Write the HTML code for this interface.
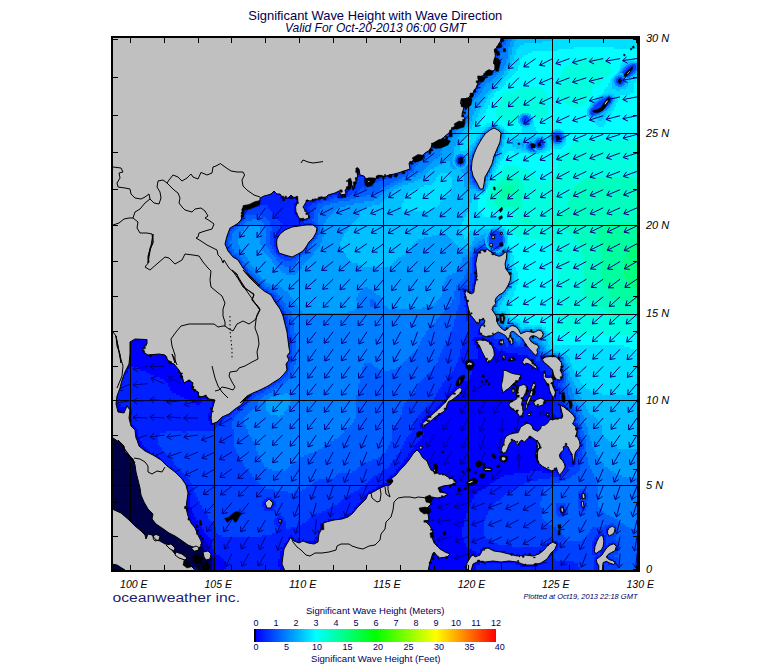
<!DOCTYPE html><html><head><meta charset="utf-8"><title>Significant Wave Height with Wave Direction</title>
<style>html,body{margin:0;padding:0;background:#fff}svg{display:block}text{font-family:"Liberation Sans",sans-serif}</style></head><body>
<svg width="775" height="665" viewBox="0 0 775 665">
<rect width="775" height="665" fill="#fff"/>
<defs><clipPath id="mapclip"><rect x="112" y="37" width="527" height="534"/></clipPath>
<linearGradient id="cb" x1="0" x2="1" y1="0" y2="0"><stop offset="0" stop-color="#0000ff"/><stop offset="0.25" stop-color="#00ffff"/><stop offset="0.5" stop-color="#00ff00"/><stop offset="0.75" stop-color="#ffff00"/><stop offset="1" stop-color="#ff0000"/></linearGradient></defs>
<g clip-path="url(#mapclip)">
<g shape-rendering="crispEdges">
<path fill="#000047" d="M112,413h4v2h-4zM112,415h4v2h-4zM112,417h6v2h-6zM112,419h6v2h-6zM112,421h6v2h-6zM112,423h6v2h-6zM112,425h6v2h-6zM112,427h6v2h-6zM112,429h6v2h-6zM112,431h6v2h-6zM112,433h6v2h-6zM112,435h8v2h-8zM112,437h8v2h-8zM112,439h8v2h-8zM112,441h8v2h-8zM112,443h8v2h-8zM112,445h8v2h-8zM112,447h8v2h-8zM112,449h8v2h-8zM112,451h10v2h-10zM112,453h10v2h-10zM112,455h10v2h-10zM112,457h12v2h-12zM112,459h12v2h-12zM112,461h12v2h-12zM112,463h12v2h-12zM112,465h14v2h-14zM112,467h14v2h-14zM112,469h16v2h-16zM112,471h16v2h-16zM112,473h18v2h-18zM112,475h18v2h-18zM112,477h20v2h-20zM112,479h20v2h-20zM112,481h22v2h-22zM112,483h24v2h-24zM112,485h24v2h-24zM112,487h26v2h-26zM112,489h26v2h-26zM112,491h28v2h-28zM112,493h28v2h-28zM112,495h30v2h-30zM112,497h32v2h-32zM112,499h32v2h-32zM112,501h34v2h-34zM112,503h36v2h-36zM112,505h36v2h-36zM112,507h38v2h-38zM112,509h38v2h-38zM112,511h40v2h-40zM112,513h40v2h-40zM112,515h42v2h-42zM112,517h42v2h-42zM112,519h44v2h-44zM112,521h46v2h-46zM112,523h48v2h-48zM112,525h50v2h-50zM112,527h52v2h-52zM112,529h54v2h-54zM112,531h56v2h-56zM112,533h58v2h-58zM112,535h60v2h-60zM112,537h62v2h-62zM112,539h66v2h-66zM112,541h68v2h-68zM112,543h70v2h-70zM112,545h72v2h-72zM112,547h74v2h-74zM112,549h76v2h-76zM112,551h78v2h-78zM112,553h80v2h-80zM112,555h82v2h-82zM196,555h4v2h-4zM112,557h78v2h-78zM200,557h2v2h-2zM112,559h76v2h-76zM112,561h72v2h-72zM204,561h2v2h-2zM112,563h64v2h-64zM204,563h2v2h-2zM112,565h54v2h-54zM204,565h2v2h-2zM112,567h44v2h-44zM112,569h40v2h-40z"/>
<path fill="#000047" d="M112,411h4v2h-4zM116,413h2v2h-2zM116,415h2v2h-2zM118,417h2v2h-2zM118,419h2v2h-2zM118,421h2v2h-2zM118,423h2v2h-2zM118,425h2v2h-2zM118,427h2v2h-2zM118,429h2v2h-2zM118,431h4v2h-4zM118,433h4v2h-4zM120,435h2v2h-2zM120,437h2v2h-2zM120,439h4v2h-4zM120,441h4v2h-4zM120,443h4v2h-4zM120,445h4v2h-4zM120,447h4v2h-4zM120,449h4v2h-4zM122,451h4v2h-4zM122,453h4v2h-4zM122,455h4v2h-4zM124,457h4v2h-4zM124,459h4v2h-4zM124,461h4v2h-4zM124,463h6v2h-6zM126,465h4v2h-4zM126,467h6v2h-6zM128,469h4v2h-4zM128,471h6v2h-6zM130,473h4v2h-4zM130,475h6v2h-6zM132,477h6v2h-6zM132,479h8v2h-8zM134,481h6v2h-6zM136,483h6v2h-6zM136,485h8v2h-8zM138,487h6v2h-6zM138,489h8v2h-8zM140,491h6v2h-6zM140,493h8v2h-8zM142,495h8v2h-8zM144,497h8v2h-8zM144,499h8v2h-8zM146,501h8v2h-8zM148,503h6v2h-6zM148,505h8v2h-8zM150,507h6v2h-6zM150,509h8v2h-8zM152,511h6v2h-6zM152,513h8v2h-8zM154,515h8v2h-8zM154,517h10v2h-10zM156,519h10v2h-10zM158,521h10v2h-10zM160,523h10v2h-10zM162,525h8v2h-8zM164,527h8v2h-8zM166,529h8v2h-8zM168,531h6v2h-6zM170,533h6v2h-6zM172,535h8v2h-8zM174,537h8v2h-8zM178,539h6v2h-6zM180,541h6v2h-6zM182,543h6v2h-6zM184,545h6v2h-6zM186,547h6v2h-6zM188,549h8v2h-8zM190,551h12v2h-12zM192,553h12v2h-12zM194,555h2v2h-2zM200,555h4v2h-4zM190,557h10v2h-10zM202,557h4v2h-4zM188,559h20v2h-20zM184,561h6v2h-6zM198,561h6v2h-6zM206,561h4v2h-4zM176,563h10v2h-10zM200,563h4v2h-4zM206,563h4v2h-4zM166,565h14v2h-14zM200,565h4v2h-4zM206,565h4v2h-4zM156,567h14v2h-14zM202,567h6v2h-6zM152,569h12v2h-12zM202,569h6v2h-6z"/>
<path fill="#000047" d="M112,409h2v2h-2zM116,411h2v2h-2zM118,413h2v2h-2zM118,415h2v2h-2zM120,419h2v2h-2zM120,421h2v2h-2zM120,423h2v2h-2zM120,425h2v2h-2zM120,427h2v2h-2zM120,429h4v2h-4zM122,431h2v2h-2zM122,433h4v2h-4zM122,435h4v2h-4zM122,437h4v2h-4zM124,439h2v2h-2zM124,441h2v2h-2zM124,443h2v2h-2zM124,445h4v2h-4zM124,447h4v2h-4zM124,449h4v2h-4zM126,451h4v2h-4zM126,453h4v2h-4zM126,455h6v2h-6zM128,457h4v2h-4zM128,459h4v2h-4zM128,461h6v2h-6zM130,463h4v2h-4zM130,465h6v2h-6zM132,467h4v2h-4zM132,469h6v2h-6zM134,471h6v2h-6zM134,473h6v2h-6zM136,475h6v2h-6zM138,477h6v2h-6zM140,479h6v2h-6zM140,481h8v2h-8zM142,483h6v2h-6zM144,485h6v2h-6zM144,487h6v2h-6zM146,489h6v2h-6zM146,491h8v2h-8zM148,493h8v2h-8zM150,495h8v2h-8zM152,497h8v2h-8zM152,499h8v2h-8zM154,501h8v2h-8zM154,503h8v2h-8zM156,505h8v2h-8zM156,507h8v2h-8zM158,509h8v2h-8zM158,511h8v2h-8zM160,513h8v2h-8zM162,515h8v2h-8zM164,517h8v2h-8zM166,519h8v2h-8zM168,521h8v2h-8zM170,523h6v2h-6zM170,525h8v2h-8zM172,527h6v2h-6zM174,529h6v2h-6zM174,531h8v2h-8zM176,533h8v2h-8zM180,535h8v2h-8zM182,537h6v2h-6zM184,539h6v2h-6zM186,541h6v2h-6zM188,543h6v2h-6zM190,545h6v2h-6zM192,547h8v2h-8zM196,549h6v2h-6zM202,551h2v2h-2zM204,553h2v2h-2zM204,555h2v2h-2zM206,557h2v2h-2zM208,559h2v2h-2zM190,561h8v2h-8zM210,561h2v2h-2zM186,563h14v2h-14zM210,563h2v2h-2zM180,565h8v2h-8zM198,565h2v2h-2zM210,565h2v2h-2zM170,567h12v2h-12zM200,567h2v2h-2zM208,567h2v2h-2zM164,569h12v2h-12zM200,569h2v2h-2zM208,569h2v2h-2z"/>
<path fill="#000047" d="M114,409h4v2h-4zM118,411h2v2h-2zM120,413h2v2h-2zM120,415h2v2h-2zM120,417h2v2h-2zM122,421h2v2h-2zM122,423h2v2h-2zM122,425h2v2h-2zM122,427h2v2h-2zM124,429h2v2h-2zM124,431h4v2h-4zM126,433h2v2h-2zM126,435h2v2h-2zM126,437h4v2h-4zM126,439h4v2h-4zM126,441h4v2h-4zM126,443h4v2h-4zM128,445h4v2h-4zM128,447h4v2h-4zM128,449h6v2h-6zM130,451h4v2h-4zM130,453h6v2h-6zM132,455h4v2h-4zM132,457h4v2h-4zM132,459h6v2h-6zM134,461h4v2h-4zM134,463h6v2h-6zM136,465h4v2h-4zM136,467h6v2h-6zM138,469h6v2h-6zM140,471h6v2h-6zM140,473h8v2h-8zM142,475h8v2h-8zM144,477h8v2h-8zM146,479h6v2h-6zM148,481h6v2h-6zM148,483h8v2h-8zM150,485h8v2h-8zM150,487h10v2h-10zM152,489h10v2h-10zM154,491h10v2h-10zM156,493h8v2h-8zM158,495h8v2h-8zM160,497h8v2h-8zM160,499h8v2h-8zM162,501h6v2h-6zM162,503h8v2h-8zM164,505h6v2h-6zM164,507h8v2h-8zM166,509h8v2h-8zM166,511h8v2h-8zM168,513h8v2h-8zM170,515h8v2h-8zM172,517h8v2h-8zM174,519h6v2h-6zM176,521h6v2h-6zM176,523h6v2h-6zM178,525h6v2h-6zM178,527h8v2h-8zM180,529h8v2h-8zM182,531h8v2h-8zM184,533h8v2h-8zM188,535h4v2h-4zM188,537h6v2h-6zM190,539h4v2h-4zM192,541h4v2h-4zM194,543h6v2h-6zM196,545h6v2h-6zM200,547h4v2h-4zM202,549h2v2h-2zM204,551h2v2h-2zM206,553h2v2h-2zM206,555h2v2h-2zM208,557h4v2h-4zM210,559h2v2h-2zM188,565h10v2h-10zM182,567h8v2h-8zM196,567h4v2h-4zM210,567h2v2h-2zM176,569h10v2h-10zM198,569h2v2h-2zM210,569h2v2h-2z"/>
<path fill="#0000c2" d="M112,407h6v2h-6zM118,409h2v2h-2zM120,411h2v2h-2zM122,413h2v2h-2zM122,415h2v2h-2zM122,417h2v2h-2zM122,419h4v2h-4zM124,421h2v2h-2zM124,423h2v2h-2zM124,425h4v2h-4zM124,427h4v2h-4zM126,429h4v2h-4zM128,431h4v2h-4zM128,433h4v2h-4zM128,435h6v2h-6zM130,437h4v2h-4zM130,439h4v2h-4zM130,441h6v2h-6zM130,443h6v2h-6zM132,445h6v2h-6zM132,447h6v2h-6zM134,449h6v2h-6zM134,451h6v2h-6zM136,453h6v2h-6zM136,455h6v2h-6zM136,457h8v2h-8zM138,459h6v2h-6zM138,461h8v2h-8zM140,463h8v2h-8zM140,465h10v2h-10zM142,467h10v2h-10zM144,469h10v2h-10zM146,471h10v2h-10zM148,473h10v2h-10zM150,475h10v2h-10zM152,477h10v2h-10zM152,479h10v2h-10zM154,481h12v2h-12zM156,483h12v2h-12zM158,485h12v2h-12zM160,487h12v2h-12zM162,489h12v2h-12zM164,491h10v2h-10zM164,493h12v2h-12zM166,495h10v2h-10zM168,497h10v2h-10zM168,499h10v2h-10zM168,501h12v2h-12zM170,503h10v2h-10zM170,505h12v2h-12zM172,507h10v2h-10zM174,509h10v2h-10zM174,511h12v2h-12zM176,513h10v2h-10zM178,515h8v2h-8zM180,517h8v2h-8zM180,519h8v2h-8zM182,521h8v2h-8zM182,523h8v2h-8zM184,525h8v2h-8zM186,527h8v2h-8zM188,529h8v2h-8zM190,531h6v2h-6zM192,533h6v2h-6zM192,535h6v2h-6zM194,537h6v2h-6zM194,539h6v2h-6zM196,541h6v2h-6zM200,543h4v2h-4zM202,545h4v2h-4zM204,547h2v2h-2zM204,549h4v2h-4zM206,551h2v2h-2zM208,553h2v2h-2zM208,555h4v2h-4zM212,559h2v2h-2zM212,561h2v2h-2zM212,563h2v2h-2zM212,565h2v2h-2zM190,567h6v2h-6zM212,567h2v2h-2zM186,569h12v2h-12z"/>
<path fill="#0000e1" d="M112,237h2v2h-2zM112,239h4v2h-4zM112,241h6v2h-6zM112,243h8v2h-8zM112,245h10v2h-10zM112,247h12v2h-12zM112,249h14v2h-14zM112,251h16v2h-16zM112,253h20v2h-20zM112,255h22v2h-22zM112,257h24v2h-24zM112,259h26v2h-26zM112,261h28v2h-28zM112,263h30v2h-30zM112,265h32v2h-32zM112,267h34v2h-34zM112,269h38v2h-38zM112,271h40v2h-40zM112,273h42v2h-42zM112,275h44v2h-44zM112,277h46v2h-46zM112,279h50v2h-50zM112,281h52v2h-52zM112,283h54v2h-54zM112,285h56v2h-56zM112,287h58v2h-58zM112,289h62v2h-62zM112,291h62v2h-62zM112,293h64v2h-64zM112,295h62v2h-62zM112,297h62v2h-62zM112,299h60v2h-60zM112,301h58v2h-58zM112,303h56v2h-56zM112,305h56v2h-56zM112,307h54v2h-54zM112,309h52v2h-52zM112,311h50v2h-50zM112,313h50v2h-50zM112,315h48v2h-48zM112,317h46v2h-46zM112,319h46v2h-46zM112,321h44v2h-44zM112,323h42v2h-42zM112,325h40v2h-40zM112,327h40v2h-40zM112,329h38v2h-38zM112,331h38v2h-38zM112,333h36v2h-36zM112,335h36v2h-36zM112,337h34v2h-34zM112,339h28v2h-28zM112,341h20v2h-20zM146,341h2v2h-2zM112,343h20v2h-20zM146,343h2v2h-2zM112,345h20v2h-20zM144,345h8v2h-8zM112,347h20v2h-20zM142,347h12v2h-12zM112,349h20v2h-20zM142,349h14v2h-14zM114,351h18v2h-18zM142,351h16v2h-16zM122,353h8v2h-8zM146,353h14v2h-14zM128,355h2v2h-2zM168,361h4v2h-4zM174,363h2v2h-2zM176,367h2v2h-2zM500,387h8v2h-8zM510,387h4v2h-4zM518,387h10v2h-10zM530,387h4v2h-4zM502,389h4v2h-4zM512,389h2v2h-2zM516,389h12v2h-12zM530,389h4v2h-4zM502,391h2v2h-2zM516,391h12v2h-12zM530,391h4v2h-4zM516,393h8v2h-8zM528,393h4v2h-4zM516,395h8v2h-8zM528,395h4v2h-4zM516,397h8v2h-8zM526,397h4v2h-4zM512,399h10v2h-10zM526,399h4v2h-4zM534,399h10v2h-10zM510,401h12v2h-12zM526,401h2v2h-2zM532,401h14v2h-14zM508,403h14v2h-14zM524,403h4v2h-4zM534,403h10v2h-10zM508,405h14v2h-14zM524,405h4v2h-4zM118,407h2v2h-2zM510,407h12v2h-12zM524,407h2v2h-2zM120,409h2v2h-2zM514,409h12v2h-12zM122,411h2v2h-2zM516,411h6v2h-6zM124,413h2v2h-2zM518,413h4v2h-4zM528,413h2v2h-2zM124,415h2v2h-2zM518,415h2v2h-2zM124,417h4v2h-4zM126,419h2v2h-2zM126,421h2v2h-2zM126,423h4v2h-4zM524,423h6v2h-6zM128,425h2v2h-2zM520,425h12v2h-12zM540,425h10v2h-10zM128,427h4v2h-4zM520,427h12v2h-12zM540,427h10v2h-10zM130,429h4v2h-4zM518,429h18v2h-18zM538,429h12v2h-12zM132,431h2v2h-2zM518,431h34v2h-34zM132,433h4v2h-4zM508,433h44v2h-44zM134,435h2v2h-2zM506,435h46v2h-46zM134,437h2v2h-2zM504,437h24v2h-24zM532,437h20v2h-20zM134,439h4v2h-4zM504,439h22v2h-22zM534,439h18v2h-18zM136,441h2v2h-2zM502,441h8v2h-8zM516,441h4v2h-4zM536,441h16v2h-16zM136,443h4v2h-4zM502,443h6v2h-6zM516,443h2v2h-2zM536,443h18v2h-18zM138,445h2v2h-2zM420,445h2v2h-2zM502,445h6v2h-6zM536,445h18v2h-18zM138,447h4v2h-4zM420,447h2v2h-2zM500,447h8v2h-8zM536,447h18v2h-18zM140,449h4v2h-4zM416,449h2v2h-2zM500,449h6v2h-6zM536,449h18v2h-18zM140,451h6v2h-6zM416,451h4v2h-4zM502,451h4v2h-4zM534,451h20v2h-20zM142,453h4v2h-4zM414,453h6v2h-6zM534,453h20v2h-20zM142,455h6v2h-6zM414,455h8v2h-8zM536,455h18v2h-18zM144,457h6v2h-6zM414,457h10v2h-10zM500,457h6v2h-6zM536,457h18v2h-18zM144,459h8v2h-8zM414,459h12v2h-12zM500,459h6v2h-6zM536,459h18v2h-18zM146,461h8v2h-8zM416,461h12v2h-12zM538,461h16v2h-16zM148,463h8v2h-8zM418,463h10v2h-10zM538,463h14v2h-14zM150,465h8v2h-8zM420,465h10v2h-10zM542,465h10v2h-10zM152,467h8v2h-8zM420,467h10v2h-10zM434,467h2v2h-2zM486,467h4v2h-4zM546,467h4v2h-4zM154,469h8v2h-8zM422,469h10v2h-10zM434,469h2v2h-2zM484,469h6v2h-6zM156,471h8v2h-8zM422,471h14v2h-14zM158,473h8v2h-8zM422,473h22v2h-22zM160,475h8v2h-8zM420,475h26v2h-26zM162,477h8v2h-8zM420,477h34v2h-34zM162,479h10v2h-10zM420,479h36v2h-36zM470,479h2v2h-2zM166,481h8v2h-8zM420,481h38v2h-38zM466,481h6v2h-6zM168,483h8v2h-8zM418,483h38v2h-38zM466,483h4v2h-4zM170,485h8v2h-8zM418,485h32v2h-32zM172,487h8v2h-8zM416,487h24v2h-24zM174,489h8v2h-8zM414,489h26v2h-26zM174,491h8v2h-8zM412,491h34v2h-34zM176,493h8v2h-8zM410,493h40v2h-40zM176,495h8v2h-8zM408,495h38v2h-38zM178,497h6v2h-6zM408,497h36v2h-36zM178,499h8v2h-8zM408,499h22v2h-22zM180,501h6v2h-6zM408,501h24v2h-24zM180,503h6v2h-6zM408,503h24v2h-24zM182,505h4v2h-4zM410,505h20v2h-20zM182,507h6v2h-6zM410,507h18v2h-18zM184,509h4v2h-4zM410,509h14v2h-14zM186,511h2v2h-2zM412,511h14v2h-14zM186,513h4v2h-4zM412,513h18v2h-18zM186,515h4v2h-4zM414,515h14v2h-14zM188,517h2v2h-2zM414,517h16v2h-16zM188,519h4v2h-4zM414,519h16v2h-16zM190,521h2v2h-2zM416,521h10v2h-10zM190,523h4v2h-4zM416,523h12v2h-12zM192,525h4v2h-4zM416,525h14v2h-14zM194,527h2v2h-2zM416,527h16v2h-16zM196,529h2v2h-2zM416,529h16v2h-16zM196,531h4v2h-4zM414,531h20v2h-20zM198,533h2v2h-2zM412,533h22v2h-22zM198,535h4v2h-4zM408,535h24v2h-24zM200,537h4v2h-4zM404,537h28v2h-28zM200,539h6v2h-6zM400,539h34v2h-34zM202,541h6v2h-6zM396,541h38v2h-38zM204,543h4v2h-4zM392,543h44v2h-44zM206,545h2v2h-2zM390,545h48v2h-48zM206,547h4v2h-4zM388,547h52v2h-52zM208,549h2v2h-2zM390,549h52v2h-52zM208,551h2v2h-2zM396,551h50v2h-50zM210,553h2v2h-2zM404,553h30v2h-30zM436,553h14v2h-14zM212,555h2v2h-2zM414,555h18v2h-18zM436,555h12v2h-12zM212,557h4v2h-4zM424,557h8v2h-8zM438,557h2v2h-2zM214,559h2v2h-2zM214,561h2v2h-2zM214,563h2v2h-2zM214,565h2v2h-2zM214,567h2v2h-2zM212,569h4v2h-4z"/>
<path fill="#0000ff" d="M112,37h220v2h-220zM112,39h220v2h-220zM112,41h220v2h-220zM112,43h222v2h-222zM112,45h224v2h-224zM112,47h224v2h-224zM112,49h226v2h-226zM112,51h228v2h-228zM112,53h228v2h-228zM112,55h230v2h-230zM112,57h232v2h-232zM112,59h232v2h-232zM112,61h234v2h-234zM112,63h236v2h-236zM112,65h236v2h-236zM112,67h238v2h-238zM112,69h240v2h-240zM112,71h240v2h-240zM112,73h242v2h-242zM112,75h242v2h-242zM112,77h242v2h-242zM112,79h216v2h-216zM330,79h26v2h-26zM112,81h216v2h-216zM330,81h26v2h-26zM112,83h216v2h-216zM330,83h28v2h-28zM112,85h216v2h-216zM332,85h26v2h-26zM112,87h216v2h-216zM332,87h26v2h-26zM112,89h216v2h-216zM332,89h28v2h-28zM112,91h214v2h-214zM332,91h28v2h-28zM114,93h212v2h-212zM334,93h28v2h-28zM116,95h210v2h-210zM334,95h28v2h-28zM430,95h4v2h-4zM118,97h208v2h-208zM334,97h28v2h-28zM426,97h6v2h-6zM120,99h206v2h-206zM334,99h30v2h-30zM422,99h8v2h-8zM122,101h204v2h-204zM334,101h30v2h-30zM420,101h8v2h-8zM126,103h200v2h-200zM336,103h28v2h-28zM416,103h10v2h-10zM128,105h198v2h-198zM336,105h30v2h-30zM412,105h12v2h-12zM130,107h196v2h-196zM336,107h30v2h-30zM410,107h12v2h-12zM132,109h194v2h-194zM336,109h32v2h-32zM404,109h16v2h-16zM134,111h192v2h-192zM336,111h32v2h-32zM400,111h18v2h-18zM136,113h190v2h-190zM338,113h30v2h-30zM396,113h20v2h-20zM138,115h188v2h-188zM338,115h32v2h-32zM394,115h20v2h-20zM140,117h186v2h-186zM338,117h32v2h-32zM390,117h22v2h-22zM142,119h184v2h-184zM338,119h34v2h-34zM388,119h22v2h-22zM144,121h182v2h-182zM340,121h32v2h-32zM384,121h24v2h-24zM146,123h180v2h-180zM340,123h36v2h-36zM380,123h26v2h-26zM148,125h178v2h-178zM340,125h64v2h-64zM150,127h176v2h-176zM340,127h62v2h-62zM152,129h174v2h-174zM340,129h60v2h-60zM154,131h172v2h-172zM342,131h56v2h-56zM158,133h168v2h-168zM342,133h54v2h-54zM160,135h166v2h-166zM344,135h50v2h-50zM162,137h164v2h-164zM344,137h48v2h-48zM164,139h162v2h-162zM346,139h44v2h-44zM166,141h160v2h-160zM344,141h44v2h-44zM168,143h158v2h-158zM344,143h42v2h-42zM170,145h156v2h-156zM342,145h42v2h-42zM172,147h154v2h-154zM338,147h44v2h-44zM174,149h152v2h-152zM334,149h46v2h-46zM176,151h152v2h-152zM332,151h46v2h-46zM178,153h198v2h-198zM180,155h196v2h-196zM182,157h192v2h-192zM184,159h188v2h-188zM186,161h184v2h-184zM190,163h178v2h-178zM192,165h176v2h-176zM194,167h172v2h-172zM196,169h160v2h-160zM358,169h8v2h-8zM198,171h158v2h-158zM360,171h4v2h-4zM200,173h158v2h-158zM360,173h4v2h-4zM202,175h156v2h-156zM364,175h2v2h-2zM204,177h152v2h-152zM364,177h4v2h-4zM206,179h150v2h-150zM366,179h4v2h-4zM208,181h148v2h-148zM366,181h4v2h-4zM210,183h138v2h-138zM350,183h6v2h-6zM212,185h136v2h-136zM352,185h2v2h-2zM214,187h134v2h-134zM216,189h130v2h-130zM220,191h118v2h-118zM340,191h6v2h-6zM222,193h50v2h-50zM276,193h56v2h-56zM340,193h6v2h-6zM224,195h40v2h-40zM280,195h48v2h-48zM226,197h34v2h-34zM280,197h10v2h-10zM292,197h28v2h-28zM228,199h32v2h-32zM296,199h20v2h-20zM230,201h28v2h-28zM296,201h10v2h-10zM232,203h24v2h-24zM294,203h12v2h-12zM234,205h16v2h-16zM294,205h10v2h-10zM236,207h8v2h-8zM294,207h10v2h-10zM238,209h4v2h-4zM294,209h12v2h-12zM240,211h2v2h-2zM294,211h12v2h-12zM296,213h12v2h-12zM296,215h12v2h-12zM298,217h12v2h-12zM302,219h2v2h-2zM298,225h10v2h-10zM290,227h16v2h-16zM284,229h22v2h-22zM112,231h4v2h-4zM282,231h22v2h-22zM112,233h6v2h-6zM280,233h24v2h-24zM112,235h8v2h-8zM278,235h22v2h-22zM114,237h8v2h-8zM278,237h20v2h-20zM116,239h8v2h-8zM276,239h18v2h-18zM118,241h8v2h-8zM276,241h16v2h-16zM120,243h8v2h-8zM276,243h14v2h-14zM122,245h8v2h-8zM276,245h12v2h-12zM124,247h8v2h-8zM276,247h10v2h-10zM126,249h10v2h-10zM278,249h8v2h-8zM128,251h10v2h-10zM278,251h8v2h-8zM132,253h8v2h-8zM282,253h4v2h-4zM134,255h8v2h-8zM136,257h8v2h-8zM138,259h8v2h-8zM140,261h10v2h-10zM142,263h10v2h-10zM474,263h2v2h-2zM144,265h10v2h-10zM474,265h2v2h-2zM146,267h10v2h-10zM150,269h8v2h-8zM476,269h2v2h-2zM152,271h10v2h-10zM476,271h2v2h-2zM154,273h10v2h-10zM476,273h2v2h-2zM156,275h10v2h-10zM200,275h6v2h-6zM476,275h2v2h-2zM158,277h10v2h-10zM198,277h10v2h-10zM476,277h2v2h-2zM162,279h8v2h-8zM194,279h14v2h-14zM474,279h4v2h-4zM164,281h10v2h-10zM192,281h18v2h-18zM474,281h4v2h-4zM166,283h10v2h-10zM190,283h22v2h-22zM474,283h4v2h-4zM168,285h10v2h-10zM190,285h22v2h-22zM474,285h2v2h-2zM170,287h10v2h-10zM188,287h26v2h-26zM174,289h42v2h-42zM464,289h2v2h-2zM472,289h2v2h-2zM174,291h44v2h-44zM464,291h6v2h-6zM176,293h44v2h-44zM464,293h6v2h-6zM174,295h48v2h-48zM466,295h2v2h-2zM174,297h50v2h-50zM264,297h8v2h-8zM466,297h2v2h-2zM172,299h54v2h-54zM254,299h20v2h-20zM466,299h2v2h-2zM170,301h58v2h-58zM246,301h30v2h-30zM466,301h2v2h-2zM168,303h108v2h-108zM466,303h2v2h-2zM168,305h110v2h-110zM466,305h4v2h-4zM166,307h114v2h-114zM468,307h2v2h-2zM164,309h116v2h-116zM468,309h2v2h-2zM162,311h120v2h-120zM468,311h4v2h-4zM162,313h120v2h-120zM470,313h2v2h-2zM160,315h124v2h-124zM470,315h4v2h-4zM158,317h126v2h-126zM472,317h4v2h-4zM158,319h126v2h-126zM474,319h4v2h-4zM156,321h128v2h-128zM476,321h4v2h-4zM154,323h132v2h-132zM152,325h134v2h-134zM480,325h4v2h-4zM152,327h134v2h-134zM480,327h6v2h-6zM150,329h136v2h-136zM478,329h12v2h-12zM150,331h136v2h-136zM478,331h14v2h-14zM148,333h138v2h-138zM478,333h16v2h-16zM148,335h138v2h-138zM482,335h6v2h-6zM146,337h138v2h-138zM474,337h10v2h-10zM140,339h144v2h-144zM472,339h18v2h-18zM500,339h4v2h-4zM132,341h14v2h-14zM148,341h134v2h-134zM474,341h18v2h-18zM498,341h6v2h-6zM132,343h14v2h-14zM148,343h132v2h-132zM474,343h20v2h-20zM498,343h4v2h-4zM510,343h2v2h-2zM132,345h12v2h-12zM152,345h128v2h-128zM476,345h18v2h-18zM132,347h10v2h-10zM154,347h124v2h-124zM476,347h20v2h-20zM528,347h2v2h-2zM132,349h10v2h-10zM156,349h120v2h-120zM478,349h20v2h-20zM530,349h2v2h-2zM112,351h2v2h-2zM132,351h10v2h-10zM158,351h118v2h-118zM478,351h28v2h-28zM532,351h4v2h-4zM112,353h10v2h-10zM130,353h16v2h-16zM160,353h114v2h-114zM478,353h40v2h-40zM534,353h2v2h-2zM112,355h16v2h-16zM130,355h144v2h-144zM478,355h50v2h-50zM112,357h160v2h-160zM478,357h52v2h-52zM112,359h158v2h-158zM468,359h64v2h-64zM112,361h56v2h-56zM172,361h98v2h-98zM466,361h68v2h-68zM112,363h62v2h-62zM176,363h92v2h-92zM464,363h72v2h-72zM112,365h154v2h-154zM466,365h72v2h-72zM548,365h2v2h-2zM112,367h18v2h-18zM138,367h38v2h-38zM178,367h88v2h-88zM466,367h74v2h-74zM550,367h2v2h-2zM112,369h16v2h-16zM140,369h124v2h-124zM472,369h68v2h-68zM552,369h2v2h-2zM112,371h16v2h-16zM146,371h118v2h-118zM472,371h74v2h-74zM552,371h4v2h-4zM112,373h14v2h-14zM150,373h112v2h-112zM472,373h74v2h-74zM552,373h6v2h-6zM112,375h12v2h-12zM154,375h106v2h-106zM470,375h82v2h-82zM554,375h4v2h-4zM112,377h12v2h-12zM160,377h100v2h-100zM458,377h4v2h-4zM470,377h82v2h-82zM554,377h6v2h-6zM112,379h10v2h-10zM164,379h94v2h-94zM458,379h6v2h-6zM468,379h86v2h-86zM112,381h10v2h-10zM166,381h92v2h-92zM456,381h98v2h-98zM112,383h10v2h-10zM168,383h88v2h-88zM456,383h98v2h-98zM112,385h8v2h-8zM168,385h88v2h-88zM456,385h98v2h-98zM112,387h8v2h-8zM170,387h84v2h-84zM454,387h46v2h-46zM508,387h2v2h-2zM514,387h4v2h-4zM528,387h2v2h-2zM534,387h22v2h-22zM112,389h8v2h-8zM170,389h82v2h-82zM452,389h50v2h-50zM506,389h6v2h-6zM514,389h2v2h-2zM528,389h2v2h-2zM534,389h22v2h-22zM112,391h6v2h-6zM172,391h80v2h-80zM450,391h52v2h-52zM504,391h12v2h-12zM528,391h2v2h-2zM534,391h22v2h-22zM112,393h6v2h-6zM176,393h74v2h-74zM448,393h68v2h-68zM524,393h4v2h-4zM532,393h24v2h-24zM112,395h6v2h-6zM180,395h68v2h-68zM448,395h68v2h-68zM524,395h4v2h-4zM532,395h24v2h-24zM112,397h6v2h-6zM184,397h64v2h-64zM446,397h70v2h-70zM524,397h2v2h-2zM530,397h26v2h-26zM112,399h4v2h-4zM188,399h14v2h-14zM206,399h40v2h-40zM444,399h68v2h-68zM522,399h4v2h-4zM530,399h4v2h-4zM544,399h10v2h-10zM112,401h4v2h-4zM192,401h10v2h-10zM212,401h32v2h-32zM442,401h68v2h-68zM522,401h4v2h-4zM528,401h4v2h-4zM546,401h6v2h-6zM112,403h6v2h-6zM196,403h4v2h-4zM212,403h30v2h-30zM440,403h68v2h-68zM522,403h2v2h-2zM528,403h6v2h-6zM544,403h8v2h-8zM112,405h8v2h-8zM126,405h2v2h-2zM212,405h28v2h-28zM438,405h70v2h-70zM522,405h2v2h-2zM528,405h24v2h-24zM560,405h4v2h-4zM120,407h10v2h-10zM210,407h26v2h-26zM436,407h74v2h-74zM522,407h2v2h-2zM526,407h26v2h-26zM560,407h6v2h-6zM122,409h10v2h-10zM210,409h24v2h-24zM434,409h80v2h-80zM526,409h26v2h-26zM560,409h8v2h-8zM124,411h8v2h-8zM210,411h22v2h-22zM432,411h84v2h-84zM522,411h30v2h-30zM560,411h10v2h-10zM126,413h6v2h-6zM208,413h22v2h-22zM428,413h90v2h-90zM522,413h6v2h-6zM530,413h24v2h-24zM562,413h8v2h-8zM126,415h4v2h-4zM208,415h16v2h-16zM426,415h92v2h-92zM520,415h36v2h-36zM562,415h10v2h-10zM128,417h2v2h-2zM208,417h14v2h-14zM424,417h148v2h-148zM128,419h4v2h-4zM208,419h12v2h-12zM422,419h152v2h-152zM128,421h4v2h-4zM210,421h8v2h-8zM422,421h150v2h-150zM130,423h2v2h-2zM210,423h4v2h-4zM420,423h104v2h-104zM530,423h44v2h-44zM130,425h4v2h-4zM420,425h100v2h-100zM532,425h8v2h-8zM550,425h26v2h-26zM132,427h4v2h-4zM420,427h100v2h-100zM532,427h8v2h-8zM550,427h26v2h-26zM134,429h4v2h-4zM422,429h96v2h-96zM536,429h2v2h-2zM550,429h28v2h-28zM134,431h4v2h-4zM424,431h94v2h-94zM552,431h26v2h-26zM136,433h2v2h-2zM424,433h84v2h-84zM552,433h24v2h-24zM136,435h2v2h-2zM422,435h84v2h-84zM552,435h24v2h-24zM136,437h4v2h-4zM422,437h82v2h-82zM528,437h4v2h-4zM552,437h26v2h-26zM138,439h2v2h-2zM420,439h84v2h-84zM526,439h8v2h-8zM552,439h26v2h-26zM138,441h4v2h-4zM418,441h84v2h-84zM510,441h6v2h-6zM520,441h16v2h-16zM552,441h28v2h-28zM140,443h2v2h-2zM416,443h86v2h-86zM508,443h8v2h-8zM518,443h18v2h-18zM554,443h26v2h-26zM140,445h4v2h-4zM414,445h6v2h-6zM422,445h80v2h-80zM508,445h28v2h-28zM554,445h12v2h-12zM568,445h12v2h-12zM142,447h4v2h-4zM414,447h6v2h-6zM422,447h78v2h-78zM508,447h28v2h-28zM554,447h10v2h-10zM568,447h10v2h-10zM144,449h4v2h-4zM412,449h4v2h-4zM418,449h82v2h-82zM506,449h30v2h-30zM554,449h10v2h-10zM568,449h8v2h-8zM146,451h4v2h-4zM410,451h6v2h-6zM420,451h82v2h-82zM506,451h28v2h-28zM554,451h8v2h-8zM570,451h6v2h-6zM146,453h8v2h-8zM408,453h6v2h-6zM420,453h114v2h-114zM554,453h8v2h-8zM570,453h6v2h-6zM148,455h10v2h-10zM408,455h6v2h-6zM422,455h114v2h-114zM554,455h8v2h-8zM572,455h2v2h-2zM150,457h10v2h-10zM406,457h8v2h-8zM424,457h76v2h-76zM506,457h30v2h-30zM554,457h8v2h-8zM572,457h2v2h-2zM152,459h10v2h-10zM404,459h10v2h-10zM426,459h74v2h-74zM506,459h30v2h-30zM554,459h10v2h-10zM572,459h2v2h-2zM154,461h10v2h-10zM404,461h12v2h-12zM428,461h110v2h-110zM554,461h10v2h-10zM572,461h2v2h-2zM156,463h10v2h-10zM402,463h16v2h-16zM428,463h110v2h-110zM552,463h14v2h-14zM572,463h2v2h-2zM158,465h10v2h-10zM400,465h20v2h-20zM430,465h112v2h-112zM552,465h14v2h-14zM160,467h12v2h-12zM398,467h22v2h-22zM430,467h4v2h-4zM436,467h50v2h-50zM490,467h56v2h-56zM550,467h14v2h-14zM162,469h12v2h-12zM396,469h26v2h-26zM432,469h2v2h-2zM436,469h48v2h-48zM490,469h74v2h-74zM164,471h12v2h-12zM396,471h26v2h-26zM436,471h94v2h-94zM542,471h12v2h-12zM556,471h6v2h-6zM166,473h12v2h-12zM394,473h28v2h-28zM444,473h70v2h-70zM558,473h2v2h-2zM168,475h12v2h-12zM390,475h30v2h-30zM446,475h58v2h-58zM170,477h12v2h-12zM388,477h32v2h-32zM454,477h46v2h-46zM172,479h12v2h-12zM388,479h32v2h-32zM456,479h14v2h-14zM472,479h24v2h-24zM174,481h10v2h-10zM388,481h32v2h-32zM458,481h8v2h-8zM472,481h22v2h-22zM176,483h10v2h-10zM382,483h36v2h-36zM456,483h10v2h-10zM470,483h20v2h-20zM178,485h10v2h-10zM378,485h40v2h-40zM450,485h38v2h-38zM180,487h8v2h-8zM376,487h40v2h-40zM440,487h46v2h-46zM182,489h6v2h-6zM372,489h42v2h-42zM440,489h42v2h-42zM182,491h8v2h-8zM368,491h44v2h-44zM446,491h32v2h-32zM184,493h6v2h-6zM366,493h44v2h-44zM450,493h26v2h-26zM184,495h6v2h-6zM364,495h44v2h-44zM446,495h28v2h-28zM184,497h6v2h-6zM364,497h44v2h-44zM444,497h30v2h-30zM186,499h4v2h-4zM268,499h2v2h-2zM362,499h46v2h-46zM430,499h42v2h-42zM186,501h4v2h-4zM266,501h6v2h-6zM360,501h48v2h-48zM432,501h40v2h-40zM186,503h4v2h-4zM264,503h10v2h-10zM358,503h50v2h-50zM432,503h38v2h-38zM186,505h4v2h-4zM266,505h6v2h-6zM356,505h54v2h-54zM430,505h40v2h-40zM188,507h4v2h-4zM266,507h6v2h-6zM354,507h56v2h-56zM428,507h40v2h-40zM188,509h4v2h-4zM354,509h56v2h-56zM424,509h44v2h-44zM188,511h4v2h-4zM352,511h60v2h-60zM426,511h42v2h-42zM190,513h4v2h-4zM350,513h62v2h-62zM430,513h36v2h-36zM190,515h4v2h-4zM346,515h68v2h-68zM428,515h38v2h-38zM190,517h6v2h-6zM340,517h74v2h-74zM430,517h36v2h-36zM192,519h4v2h-4zM278,519h4v2h-4zM328,519h86v2h-86zM430,519h34v2h-34zM192,521h6v2h-6zM278,521h4v2h-4zM324,521h92v2h-92zM426,521h38v2h-38zM194,523h4v2h-4zM320,523h96v2h-96zM428,523h36v2h-36zM196,525h4v2h-4zM320,525h96v2h-96zM430,525h34v2h-34zM196,527h6v2h-6zM320,527h96v2h-96zM432,527h30v2h-30zM198,529h6v2h-6zM320,529h96v2h-96zM432,529h30v2h-30zM606,529h2v2h-2zM200,531h4v2h-4zM318,531h96v2h-96zM434,531h28v2h-28zM606,531h4v2h-4zM200,533h6v2h-6zM318,533h94v2h-94zM434,533h28v2h-28zM608,533h2v2h-2zM202,535h6v2h-6zM290,535h2v2h-2zM318,535h90v2h-90zM432,535h30v2h-30zM600,535h4v2h-4zM204,537h6v2h-6zM288,537h6v2h-6zM316,537h88v2h-88zM432,537h30v2h-30zM598,537h6v2h-6zM206,539h6v2h-6zM288,539h8v2h-8zM302,539h2v2h-2zM316,539h84v2h-84zM434,539h30v2h-30zM596,539h8v2h-8zM208,541h4v2h-4zM286,541h110v2h-110zM434,541h30v2h-30zM552,541h2v2h-2zM596,541h8v2h-8zM208,543h4v2h-4zM284,543h108v2h-108zM436,543h30v2h-30zM550,543h8v2h-8zM594,543h10v2h-10zM612,543h2v2h-2zM208,545h4v2h-4zM284,545h106v2h-106zM438,545h28v2h-28zM546,545h10v2h-10zM594,545h10v2h-10zM608,545h8v2h-8zM210,547h2v2h-2zM282,547h106v2h-106zM440,547h28v2h-28zM482,547h8v2h-8zM546,547h10v2h-10zM594,547h8v2h-8zM606,547h10v2h-10zM210,549h4v2h-4zM282,549h108v2h-108zM442,549h30v2h-30zM480,549h14v2h-14zM544,549h10v2h-10zM594,549h8v2h-8zM604,549h12v2h-12zM210,551h4v2h-4zM280,551h116v2h-116zM446,551h30v2h-30zM480,551h26v2h-26zM542,551h10v2h-10zM594,551h2v2h-2zM602,551h10v2h-10zM212,553h4v2h-4zM280,553h124v2h-124zM434,553h2v2h-2zM450,553h64v2h-64zM524,553h2v2h-2zM536,553h14v2h-14zM602,553h6v2h-6zM214,555h6v2h-6zM280,555h134v2h-134zM432,555h4v2h-4zM448,555h102v2h-102zM600,555h8v2h-8zM216,557h6v2h-6zM280,557h144v2h-144zM432,557h6v2h-6zM440,557h108v2h-108zM596,557h12v2h-12zM216,559h8v2h-8zM278,559h268v2h-268zM596,559h16v2h-16zM216,561h10v2h-10zM278,561h266v2h-266zM596,561h8v2h-8zM608,561h8v2h-8zM216,563h10v2h-10zM278,563h202v2h-202zM484,563h2v2h-2zM500,563h2v2h-2zM516,563h26v2h-26zM596,563h6v2h-6zM612,563h2v2h-2zM216,565h10v2h-10zM278,565h198v2h-198zM520,565h18v2h-18zM598,565h4v2h-4zM216,567h10v2h-10zM280,567h196v2h-196zM598,567h4v2h-4zM216,569h8v2h-8zM280,569h196v2h-196zM598,569h4v2h-4z"/>
<path fill="#0020ff" d="M332,37h170v2h-170zM332,39h170v2h-170zM332,41h168v2h-168zM334,43h166v2h-166zM336,45h162v2h-162zM336,47h160v2h-160zM338,49h156v2h-156zM340,51h154v2h-154zM340,53h156v2h-156zM342,55h154v2h-154zM344,57h150v2h-150zM344,59h150v2h-150zM346,61h150v2h-150zM348,63h148v2h-148zM348,65h148v2h-148zM350,67h146v2h-146zM352,69h142v2h-142zM630,69h2v2h-2zM352,71h134v2h-134zM490,71h2v2h-2zM628,71h2v2h-2zM354,73h132v2h-132zM626,73h2v2h-2zM354,75h128v2h-128zM354,77h126v2h-126zM328,79h2v2h-2zM356,79h122v2h-122zM328,81h2v2h-2zM356,81h122v2h-122zM328,83h2v2h-2zM358,83h120v2h-120zM328,85h4v2h-4zM358,85h120v2h-120zM328,87h4v2h-4zM358,87h118v2h-118zM328,89h4v2h-4zM360,89h116v2h-116zM326,91h6v2h-6zM360,91h114v2h-114zM112,93h2v2h-2zM326,93h8v2h-8zM362,93h110v2h-110zM112,95h4v2h-4zM326,95h8v2h-8zM362,95h68v2h-68zM434,95h36v2h-36zM112,97h6v2h-6zM326,97h8v2h-8zM362,97h64v2h-64zM432,97h36v2h-36zM112,99h8v2h-8zM326,99h8v2h-8zM364,99h58v2h-58zM430,99h32v2h-32zM112,101h10v2h-10zM326,101h8v2h-8zM364,101h56v2h-56zM428,101h32v2h-32zM604,101h4v2h-4zM112,103h14v2h-14zM326,103h10v2h-10zM364,103h52v2h-52zM426,103h34v2h-34zM602,103h4v2h-4zM112,105h16v2h-16zM326,105h10v2h-10zM366,105h46v2h-46zM424,105h40v2h-40zM112,107h18v2h-18zM326,107h10v2h-10zM366,107h44v2h-44zM422,107h42v2h-42zM112,109h20v2h-20zM326,109h10v2h-10zM368,109h36v2h-36zM420,109h44v2h-44zM112,111h22v2h-22zM326,111h10v2h-10zM368,111h32v2h-32zM418,111h46v2h-46zM112,113h24v2h-24zM326,113h12v2h-12zM368,113h28v2h-28zM416,113h46v2h-46zM112,115h26v2h-26zM326,115h12v2h-12zM370,115h24v2h-24zM414,115h50v2h-50zM112,117h28v2h-28zM326,117h12v2h-12zM370,117h20v2h-20zM412,117h52v2h-52zM112,119h30v2h-30zM326,119h12v2h-12zM372,119h16v2h-16zM410,119h54v2h-54zM112,121h32v2h-32zM326,121h14v2h-14zM372,121h12v2h-12zM408,121h56v2h-56zM112,123h34v2h-34zM326,123h14v2h-14zM376,123h4v2h-4zM406,123h52v2h-52zM112,125h36v2h-36zM326,125h14v2h-14zM404,125h50v2h-50zM112,127h38v2h-38zM326,127h14v2h-14zM402,127h52v2h-52zM112,129h40v2h-40zM326,129h14v2h-14zM400,129h52v2h-52zM112,131h42v2h-42zM326,131h16v2h-16zM398,131h52v2h-52zM112,133h46v2h-46zM326,133h16v2h-16zM396,133h52v2h-52zM112,135h48v2h-48zM326,135h18v2h-18zM394,135h52v2h-52zM112,137h50v2h-50zM326,137h18v2h-18zM392,137h52v2h-52zM112,139h52v2h-52zM326,139h20v2h-20zM390,139h50v2h-50zM112,141h54v2h-54zM326,141h18v2h-18zM388,141h48v2h-48zM112,143h56v2h-56zM326,143h18v2h-18zM386,143h48v2h-48zM112,145h58v2h-58zM326,145h16v2h-16zM384,145h48v2h-48zM112,147h60v2h-60zM326,147h12v2h-12zM382,147h50v2h-50zM112,149h62v2h-62zM326,149h8v2h-8zM380,149h50v2h-50zM112,151h64v2h-64zM328,151h4v2h-4zM378,151h50v2h-50zM112,153h66v2h-66zM376,153h48v2h-48zM112,155h68v2h-68zM376,155h46v2h-46zM112,157h70v2h-70zM374,157h44v2h-44zM112,159h72v2h-72zM372,159h44v2h-44zM112,161h74v2h-74zM370,161h42v2h-42zM472,161h2v2h-2zM112,163h78v2h-78zM368,163h42v2h-42zM472,163h2v2h-2zM112,165h80v2h-80zM368,165h42v2h-42zM470,165h4v2h-4zM112,167h82v2h-82zM366,167h44v2h-44zM470,167h6v2h-6zM112,169h84v2h-84zM356,169h2v2h-2zM366,169h42v2h-42zM470,169h8v2h-8zM112,171h86v2h-86zM356,171h4v2h-4zM364,171h38v2h-38zM472,171h8v2h-8zM112,173h88v2h-88zM358,173h2v2h-2zM364,173h32v2h-32zM472,173h12v2h-12zM112,175h90v2h-90zM358,175h6v2h-6zM366,175h24v2h-24zM472,175h12v2h-12zM112,177h92v2h-92zM356,177h2v2h-2zM368,177h10v2h-10zM474,177h10v2h-10zM112,179h94v2h-94zM356,179h2v2h-2zM364,179h2v2h-2zM374,179h2v2h-2zM474,179h8v2h-8zM112,181h96v2h-96zM370,181h2v2h-2zM476,181h6v2h-6zM112,183h98v2h-98zM348,183h2v2h-2zM478,183h2v2h-2zM112,185h100v2h-100zM348,185h4v2h-4zM354,185h2v2h-2zM112,187h102v2h-102zM348,187h2v2h-2zM352,187h4v2h-4zM112,189h104v2h-104zM346,189h2v2h-2zM112,191h108v2h-108zM338,191h2v2h-2zM346,191h2v2h-2zM112,193h110v2h-110zM272,193h4v2h-4zM332,193h8v2h-8zM346,193h2v2h-2zM112,195h112v2h-112zM264,195h16v2h-16zM328,195h4v2h-4zM340,195h2v2h-2zM112,197h114v2h-114zM260,197h20v2h-20zM290,197h2v2h-2zM320,197h8v2h-8zM112,199h116v2h-116zM260,199h36v2h-36zM316,199h4v2h-4zM112,201h118v2h-118zM258,201h38v2h-38zM306,201h10v2h-10zM112,203h120v2h-120zM256,203h38v2h-38zM306,203h6v2h-6zM112,205h122v2h-122zM250,205h10v2h-10zM268,205h26v2h-26zM304,205h6v2h-6zM112,207h124v2h-124zM244,207h6v2h-6zM268,207h26v2h-26zM304,207h4v2h-4zM112,209h126v2h-126zM242,209h2v2h-2zM270,209h24v2h-24zM306,209h4v2h-4zM112,211h128v2h-128zM242,211h2v2h-2zM272,211h22v2h-22zM306,211h4v2h-4zM112,213h132v2h-132zM274,213h22v2h-22zM308,213h2v2h-2zM112,215h132v2h-132zM274,215h22v2h-22zM308,215h2v2h-2zM112,217h130v2h-130zM276,217h22v2h-22zM112,219h130v2h-130zM278,219h24v2h-24zM304,219h4v2h-4zM112,221h128v2h-128zM280,221h24v2h-24zM112,223h126v2h-126zM282,223h30v2h-30zM112,225h122v2h-122zM280,225h18v2h-18zM308,225h6v2h-6zM112,227h118v2h-118zM280,227h10v2h-10zM306,227h12v2h-12zM112,229h118v2h-118zM278,229h6v2h-6zM306,229h12v2h-12zM116,231h112v2h-112zM276,231h6v2h-6zM304,231h12v2h-12zM118,233h110v2h-110zM276,233h4v2h-4zM304,233h12v2h-12zM120,235h108v2h-108zM276,235h2v2h-2zM300,235h14v2h-14zM490,235h4v2h-4zM122,237h104v2h-104zM274,237h4v2h-4zM298,237h16v2h-16zM492,237h2v2h-2zM124,239h102v2h-102zM274,239h2v2h-2zM294,239h18v2h-18zM126,241h100v2h-100zM274,241h2v2h-2zM292,241h18v2h-18zM128,243h98v2h-98zM274,243h2v2h-2zM290,243h18v2h-18zM488,243h4v2h-4zM130,245h96v2h-96zM274,245h2v2h-2zM288,245h20v2h-20zM490,245h2v2h-2zM132,247h96v2h-96zM286,247h20v2h-20zM136,249h92v2h-92zM276,249h2v2h-2zM286,249h18v2h-18zM480,249h8v2h-8zM138,251h92v2h-92zM276,251h2v2h-2zM286,251h16v2h-16zM478,251h14v2h-14zM140,253h90v2h-90zM278,253h4v2h-4zM286,253h12v2h-12zM476,253h18v2h-18zM142,255h90v2h-90zM284,255h10v2h-10zM474,255h28v2h-28zM144,257h92v2h-92zM474,257h28v2h-28zM146,259h92v2h-92zM474,259h26v2h-26zM150,261h90v2h-90zM474,261h26v2h-26zM152,263h88v2h-88zM476,263h24v2h-24zM154,265h88v2h-88zM476,265h24v2h-24zM156,267h88v2h-88zM474,267h26v2h-26zM158,269h88v2h-88zM474,269h2v2h-2zM478,269h22v2h-22zM162,271h84v2h-84zM474,271h2v2h-2zM478,271h22v2h-22zM164,273h84v2h-84zM474,273h2v2h-2zM478,273h24v2h-24zM166,275h34v2h-34zM206,275h44v2h-44zM474,275h2v2h-2zM478,275h24v2h-24zM168,277h30v2h-30zM208,277h42v2h-42zM474,277h2v2h-2zM478,277h24v2h-24zM170,279h24v2h-24zM208,279h44v2h-44zM478,279h24v2h-24zM174,281h18v2h-18zM210,281h44v2h-44zM478,281h24v2h-24zM176,283h14v2h-14zM212,283h44v2h-44zM472,283h2v2h-2zM478,283h24v2h-24zM178,285h12v2h-12zM212,285h46v2h-46zM472,285h2v2h-2zM476,285h26v2h-26zM180,287h8v2h-8zM214,287h46v2h-46zM472,287h30v2h-30zM216,289h48v2h-48zM466,289h2v2h-2zM474,289h26v2h-26zM218,291h50v2h-50zM470,291h30v2h-30zM220,293h52v2h-52zM470,293h30v2h-30zM222,295h52v2h-52zM464,295h2v2h-2zM468,295h30v2h-30zM224,297h40v2h-40zM272,297h2v2h-2zM464,297h2v2h-2zM468,297h28v2h-28zM226,299h28v2h-28zM274,299h2v2h-2zM464,299h2v2h-2zM468,299h28v2h-28zM228,301h18v2h-18zM468,301h28v2h-28zM276,303h2v2h-2zM468,303h26v2h-26zM278,305h2v2h-2zM464,305h2v2h-2zM470,305h24v2h-24zM466,307h2v2h-2zM470,307h22v2h-22zM280,309h2v2h-2zM466,309h2v2h-2zM470,309h22v2h-22zM282,311h2v2h-2zM466,311h2v2h-2zM472,311h20v2h-20zM282,313h2v2h-2zM466,313h4v2h-4zM472,313h22v2h-22zM466,315h4v2h-4zM474,315h20v2h-20zM284,317h2v2h-2zM466,317h6v2h-6zM476,317h20v2h-20zM284,319h2v2h-2zM466,319h8v2h-8zM478,319h2v2h-2zM484,319h12v2h-12zM284,321h2v2h-2zM468,321h8v2h-8zM484,321h14v2h-14zM468,323h30v2h-30zM468,325h12v2h-12zM484,325h16v2h-16zM286,327h2v2h-2zM468,327h12v2h-12zM486,327h16v2h-16zM506,327h2v2h-2zM286,329h2v2h-2zM468,329h10v2h-10zM490,329h20v2h-20zM286,331h2v2h-2zM468,331h10v2h-10zM492,331h4v2h-4zM500,331h10v2h-10zM286,333h2v2h-2zM468,333h10v2h-10zM494,333h2v2h-2zM504,333h6v2h-6zM286,335h2v2h-2zM466,335h16v2h-16zM488,335h6v2h-6zM506,335h4v2h-4zM520,335h6v2h-6zM284,337h6v2h-6zM466,337h8v2h-8zM484,337h10v2h-10zM506,337h6v2h-6zM522,337h8v2h-8zM284,339h6v2h-6zM464,339h8v2h-8zM490,339h10v2h-10zM508,339h4v2h-4zM522,339h8v2h-8zM282,341h8v2h-8zM464,341h10v2h-10zM492,341h6v2h-6zM508,341h6v2h-6zM524,341h8v2h-8zM280,343h10v2h-10zM462,343h12v2h-12zM494,343h4v2h-4zM502,343h4v2h-4zM508,343h2v2h-2zM512,343h2v2h-2zM524,343h12v2h-12zM280,345h10v2h-10zM462,345h14v2h-14zM494,345h12v2h-12zM508,345h6v2h-6zM524,345h14v2h-14zM278,347h12v2h-12zM462,347h14v2h-14zM496,347h32v2h-32zM530,347h8v2h-8zM276,349h14v2h-14zM460,349h18v2h-18zM498,349h32v2h-32zM532,349h4v2h-4zM276,351h14v2h-14zM460,351h18v2h-18zM506,351h26v2h-26zM536,351h2v2h-2zM274,353h16v2h-16zM460,353h18v2h-18zM518,353h16v2h-16zM536,353h2v2h-2zM274,355h14v2h-14zM460,355h18v2h-18zM528,355h10v2h-10zM540,355h2v2h-2zM546,355h10v2h-10zM272,357h18v2h-18zM458,357h20v2h-20zM530,357h6v2h-6zM540,357h18v2h-18zM270,359h20v2h-20zM458,359h10v2h-10zM532,359h4v2h-4zM540,359h20v2h-20zM270,361h18v2h-18zM458,361h8v2h-8zM534,361h28v2h-28zM268,363h20v2h-20zM456,363h8v2h-8zM536,363h26v2h-26zM266,365h22v2h-22zM456,365h10v2h-10zM538,365h10v2h-10zM550,365h12v2h-12zM130,367h8v2h-8zM266,367h22v2h-22zM454,367h12v2h-12zM540,367h10v2h-10zM552,367h10v2h-10zM128,369h12v2h-12zM264,369h24v2h-24zM454,369h18v2h-18zM540,369h12v2h-12zM554,369h6v2h-6zM128,371h18v2h-18zM264,371h22v2h-22zM452,371h20v2h-20zM546,371h6v2h-6zM556,371h6v2h-6zM126,373h24v2h-24zM262,373h22v2h-22zM450,373h22v2h-22zM546,373h6v2h-6zM558,373h4v2h-4zM124,375h30v2h-30zM260,375h22v2h-22zM448,375h22v2h-22zM552,375h2v2h-2zM558,375h4v2h-4zM124,377h36v2h-36zM260,377h20v2h-20zM448,377h10v2h-10zM462,377h8v2h-8zM552,377h2v2h-2zM560,377h2v2h-2zM122,379h42v2h-42zM258,379h20v2h-20zM446,379h12v2h-12zM464,379h4v2h-4zM554,379h8v2h-8zM122,381h44v2h-44zM258,381h18v2h-18zM444,381h12v2h-12zM554,381h6v2h-6zM122,383h46v2h-46zM256,383h16v2h-16zM442,383h14v2h-14zM554,383h4v2h-4zM120,385h48v2h-48zM256,385h14v2h-14zM442,385h14v2h-14zM554,385h4v2h-4zM120,387h50v2h-50zM254,387h12v2h-12zM440,387h14v2h-14zM556,387h4v2h-4zM120,389h50v2h-50zM252,389h10v2h-10zM438,389h14v2h-14zM556,389h4v2h-4zM118,391h54v2h-54zM252,391h6v2h-6zM438,391h12v2h-12zM556,391h4v2h-4zM118,393h58v2h-58zM250,393h4v2h-4zM436,393h12v2h-12zM556,393h4v2h-4zM118,395h62v2h-62zM248,395h4v2h-4zM436,395h12v2h-12zM556,395h4v2h-4zM118,397h66v2h-66zM248,397h2v2h-2zM434,397h12v2h-12zM556,397h4v2h-4zM116,399h72v2h-72zM202,399h4v2h-4zM246,399h2v2h-2zM434,399h10v2h-10zM554,399h6v2h-6zM116,401h76v2h-76zM202,401h10v2h-10zM244,401h2v2h-2zM432,401h10v2h-10zM552,401h10v2h-10zM118,403h78v2h-78zM200,403h12v2h-12zM242,403h2v2h-2zM430,403h10v2h-10zM552,403h12v2h-12zM120,405h6v2h-6zM128,405h84v2h-84zM240,405h2v2h-2zM428,405h10v2h-10zM552,405h8v2h-8zM564,405h2v2h-2zM130,407h80v2h-80zM236,407h4v2h-4zM426,407h10v2h-10zM552,407h8v2h-8zM566,407h2v2h-2zM132,409h78v2h-78zM234,409h2v2h-2zM424,409h10v2h-10zM552,409h8v2h-8zM568,409h2v2h-2zM132,411h78v2h-78zM232,411h2v2h-2zM422,411h10v2h-10zM552,411h8v2h-8zM570,411h2v2h-2zM132,413h76v2h-76zM230,413h2v2h-2zM420,413h8v2h-8zM554,413h8v2h-8zM570,413h4v2h-4zM130,415h78v2h-78zM224,415h6v2h-6zM418,415h8v2h-8zM556,415h6v2h-6zM572,415h4v2h-4zM130,417h78v2h-78zM222,417h4v2h-4zM418,417h6v2h-6zM572,417h4v2h-4zM132,419h76v2h-76zM220,419h4v2h-4zM416,419h6v2h-6zM574,419h2v2h-2zM132,421h78v2h-78zM218,421h4v2h-4zM414,421h8v2h-8zM572,421h2v2h-2zM132,423h78v2h-78zM214,423h6v2h-6zM414,423h6v2h-6zM574,423h2v2h-2zM134,425h84v2h-84zM414,425h6v2h-6zM136,427h80v2h-80zM414,427h6v2h-6zM576,427h2v2h-2zM138,429h76v2h-76zM412,429h10v2h-10zM138,431h28v2h-28zM182,431h4v2h-4zM412,431h12v2h-12zM138,433h22v2h-22zM410,433h14v2h-14zM576,433h2v2h-2zM138,435h20v2h-20zM408,435h14v2h-14zM576,435h2v2h-2zM140,437h18v2h-18zM406,437h16v2h-16zM578,437h2v2h-2zM140,439h18v2h-18zM406,439h14v2h-14zM578,439h2v2h-2zM142,441h16v2h-16zM404,441h14v2h-14zM142,443h16v2h-16zM404,443h12v2h-12zM580,443h2v2h-2zM144,445h16v2h-16zM402,445h12v2h-12zM566,445h2v2h-2zM580,445h2v2h-2zM146,447h16v2h-16zM402,447h12v2h-12zM564,447h4v2h-4zM578,447h2v2h-2zM148,449h14v2h-14zM400,449h12v2h-12zM564,449h4v2h-4zM576,449h4v2h-4zM150,451h14v2h-14zM400,451h10v2h-10zM562,451h8v2h-8zM576,451h2v2h-2zM154,453h12v2h-12zM398,453h10v2h-10zM562,453h8v2h-8zM576,453h2v2h-2zM158,455h10v2h-10zM396,455h12v2h-12zM562,455h10v2h-10zM574,455h4v2h-4zM160,457h10v2h-10zM396,457h10v2h-10zM562,457h10v2h-10zM574,457h2v2h-2zM162,459h10v2h-10zM394,459h10v2h-10zM564,459h8v2h-8zM574,459h2v2h-2zM164,461h10v2h-10zM392,461h12v2h-12zM564,461h8v2h-8zM574,461h2v2h-2zM166,463h8v2h-8zM390,463h12v2h-12zM566,463h6v2h-6zM574,463h2v2h-2zM168,465h8v2h-8zM390,465h10v2h-10zM566,465h8v2h-8zM172,467h6v2h-6zM388,467h10v2h-10zM564,467h4v2h-4zM174,469h6v2h-6zM384,469h12v2h-12zM564,469h4v2h-4zM176,471h6v2h-6zM382,471h14v2h-14zM530,471h12v2h-12zM554,471h2v2h-2zM562,471h4v2h-4zM178,473h6v2h-6zM378,473h16v2h-16zM514,473h44v2h-44zM560,473h4v2h-4zM180,475h6v2h-6zM374,475h16v2h-16zM504,475h58v2h-58zM182,477h6v2h-6zM372,477h16v2h-16zM500,477h50v2h-50zM184,479h6v2h-6zM370,479h18v2h-18zM496,479h42v2h-42zM184,481h6v2h-6zM368,481h20v2h-20zM494,481h36v2h-36zM186,483h6v2h-6zM366,483h16v2h-16zM490,483h34v2h-34zM188,485h4v2h-4zM364,485h14v2h-14zM488,485h30v2h-30zM188,487h6v2h-6zM360,487h16v2h-16zM486,487h30v2h-30zM188,489h6v2h-6zM358,489h14v2h-14zM482,489h30v2h-30zM190,491h4v2h-4zM354,491h14v2h-14zM478,491h32v2h-32zM582,491h2v2h-2zM190,493h6v2h-6zM350,493h16v2h-16zM476,493h30v2h-30zM580,493h6v2h-6zM190,495h6v2h-6zM348,495h16v2h-16zM474,495h30v2h-30zM580,495h6v2h-6zM190,497h8v2h-8zM266,497h6v2h-6zM344,497h20v2h-20zM474,497h28v2h-28zM582,497h4v2h-4zM190,499h8v2h-8zM264,499h4v2h-4zM270,499h4v2h-4zM342,499h20v2h-20zM472,499h28v2h-28zM190,501h10v2h-10zM262,501h4v2h-4zM272,501h4v2h-4zM340,501h20v2h-20zM472,501h24v2h-24zM580,501h4v2h-4zM190,503h10v2h-10zM262,503h2v2h-2zM274,503h2v2h-2zM338,503h20v2h-20zM470,503h24v2h-24zM580,503h4v2h-4zM190,505h12v2h-12zM262,505h4v2h-4zM272,505h4v2h-4zM334,505h22v2h-22zM470,505h22v2h-22zM560,505h4v2h-4zM580,505h4v2h-4zM192,507h10v2h-10zM264,507h2v2h-2zM272,507h2v2h-2zM330,507h24v2h-24zM468,507h24v2h-24zM558,507h6v2h-6zM582,507h2v2h-2zM192,509h12v2h-12zM264,509h10v2h-10zM326,509h28v2h-28zM468,509h22v2h-22zM558,509h8v2h-8zM192,511h14v2h-14zM322,511h30v2h-30zM468,511h20v2h-20zM560,511h6v2h-6zM194,513h12v2h-12zM318,513h32v2h-32zM466,513h22v2h-22zM560,513h2v2h-2zM194,515h14v2h-14zM278,515h4v2h-4zM312,515h34v2h-34zM466,515h20v2h-20zM196,517h12v2h-12zM276,517h8v2h-8zM310,517h30v2h-30zM466,517h20v2h-20zM196,519h14v2h-14zM274,519h4v2h-4zM282,519h2v2h-2zM308,519h20v2h-20zM464,519h20v2h-20zM198,521h14v2h-14zM274,521h4v2h-4zM282,521h4v2h-4zM306,521h18v2h-18zM464,521h20v2h-20zM198,523h16v2h-16zM274,523h12v2h-12zM302,523h18v2h-18zM464,523h20v2h-20zM200,525h14v2h-14zM276,525h10v2h-10zM298,525h22v2h-22zM464,525h20v2h-20zM608,525h2v2h-2zM202,527h14v2h-14zM278,527h8v2h-8zM290,527h30v2h-30zM462,527h22v2h-22zM606,527h10v2h-10zM204,529h12v2h-12zM278,529h42v2h-42zM462,529h22v2h-22zM608,529h6v2h-6zM204,531h12v2h-12zM276,531h42v2h-42zM462,531h22v2h-22zM610,531h4v2h-4zM206,533h12v2h-12zM272,533h46v2h-46zM462,533h22v2h-22zM598,533h6v2h-6zM606,533h2v2h-2zM610,533h4v2h-4zM208,535h14v2h-14zM262,535h28v2h-28zM292,535h26v2h-26zM462,535h22v2h-22zM596,535h4v2h-4zM604,535h2v2h-2zM608,535h2v2h-2zM210,537h78v2h-78zM294,537h22v2h-22zM462,537h24v2h-24zM594,537h4v2h-4zM604,537h2v2h-2zM212,539h76v2h-76zM296,539h6v2h-6zM304,539h12v2h-12zM464,539h26v2h-26zM550,539h4v2h-4zM594,539h2v2h-2zM604,539h2v2h-2zM212,541h74v2h-74zM464,541h30v2h-30zM548,541h4v2h-4zM554,541h4v2h-4zM592,541h4v2h-4zM604,541h2v2h-2zM612,541h2v2h-2zM212,543h72v2h-72zM466,543h32v2h-32zM544,543h6v2h-6zM558,543h2v2h-2zM592,543h2v2h-2zM604,543h2v2h-2zM608,543h4v2h-4zM614,543h2v2h-2zM212,545h72v2h-72zM466,545h46v2h-46zM542,545h4v2h-4zM556,545h4v2h-4zM592,545h2v2h-2zM604,545h4v2h-4zM616,545h2v2h-2zM212,547h70v2h-70zM468,547h14v2h-14zM490,547h56v2h-56zM556,547h2v2h-2zM592,547h2v2h-2zM602,547h4v2h-4zM214,549h68v2h-68zM472,549h8v2h-8zM494,549h50v2h-50zM554,549h4v2h-4zM592,549h2v2h-2zM602,549h2v2h-2zM214,551h66v2h-66zM476,551h4v2h-4zM506,551h36v2h-36zM552,551h4v2h-4zM592,551h2v2h-2zM596,551h6v2h-6zM612,551h2v2h-2zM216,553h64v2h-64zM514,553h10v2h-10zM526,553h10v2h-10zM550,553h4v2h-4zM592,553h6v2h-6zM600,553h2v2h-2zM608,553h2v2h-2zM220,555h60v2h-60zM550,555h4v2h-4zM596,555h4v2h-4zM222,557h58v2h-58zM548,557h6v2h-6zM594,557h2v2h-2zM608,557h2v2h-2zM224,559h54v2h-54zM546,559h10v2h-10zM594,559h2v2h-2zM612,559h2v2h-2zM226,561h52v2h-52zM544,561h30v2h-30zM594,561h2v2h-2zM604,561h4v2h-4zM226,563h52v2h-52zM480,563h4v2h-4zM486,563h14v2h-14zM502,563h14v2h-14zM542,563h36v2h-36zM594,563h2v2h-2zM602,563h2v2h-2zM608,563h4v2h-4zM614,563h2v2h-2zM226,565h52v2h-52zM476,565h44v2h-44zM538,565h40v2h-40zM594,565h4v2h-4zM602,565h2v2h-2zM226,567h54v2h-54zM476,567h104v2h-104zM594,567h4v2h-4zM602,567h2v2h-2zM224,569h56v2h-56zM476,569h104v2h-104zM594,569h4v2h-4zM602,569h2v2h-2z"/>
<path fill="#0040ff" d="M502,37h2v2h-2zM502,39h2v2h-2zM500,41h2v2h-2zM500,43h2v2h-2zM498,45h2v2h-2zM496,47h4v2h-4zM494,49h4v2h-4zM494,51h2v2h-2zM496,53h2v2h-2zM496,55h2v2h-2zM494,57h2v2h-2zM494,59h2v2h-2zM496,63h2v2h-2zM496,65h2v2h-2zM494,69h2v2h-2zM486,71h4v2h-4zM492,71h2v2h-2zM486,73h2v2h-2zM482,75h4v2h-4zM478,79h2v2h-2zM618,79h2v2h-2zM478,81h2v2h-2zM618,81h2v2h-2zM478,83h2v2h-2zM476,87h2v2h-2zM474,91h2v2h-2zM472,93h2v2h-2zM470,95h2v2h-2zM468,97h2v2h-2zM606,99h2v2h-2zM460,101h2v2h-2zM460,103h2v2h-2zM464,107h2v2h-2zM462,113h2v2h-2zM464,117h2v2h-2zM464,119h2v2h-2zM458,123h4v2h-4zM454,125h2v2h-2zM490,129h8v2h-8zM450,131h2v2h-2zM488,131h12v2h-12zM448,133h2v2h-2zM484,133h18v2h-18zM484,135h18v2h-18zM482,137h18v2h-18zM440,139h2v2h-2zM480,139h20v2h-20zM436,141h4v2h-4zM480,141h20v2h-20zM434,143h2v2h-2zM478,143h22v2h-22zM432,145h2v2h-2zM478,145h20v2h-20zM476,147h22v2h-22zM430,149h2v2h-2zM476,149h22v2h-22zM428,151h2v2h-2zM474,151h22v2h-22zM424,153h2v2h-2zM474,153h22v2h-22zM422,155h2v2h-2zM472,155h22v2h-22zM418,157h4v2h-4zM472,157h22v2h-22zM416,159h2v2h-2zM472,159h22v2h-22zM412,161h4v2h-4zM474,161h18v2h-18zM410,163h2v2h-2zM474,163h18v2h-18zM410,165h2v2h-2zM474,165h18v2h-18zM410,167h2v2h-2zM476,167h14v2h-14zM408,169h4v2h-4zM478,169h12v2h-12zM402,171h6v2h-6zM480,171h8v2h-8zM396,173h6v2h-6zM484,173h4v2h-4zM390,175h6v2h-6zM484,175h2v2h-2zM358,177h6v2h-6zM378,177h14v2h-14zM472,177h2v2h-2zM484,177h2v2h-2zM358,179h6v2h-6zM370,179h4v2h-4zM376,179h8v2h-8zM482,179h4v2h-4zM356,181h10v2h-10zM372,181h6v2h-6zM474,181h2v2h-2zM482,181h2v2h-2zM356,183h18v2h-18zM480,183h4v2h-4zM356,185h18v2h-18zM478,185h6v2h-6zM350,187h2v2h-2zM356,187h6v2h-6zM364,187h2v2h-2zM480,187h4v2h-4zM348,189h12v2h-12zM348,191h10v2h-10zM348,193h4v2h-4zM332,195h8v2h-8zM342,195h8v2h-8zM328,197h6v2h-6zM338,197h4v2h-4zM320,199h10v2h-10zM316,201h6v2h-6zM312,203h6v2h-6zM260,205h8v2h-8zM310,205h6v2h-6zM250,207h18v2h-18zM308,207h8v2h-8zM244,209h26v2h-26zM310,209h4v2h-4zM244,211h28v2h-28zM310,211h4v2h-4zM244,213h30v2h-30zM310,213h4v2h-4zM244,215h2v2h-2zM262,215h12v2h-12zM310,215h4v2h-4zM242,217h2v2h-2zM266,217h10v2h-10zM310,217h4v2h-4zM242,219h2v2h-2zM268,219h10v2h-10zM308,219h4v2h-4zM240,221h2v2h-2zM270,221h10v2h-10zM304,221h10v2h-10zM238,223h2v2h-2zM270,223h12v2h-12zM312,223h4v2h-4zM234,225h2v2h-2zM270,225h10v2h-10zM314,225h4v2h-4zM230,227h4v2h-4zM272,227h8v2h-8zM230,229h2v2h-2zM272,229h6v2h-6zM228,231h2v2h-2zM270,231h6v2h-6zM316,231h2v2h-2zM500,231h2v2h-2zM228,233h2v2h-2zM270,233h6v2h-6zM316,233h2v2h-2zM500,233h2v2h-2zM228,235h2v2h-2zM270,235h6v2h-6zM314,235h2v2h-2zM226,237h2v2h-2zM270,237h4v2h-4zM314,237h2v2h-2zM490,237h2v2h-2zM494,237h2v2h-2zM226,239h2v2h-2zM270,239h4v2h-4zM312,239h2v2h-2zM226,241h2v2h-2zM270,241h4v2h-4zM310,241h2v2h-2zM488,241h6v2h-6zM226,243h2v2h-2zM270,243h4v2h-4zM308,243h2v2h-2zM486,243h2v2h-2zM492,243h2v2h-2zM226,245h2v2h-2zM272,245h2v2h-2zM488,245h2v2h-2zM492,245h2v2h-2zM228,247h2v2h-2zM272,247h4v2h-4zM306,247h2v2h-2zM480,247h10v2h-10zM228,249h2v2h-2zM274,249h2v2h-2zM304,249h2v2h-2zM476,249h4v2h-4zM488,249h4v2h-4zM230,251h2v2h-2zM274,251h2v2h-2zM302,251h2v2h-2zM476,251h2v2h-2zM504,251h2v2h-2zM230,253h2v2h-2zM276,253h2v2h-2zM298,253h4v2h-4zM474,253h2v2h-2zM494,253h2v2h-2zM502,253h4v2h-4zM232,255h4v2h-4zM278,255h6v2h-6zM294,255h4v2h-4zM502,255h4v2h-4zM236,257h2v2h-2zM280,257h16v2h-16zM472,257h2v2h-2zM502,257h4v2h-4zM238,259h2v2h-2zM284,259h8v2h-8zM472,259h2v2h-2zM500,259h6v2h-6zM240,261h2v2h-2zM472,261h2v2h-2zM500,261h6v2h-6zM240,263h2v2h-2zM472,263h2v2h-2zM500,263h6v2h-6zM242,265h2v2h-2zM472,265h2v2h-2zM500,265h6v2h-6zM244,267h2v2h-2zM472,267h2v2h-2zM500,267h6v2h-6zM246,269h2v2h-2zM472,269h2v2h-2zM500,269h8v2h-8zM246,271h2v2h-2zM472,271h2v2h-2zM500,271h8v2h-8zM248,273h2v2h-2zM470,273h4v2h-4zM502,273h8v2h-8zM250,275h2v2h-2zM470,275h4v2h-4zM502,275h8v2h-8zM250,277h4v2h-4zM470,277h4v2h-4zM502,277h8v2h-8zM252,279h4v2h-4zM470,279h4v2h-4zM502,279h8v2h-8zM254,281h4v2h-4zM468,281h6v2h-6zM502,281h8v2h-8zM256,283h4v2h-4zM468,283h4v2h-4zM502,283h6v2h-6zM258,285h4v2h-4zM464,285h8v2h-8zM502,285h6v2h-6zM260,287h4v2h-4zM462,287h10v2h-10zM502,287h4v2h-4zM264,289h4v2h-4zM460,289h4v2h-4zM468,289h4v2h-4zM500,289h4v2h-4zM268,291h2v2h-2zM460,291h4v2h-4zM500,291h4v2h-4zM272,293h2v2h-2zM460,293h4v2h-4zM274,295h2v2h-2zM460,295h4v2h-4zM274,297h2v2h-2zM460,297h4v2h-4zM276,299h2v2h-2zM460,299h4v2h-4zM276,301h4v2h-4zM460,301h6v2h-6zM278,303h2v2h-2zM460,303h6v2h-6zM280,305h2v2h-2zM458,305h6v2h-6zM280,307h4v2h-4zM458,307h8v2h-8zM282,309h2v2h-2zM458,309h8v2h-8zM284,311h2v2h-2zM456,311h10v2h-10zM492,311h2v2h-2zM284,313h2v2h-2zM456,313h10v2h-10zM494,313h2v2h-2zM284,315h4v2h-4zM456,315h10v2h-10zM494,315h2v2h-2zM500,315h4v2h-4zM286,317h2v2h-2zM456,317h10v2h-10zM500,317h4v2h-4zM286,319h2v2h-2zM454,319h12v2h-12zM480,319h4v2h-4zM500,319h4v2h-4zM286,321h2v2h-2zM454,321h14v2h-14zM480,321h4v2h-4zM286,323h2v2h-2zM454,323h14v2h-14zM286,325h4v2h-4zM454,325h14v2h-14zM510,325h6v2h-6zM288,327h2v2h-2zM452,327h16v2h-16zM508,327h10v2h-10zM288,329h2v2h-2zM452,329h16v2h-16zM510,329h8v2h-8zM288,331h2v2h-2zM452,331h16v2h-16zM496,331h4v2h-4zM514,331h6v2h-6zM522,331h20v2h-20zM288,333h2v2h-2zM450,333h18v2h-18zM496,333h8v2h-8zM516,333h28v2h-28zM288,335h4v2h-4zM450,335h16v2h-16zM494,335h12v2h-12zM510,335h2v2h-2zM526,335h4v2h-4zM536,335h6v2h-6zM290,337h2v2h-2zM448,337h18v2h-18zM494,337h12v2h-12zM538,337h2v2h-2zM290,339h2v2h-2zM448,339h16v2h-16zM504,339h4v2h-4zM512,339h2v2h-2zM290,341h2v2h-2zM446,341h18v2h-18zM504,341h4v2h-4zM514,341h2v2h-2zM522,341h2v2h-2zM532,341h2v2h-2zM290,343h2v2h-2zM446,343h16v2h-16zM506,343h2v2h-2zM514,343h4v2h-4zM520,343h4v2h-4zM536,343h2v2h-2zM290,345h2v2h-2zM444,345h18v2h-18zM506,345h2v2h-2zM514,345h10v2h-10zM290,347h2v2h-2zM444,347h18v2h-18zM538,347h2v2h-2zM290,349h2v2h-2zM442,349h18v2h-18zM536,349h2v2h-2zM290,351h2v2h-2zM442,351h18v2h-18zM538,351h2v2h-2zM290,353h2v2h-2zM440,353h20v2h-20zM538,353h2v2h-2zM288,355h2v2h-2zM440,355h20v2h-20zM538,355h2v2h-2zM542,355h4v2h-4zM290,357h2v2h-2zM438,357h20v2h-20zM536,357h4v2h-4zM290,359h2v2h-2zM438,359h20v2h-20zM536,359h4v2h-4zM288,361h4v2h-4zM438,361h20v2h-20zM288,363h2v2h-2zM436,363h20v2h-20zM288,365h2v2h-2zM434,365h22v2h-22zM562,365h2v2h-2zM288,367h2v2h-2zM434,367h20v2h-20zM288,369h2v2h-2zM432,369h22v2h-22zM560,369h2v2h-2zM286,371h2v2h-2zM430,371h22v2h-22zM562,371h2v2h-2zM284,373h4v2h-4zM428,373h22v2h-22zM562,373h2v2h-2zM282,375h4v2h-4zM426,375h22v2h-22zM562,375h2v2h-2zM280,377h4v2h-4zM424,377h24v2h-24zM562,377h2v2h-2zM278,379h4v2h-4zM422,379h24v2h-24zM562,379h2v2h-2zM276,381h4v2h-4zM420,381h24v2h-24zM560,381h4v2h-4zM272,383h4v2h-4zM418,383h24v2h-24zM558,383h4v2h-4zM270,385h4v2h-4zM418,385h24v2h-24zM558,385h4v2h-4zM266,387h4v2h-4zM416,387h24v2h-24zM560,387h4v2h-4zM262,389h4v2h-4zM416,389h22v2h-22zM560,389h4v2h-4zM258,391h6v2h-6zM414,391h24v2h-24zM560,391h4v2h-4zM254,393h6v2h-6zM414,393h22v2h-22zM560,393h4v2h-4zM252,395h4v2h-4zM412,395h24v2h-24zM560,395h4v2h-4zM250,397h4v2h-4zM410,397h24v2h-24zM560,397h4v2h-4zM248,399h4v2h-4zM408,399h26v2h-26zM560,399h6v2h-6zM246,401h4v2h-4zM406,401h26v2h-26zM562,401h4v2h-4zM244,403h4v2h-4zM404,403h26v2h-26zM564,403h4v2h-4zM242,405h4v2h-4zM404,405h24v2h-24zM566,405h2v2h-2zM240,407h4v2h-4zM402,407h24v2h-24zM568,407h2v2h-2zM236,409h6v2h-6zM402,409h22v2h-22zM570,409h4v2h-4zM234,411h6v2h-6zM402,411h20v2h-20zM572,411h2v2h-2zM232,413h6v2h-6zM402,413h18v2h-18zM574,413h2v2h-2zM230,415h6v2h-6zM400,415h18v2h-18zM226,417h8v2h-8zM400,417h18v2h-18zM576,417h2v2h-2zM224,419h10v2h-10zM400,419h16v2h-16zM576,419h2v2h-2zM222,421h10v2h-10zM398,421h16v2h-16zM574,421h2v2h-2zM220,423h12v2h-12zM396,423h18v2h-18zM576,423h2v2h-2zM218,425h14v2h-14zM394,425h20v2h-20zM576,425h2v2h-2zM216,427h16v2h-16zM394,427h20v2h-20zM578,427h2v2h-2zM214,429h20v2h-20zM394,429h18v2h-18zM578,429h2v2h-2zM166,431h16v2h-16zM186,431h48v2h-48zM392,431h20v2h-20zM578,431h2v2h-2zM160,433h74v2h-74zM392,433h18v2h-18zM578,433h2v2h-2zM158,435h76v2h-76zM392,435h16v2h-16zM578,435h2v2h-2zM158,437h76v2h-76zM392,437h14v2h-14zM580,437h2v2h-2zM158,439h76v2h-76zM392,439h14v2h-14zM580,439h2v2h-2zM158,441h76v2h-76zM390,441h14v2h-14zM580,441h2v2h-2zM158,443h76v2h-76zM390,443h14v2h-14zM582,443h2v2h-2zM160,445h74v2h-74zM388,445h14v2h-14zM582,445h2v2h-2zM162,447h74v2h-74zM388,447h14v2h-14zM580,447h4v2h-4zM162,449h74v2h-74zM386,449h14v2h-14zM580,449h2v2h-2zM164,451h72v2h-72zM386,451h14v2h-14zM578,451h4v2h-4zM166,453h72v2h-72zM384,453h14v2h-14zM578,453h4v2h-4zM168,455h70v2h-70zM382,455h14v2h-14zM578,455h4v2h-4zM170,457h70v2h-70zM378,457h18v2h-18zM576,457h6v2h-6zM172,459h68v2h-68zM372,459h22v2h-22zM576,459h6v2h-6zM174,461h68v2h-68zM368,461h24v2h-24zM576,461h6v2h-6zM174,463h70v2h-70zM364,463h26v2h-26zM576,463h6v2h-6zM176,465h68v2h-68zM360,465h30v2h-30zM574,465h6v2h-6zM178,467h68v2h-68zM358,467h30v2h-30zM568,467h12v2h-12zM180,469h68v2h-68zM356,469h28v2h-28zM568,469h12v2h-12zM182,471h68v2h-68zM352,471h30v2h-30zM566,471h12v2h-12zM184,473h68v2h-68zM338,473h40v2h-40zM564,473h12v2h-12zM186,475h66v2h-66zM336,475h38v2h-38zM562,475h10v2h-10zM188,477h66v2h-66zM334,477h38v2h-38zM550,477h20v2h-20zM190,479h66v2h-66zM318,479h52v2h-52zM538,479h28v2h-28zM190,481h68v2h-68zM314,481h54v2h-54zM530,481h30v2h-30zM192,483h68v2h-68zM312,483h54v2h-54zM524,483h30v2h-30zM192,485h70v2h-70zM310,485h54v2h-54zM518,485h30v2h-30zM194,487h70v2h-70zM306,487h54v2h-54zM516,487h28v2h-28zM194,489h80v2h-80zM302,489h56v2h-56zM512,489h32v2h-32zM580,489h6v2h-6zM194,491h94v2h-94zM294,491h60v2h-60zM510,491h32v2h-32zM578,491h4v2h-4zM584,491h2v2h-2zM196,493h154v2h-154zM506,493h36v2h-36zM578,493h2v2h-2zM586,493h2v2h-2zM196,495h152v2h-152zM504,495h38v2h-38zM578,495h2v2h-2zM586,495h2v2h-2zM198,497h68v2h-68zM272,497h72v2h-72zM502,497h40v2h-40zM578,497h4v2h-4zM586,497h2v2h-2zM198,499h66v2h-66zM274,499h68v2h-68zM500,499h42v2h-42zM578,499h10v2h-10zM200,501h62v2h-62zM276,501h64v2h-64zM496,501h44v2h-44zM578,501h2v2h-2zM584,501h2v2h-2zM200,503h62v2h-62zM276,503h62v2h-62zM494,503h46v2h-46zM556,503h10v2h-10zM578,503h2v2h-2zM584,503h2v2h-2zM202,505h60v2h-60zM276,505h58v2h-58zM492,505h48v2h-48zM556,505h4v2h-4zM564,505h2v2h-2zM578,505h2v2h-2zM584,505h4v2h-4zM202,507h62v2h-62zM274,507h56v2h-56zM492,507h50v2h-50zM556,507h2v2h-2zM564,507h4v2h-4zM578,507h4v2h-4zM584,507h2v2h-2zM204,509h60v2h-60zM274,509h52v2h-52zM490,509h52v2h-52zM556,509h2v2h-2zM566,509h2v2h-2zM580,509h6v2h-6zM206,511h116v2h-116zM488,511h54v2h-54zM556,511h4v2h-4zM566,511h2v2h-2zM206,513h112v2h-112zM488,513h54v2h-54zM556,513h4v2h-4zM562,513h6v2h-6zM208,515h70v2h-70zM282,515h30v2h-30zM486,515h56v2h-56zM558,515h6v2h-6zM208,517h68v2h-68zM284,517h26v2h-26zM486,517h56v2h-56zM210,519h64v2h-64zM284,519h24v2h-24zM484,519h60v2h-60zM212,521h62v2h-62zM286,521h20v2h-20zM484,521h62v2h-62zM214,523h60v2h-60zM286,523h16v2h-16zM484,523h64v2h-64zM610,523h4v2h-4zM214,525h62v2h-62zM286,525h12v2h-12zM484,525h68v2h-68zM604,525h4v2h-4zM610,525h6v2h-6zM216,527h62v2h-62zM286,527h4v2h-4zM484,527h72v2h-72zM592,527h14v2h-14zM616,527h2v2h-2zM216,529h62v2h-62zM484,529h74v2h-74zM590,529h16v2h-16zM614,529h4v2h-4zM216,531h60v2h-60zM484,531h76v2h-76zM590,531h16v2h-16zM614,531h2v2h-2zM218,533h54v2h-54zM484,533h78v2h-78zM588,533h10v2h-10zM604,533h2v2h-2zM614,533h2v2h-2zM222,535h40v2h-40zM484,535h80v2h-80zM586,535h10v2h-10zM606,535h2v2h-2zM610,535h6v2h-6zM486,537h80v2h-80zM586,537h8v2h-8zM606,537h8v2h-8zM490,539h60v2h-60zM554,539h12v2h-12zM582,539h12v2h-12zM606,539h10v2h-10zM494,541h54v2h-54zM558,541h34v2h-34zM606,541h6v2h-6zM614,541h4v2h-4zM498,543h46v2h-46zM560,543h32v2h-32zM606,543h2v2h-2zM616,543h4v2h-4zM512,545h30v2h-30zM560,545h32v2h-32zM618,545h2v2h-2zM558,547h34v2h-34zM616,547h4v2h-4zM558,549h34v2h-34zM616,549h4v2h-4zM556,551h36v2h-36zM614,551h4v2h-4zM554,553h38v2h-38zM598,553h2v2h-2zM610,553h8v2h-8zM554,555h42v2h-42zM608,555h6v2h-6zM554,557h40v2h-40zM610,557h8v2h-8zM556,559h38v2h-38zM614,559h6v2h-6zM574,561h20v2h-20zM616,561h4v2h-4zM578,563h16v2h-16zM604,563h4v2h-4zM616,563h4v2h-4zM578,565h16v2h-16zM604,565h14v2h-14zM580,567h14v2h-14zM604,567h14v2h-14zM580,569h14v2h-14zM604,569h12v2h-12z"/>
<path fill="#0060ff" d="M504,37h4v2h-4zM504,39h4v2h-4zM502,41h4v2h-4zM502,43h4v2h-4zM500,45h4v2h-4zM500,47h4v2h-4zM498,49h4v2h-4zM496,51h6v2h-6zM498,53h2v2h-2zM498,55h2v2h-2zM496,57h4v2h-4zM496,59h4v2h-4zM496,61h4v2h-4zM498,63h2v2h-2zM498,65h2v2h-2zM496,67h4v2h-4zM630,67h2v2h-2zM496,69h2v2h-2zM628,69h2v2h-2zM494,71h2v2h-2zM626,71h2v2h-2zM630,71h2v2h-2zM488,73h6v2h-6zM624,73h2v2h-2zM628,73h2v2h-2zM486,75h2v2h-2zM480,77h6v2h-6zM480,79h2v2h-2zM620,79h2v2h-2zM480,81h2v2h-2zM620,81h2v2h-2zM480,83h2v2h-2zM478,85h2v2h-2zM478,87h2v2h-2zM476,89h2v2h-2zM476,91h2v2h-2zM474,93h2v2h-2zM472,95h2v2h-2zM470,97h2v2h-2zM462,99h8v2h-8zM608,99h2v2h-2zM462,101h2v2h-2zM602,101h2v2h-2zM462,103h4v2h-4zM606,103h2v2h-2zM464,105h2v2h-2zM604,105h2v2h-2zM464,109h2v2h-2zM464,111h2v2h-2zM464,113h2v2h-2zM464,115h2v2h-2zM466,117h2v2h-2zM464,121h2v2h-2zM462,123h2v2h-2zM456,125h4v2h-4zM454,127h2v2h-2zM452,129h2v2h-2zM450,133h2v2h-2zM446,135h4v2h-4zM444,137h4v2h-4zM442,139h4v2h-4zM440,141h2v2h-2zM436,143h4v2h-4zM434,145h2v2h-2zM432,147h2v2h-2zM432,149h2v2h-2zM474,149h2v2h-2zM430,151h2v2h-2zM496,151h2v2h-2zM426,153h4v2h-4zM472,153h2v2h-2zM424,155h4v2h-4zM494,155h2v2h-2zM422,157h4v2h-4zM418,159h6v2h-6zM470,159h2v2h-2zM416,161h4v2h-4zM470,161h2v2h-2zM412,163h6v2h-6zM470,163h2v2h-2zM412,165h4v2h-4zM412,167h2v2h-2zM412,169h2v2h-2zM408,171h6v2h-6zM470,171h2v2h-2zM488,171h2v2h-2zM402,173h8v2h-8zM470,173h2v2h-2zM396,175h10v2h-10zM470,175h2v2h-2zM486,175h2v2h-2zM392,177h10v2h-10zM470,177h2v2h-2zM384,179h14v2h-14zM472,179h2v2h-2zM378,181h16v2h-16zM472,181h2v2h-2zM374,183h16v2h-16zM474,183h4v2h-4zM374,185h12v2h-12zM476,185h2v2h-2zM362,187h2v2h-2zM366,187h16v2h-16zM478,187h2v2h-2zM360,189h20v2h-20zM358,191h20v2h-20zM352,193h22v2h-22zM350,195h16v2h-16zM334,197h4v2h-4zM342,197h14v2h-14zM330,199h20v2h-20zM322,201h16v2h-16zM318,203h12v2h-12zM316,205h8v2h-8zM316,207h6v2h-6zM314,209h6v2h-6zM314,211h6v2h-6zM314,213h4v2h-4zM246,215h16v2h-16zM314,215h4v2h-4zM244,217h22v2h-22zM314,217h4v2h-4zM244,219h8v2h-8zM258,219h10v2h-10zM312,219h6v2h-6zM242,221h4v2h-4zM262,221h8v2h-8zM314,221h4v2h-4zM240,223h4v2h-4zM264,223h6v2h-6zM316,223h2v2h-2zM236,225h4v2h-4zM266,225h4v2h-4zM318,225h2v2h-2zM234,227h4v2h-4zM266,227h6v2h-6zM318,227h2v2h-2zM232,229h4v2h-4zM266,229h6v2h-6zM318,229h2v2h-2zM230,231h4v2h-4zM266,231h4v2h-4zM318,231h2v2h-2zM498,231h2v2h-2zM230,233h2v2h-2zM266,233h4v2h-4zM318,233h2v2h-2zM492,233h4v2h-4zM498,233h2v2h-2zM230,235h2v2h-2zM266,235h4v2h-4zM316,235h2v2h-2zM488,235h2v2h-2zM494,235h2v2h-2zM228,237h4v2h-4zM266,237h4v2h-4zM316,237h2v2h-2zM488,237h2v2h-2zM228,239h4v2h-4zM266,239h4v2h-4zM314,239h2v2h-2zM488,239h8v2h-8zM228,241h2v2h-2zM266,241h4v2h-4zM312,241h2v2h-2zM484,241h4v2h-4zM494,241h2v2h-2zM228,243h2v2h-2zM266,243h4v2h-4zM310,243h2v2h-2zM484,243h2v2h-2zM494,243h2v2h-2zM228,245h4v2h-4zM266,245h6v2h-6zM308,245h4v2h-4zM478,245h10v2h-10zM494,245h2v2h-2zM230,247h2v2h-2zM268,247h4v2h-4zM308,247h2v2h-2zM476,247h4v2h-4zM490,247h4v2h-4zM230,249h4v2h-4zM270,249h4v2h-4zM306,249h2v2h-2zM474,249h2v2h-2zM492,249h2v2h-2zM504,249h2v2h-2zM232,251h2v2h-2zM270,251h4v2h-4zM304,251h4v2h-4zM474,251h2v2h-2zM492,251h4v2h-4zM502,251h2v2h-2zM232,253h6v2h-6zM272,253h4v2h-4zM302,253h4v2h-4zM472,253h2v2h-2zM496,253h2v2h-2zM500,253h2v2h-2zM236,255h4v2h-4zM274,255h4v2h-4zM298,255h4v2h-4zM472,255h2v2h-2zM238,257h4v2h-4zM276,257h4v2h-4zM296,257h4v2h-4zM470,257h2v2h-2zM240,259h2v2h-2zM276,259h8v2h-8zM292,259h6v2h-6zM470,259h2v2h-2zM242,261h2v2h-2zM278,261h18v2h-18zM468,261h4v2h-4zM242,263h4v2h-4zM280,263h16v2h-16zM468,263h4v2h-4zM244,265h2v2h-2zM284,265h10v2h-10zM468,265h4v2h-4zM246,267h2v2h-2zM468,267h4v2h-4zM248,269h2v2h-2zM466,269h6v2h-6zM248,271h4v2h-4zM466,271h6v2h-6zM250,273h4v2h-4zM466,273h4v2h-4zM252,275h4v2h-4zM464,275h6v2h-6zM254,277h4v2h-4zM464,277h6v2h-6zM256,279h4v2h-4zM462,279h8v2h-8zM258,281h4v2h-4zM460,281h8v2h-8zM260,283h4v2h-4zM458,283h10v2h-10zM262,285h4v2h-4zM456,285h8v2h-8zM264,287h6v2h-6zM456,287h6v2h-6zM506,287h2v2h-2zM268,289h6v2h-6zM456,289h4v2h-4zM504,289h2v2h-2zM270,291h6v2h-6zM454,291h6v2h-6zM274,293h4v2h-4zM454,293h6v2h-6zM500,293h2v2h-2zM276,295h4v2h-4zM454,295h6v2h-6zM276,297h4v2h-4zM454,297h6v2h-6zM496,297h2v2h-2zM278,299h4v2h-4zM370,299h4v2h-4zM452,299h8v2h-8zM280,301h4v2h-4zM370,301h6v2h-6zM452,301h8v2h-8zM280,303h6v2h-6zM370,303h6v2h-6zM450,303h10v2h-10zM494,303h2v2h-2zM282,305h4v2h-4zM370,305h6v2h-6zM450,305h8v2h-8zM284,307h4v2h-4zM448,307h10v2h-10zM492,307h2v2h-2zM284,309h6v2h-6zM446,309h12v2h-12zM492,309h2v2h-2zM286,311h6v2h-6zM444,311h12v2h-12zM286,313h6v2h-6zM442,313h14v2h-14zM288,315h4v2h-4zM440,315h16v2h-16zM496,315h2v2h-2zM288,317h6v2h-6zM438,317h18v2h-18zM496,317h2v2h-2zM288,319h6v2h-6zM436,319h18v2h-18zM496,319h2v2h-2zM288,321h6v2h-6zM436,321h18v2h-18zM500,321h4v2h-4zM288,323h6v2h-6zM434,323h20v2h-20zM498,323h2v2h-2zM290,325h4v2h-4zM432,325h22v2h-22zM500,325h2v2h-2zM508,325h2v2h-2zM290,327h4v2h-4zM430,327h22v2h-22zM502,327h4v2h-4zM290,329h4v2h-4zM428,329h24v2h-24zM290,331h4v2h-4zM426,331h26v2h-26zM510,331h4v2h-4zM290,333h6v2h-6zM426,333h24v2h-24zM510,333h2v2h-2zM514,333h2v2h-2zM292,335h4v2h-4zM424,335h26v2h-26zM516,335h4v2h-4zM530,335h6v2h-6zM292,337h4v2h-4zM422,337h26v2h-26zM512,337h2v2h-2zM520,337h2v2h-2zM530,337h2v2h-2zM540,337h2v2h-2zM292,339h4v2h-4zM422,339h26v2h-26zM514,339h2v2h-2zM520,339h2v2h-2zM530,339h2v2h-2zM292,341h4v2h-4zM420,341h26v2h-26zM516,341h6v2h-6zM534,341h2v2h-2zM292,343h4v2h-4zM420,343h26v2h-26zM518,343h2v2h-2zM292,345h4v2h-4zM418,345h26v2h-26zM538,345h2v2h-2zM292,347h4v2h-4zM418,347h26v2h-26zM292,349h4v2h-4zM416,349h26v2h-26zM538,349h2v2h-2zM292,351h4v2h-4zM414,351h28v2h-28zM540,351h2v2h-2zM292,353h4v2h-4zM412,353h28v2h-28zM540,353h8v2h-8zM290,355h6v2h-6zM410,355h30v2h-30zM556,355h2v2h-2zM292,357h4v2h-4zM408,357h30v2h-30zM558,357h2v2h-2zM292,359h4v2h-4zM406,359h32v2h-32zM560,359h2v2h-2zM292,361h4v2h-4zM404,361h34v2h-34zM290,363h6v2h-6zM364,363h8v2h-8zM402,363h34v2h-34zM562,363h2v2h-2zM290,365h4v2h-4zM364,365h10v2h-10zM400,365h34v2h-34zM290,367h4v2h-4zM362,367h16v2h-16zM396,367h38v2h-38zM562,367h2v2h-2zM290,369h4v2h-4zM362,369h18v2h-18zM390,369h42v2h-42zM562,369h2v2h-2zM288,371h6v2h-6zM362,371h68v2h-68zM288,373h4v2h-4zM362,373h66v2h-66zM564,373h2v2h-2zM286,375h4v2h-4zM360,375h66v2h-66zM564,375h2v2h-2zM284,377h6v2h-6zM360,377h64v2h-64zM564,377h2v2h-2zM282,379h6v2h-6zM360,379h62v2h-62zM564,379h2v2h-2zM280,381h6v2h-6zM360,381h60v2h-60zM564,381h2v2h-2zM276,383h8v2h-8zM358,383h60v2h-60zM562,383h4v2h-4zM274,385h8v2h-8zM358,385h60v2h-60zM562,385h4v2h-4zM270,387h8v2h-8zM358,387h58v2h-58zM564,387h4v2h-4zM266,389h8v2h-8zM358,389h58v2h-58zM564,389h4v2h-4zM264,391h8v2h-8zM358,391h56v2h-56zM564,391h4v2h-4zM260,393h8v2h-8zM358,393h56v2h-56zM564,393h4v2h-4zM256,395h8v2h-8zM356,395h56v2h-56zM564,395h6v2h-6zM254,397h8v2h-8zM356,397h54v2h-54zM564,397h6v2h-6zM252,399h8v2h-8zM356,399h52v2h-52zM566,399h4v2h-4zM250,401h8v2h-8zM356,401h50v2h-50zM566,401h6v2h-6zM248,403h10v2h-10zM356,403h48v2h-48zM568,403h4v2h-4zM246,405h12v2h-12zM356,405h48v2h-48zM568,405h6v2h-6zM244,407h12v2h-12zM356,407h46v2h-46zM570,407h6v2h-6zM242,409h10v2h-10zM356,409h46v2h-46zM574,409h2v2h-2zM240,411h10v2h-10zM356,411h46v2h-46zM574,411h4v2h-4zM238,413h10v2h-10zM356,413h46v2h-46zM576,413h2v2h-2zM236,415h10v2h-10zM356,415h44v2h-44zM576,415h4v2h-4zM234,417h10v2h-10zM356,417h44v2h-44zM578,417h2v2h-2zM234,419h10v2h-10zM354,419h46v2h-46zM578,419h2v2h-2zM232,421h12v2h-12zM354,421h44v2h-44zM576,421h4v2h-4zM232,423h12v2h-12zM352,423h44v2h-44zM578,423h2v2h-2zM232,425h14v2h-14zM350,425h44v2h-44zM578,425h4v2h-4zM232,427h14v2h-14zM348,427h46v2h-46zM580,427h2v2h-2zM234,429h14v2h-14zM344,429h50v2h-50zM580,429h2v2h-2zM234,431h14v2h-14zM344,431h48v2h-48zM580,431h4v2h-4zM234,433h14v2h-14zM342,433h50v2h-50zM580,433h4v2h-4zM234,435h16v2h-16zM340,435h52v2h-52zM580,435h4v2h-4zM234,437h18v2h-18zM338,437h54v2h-54zM582,437h2v2h-2zM234,439h18v2h-18zM334,439h58v2h-58zM582,439h4v2h-4zM234,441h20v2h-20zM330,441h60v2h-60zM582,441h4v2h-4zM234,443h20v2h-20zM328,443h62v2h-62zM584,443h2v2h-2zM234,445h22v2h-22zM324,445h64v2h-64zM584,445h2v2h-2zM236,447h20v2h-20zM322,447h66v2h-66zM584,447h2v2h-2zM236,449h20v2h-20zM318,449h68v2h-68zM582,449h4v2h-4zM236,451h22v2h-22zM314,451h72v2h-72zM582,451h4v2h-4zM238,453h20v2h-20zM308,453h76v2h-76zM582,453h4v2h-4zM238,455h22v2h-22zM304,455h78v2h-78zM582,455h4v2h-4zM240,457h20v2h-20zM300,457h78v2h-78zM582,457h6v2h-6zM240,459h22v2h-22zM298,459h74v2h-74zM582,459h6v2h-6zM242,461h20v2h-20zM296,461h72v2h-72zM582,461h6v2h-6zM244,463h20v2h-20zM292,463h72v2h-72zM582,463h6v2h-6zM244,465h20v2h-20zM290,465h70v2h-70zM580,465h10v2h-10zM246,467h22v2h-22zM288,467h70v2h-70zM580,467h10v2h-10zM248,469h24v2h-24zM286,469h70v2h-70zM580,469h12v2h-12zM250,471h102v2h-102zM578,471h14v2h-14zM252,473h86v2h-86zM576,473h18v2h-18zM252,475h84v2h-84zM572,475h22v2h-22zM254,477h80v2h-80zM570,477h26v2h-26zM256,479h62v2h-62zM566,479h30v2h-30zM258,481h56v2h-56zM560,481h36v2h-36zM260,483h52v2h-52zM554,483h44v2h-44zM262,485h48v2h-48zM548,485h50v2h-50zM264,487h42v2h-42zM544,487h54v2h-54zM274,489h28v2h-28zM544,489h36v2h-36zM586,489h12v2h-12zM288,491h6v2h-6zM542,491h36v2h-36zM586,491h12v2h-12zM542,493h36v2h-36zM588,493h10v2h-10zM542,495h36v2h-36zM588,495h10v2h-10zM542,497h36v2h-36zM588,497h10v2h-10zM542,499h36v2h-36zM588,499h10v2h-10zM540,501h38v2h-38zM586,501h12v2h-12zM540,503h16v2h-16zM566,503h12v2h-12zM586,503h12v2h-12zM540,505h16v2h-16zM566,505h12v2h-12zM588,505h10v2h-10zM542,507h14v2h-14zM568,507h10v2h-10zM586,507h14v2h-14zM542,509h14v2h-14zM568,509h12v2h-12zM586,509h16v2h-16zM542,511h14v2h-14zM568,511h36v2h-36zM542,513h14v2h-14zM568,513h38v2h-38zM542,515h16v2h-16zM564,515h46v2h-46zM542,517h72v2h-72zM544,519h74v2h-74zM546,521h74v2h-74zM548,523h62v2h-62zM614,523h10v2h-10zM552,525h52v2h-52zM616,525h10v2h-10zM556,527h36v2h-36zM618,527h12v2h-12zM558,529h32v2h-32zM618,529h22v2h-22zM560,531h30v2h-30zM616,531h24v2h-24zM562,533h26v2h-26zM616,533h24v2h-24zM564,535h22v2h-22zM616,535h24v2h-24zM566,537h20v2h-20zM614,537h26v2h-26zM566,539h16v2h-16zM616,539h24v2h-24zM618,541h22v2h-22zM620,543h20v2h-20zM620,545h20v2h-20zM620,547h20v2h-20zM620,549h20v2h-20zM618,551h22v2h-22zM618,553h22v2h-22zM614,555h26v2h-26zM618,557h22v2h-22zM620,559h20v2h-20zM620,561h20v2h-20zM620,563h20v2h-20zM618,565h22v2h-22zM618,567h22v2h-22zM616,569h24v2h-24z"/>
<path fill="#0080ff" d="M508,37h4v2h-4zM508,39h4v2h-4zM506,41h4v2h-4zM506,43h4v2h-4zM504,45h6v2h-6zM504,47h4v2h-4zM502,49h6v2h-6zM502,51h6v2h-6zM500,53h8v2h-8zM500,55h8v2h-8zM500,57h8v2h-8zM500,59h6v2h-6zM500,61h6v2h-6zM500,63h6v2h-6zM500,65h4v2h-4zM500,67h4v2h-4zM628,67h2v2h-2zM498,69h4v2h-4zM626,69h2v2h-2zM632,69h2v2h-2zM496,71h4v2h-4zM624,71h2v2h-2zM494,73h4v2h-4zM630,73h2v2h-2zM488,75h8v2h-8zM624,75h4v2h-4zM486,77h8v2h-8zM618,77h4v2h-4zM482,79h10v2h-10zM482,81h8v2h-8zM616,81h2v2h-2zM482,83h4v2h-4zM618,83h4v2h-4zM480,85h6v2h-6zM480,87h4v2h-4zM478,89h4v2h-4zM478,91h4v2h-4zM476,93h4v2h-4zM474,95h4v2h-4zM472,97h4v2h-4zM606,97h4v2h-4zM470,99h4v2h-4zM604,99h2v2h-2zM464,101h8v2h-8zM608,101h2v2h-2zM466,103h4v2h-4zM600,103h2v2h-2zM466,105h4v2h-4zM600,105h4v2h-4zM606,105h2v2h-2zM466,107h4v2h-4zM602,107h4v2h-4zM466,109h4v2h-4zM466,111h2v2h-2zM466,113h2v2h-2zM466,115h2v2h-2zM468,117h2v2h-2zM466,119h2v2h-2zM466,121h2v2h-2zM464,123h2v2h-2zM460,125h4v2h-4zM456,127h4v2h-4zM490,127h6v2h-6zM454,129h4v2h-4zM488,129h2v2h-2zM498,129h2v2h-2zM452,131h4v2h-4zM484,131h4v2h-4zM500,131h2v2h-2zM452,133h4v2h-4zM482,133h2v2h-2zM450,135h4v2h-4zM482,135h2v2h-2zM448,137h4v2h-4zM480,137h2v2h-2zM500,137h2v2h-2zM446,139h4v2h-4zM478,139h2v2h-2zM500,139h2v2h-2zM442,141h6v2h-6zM478,141h2v2h-2zM500,141h2v2h-2zM440,143h6v2h-6zM476,143h2v2h-2zM500,143h2v2h-2zM436,145h8v2h-8zM476,145h2v2h-2zM498,145h2v2h-2zM434,147h8v2h-8zM474,147h2v2h-2zM498,147h2v2h-2zM434,149h8v2h-8zM432,151h8v2h-8zM472,151h2v2h-2zM430,153h12v2h-12zM428,155h12v2h-12zM470,155h2v2h-2zM426,157h12v2h-12zM458,157h8v2h-8zM468,157h4v2h-4zM494,157h2v2h-2zM424,159h10v2h-10zM456,159h14v2h-14zM420,161h12v2h-12zM454,161h16v2h-16zM492,161h2v2h-2zM418,163h12v2h-12zM456,163h14v2h-14zM492,163h2v2h-2zM416,165h12v2h-12zM458,165h12v2h-12zM414,167h12v2h-12zM466,167h4v2h-4zM490,167h2v2h-2zM414,169h10v2h-10zM466,169h4v2h-4zM414,171h8v2h-8zM468,171h2v2h-2zM410,173h8v2h-8zM468,173h2v2h-2zM406,175h10v2h-10zM468,175h2v2h-2zM402,177h8v2h-8zM468,177h2v2h-2zM398,179h8v2h-8zM468,179h4v2h-4zM394,181h8v2h-8zM468,181h4v2h-4zM484,181h2v2h-2zM390,183h8v2h-8zM470,183h4v2h-4zM484,183h2v2h-2zM386,185h8v2h-8zM474,185h2v2h-2zM484,185h2v2h-2zM382,187h8v2h-8zM476,187h2v2h-2zM380,189h6v2h-6zM478,189h6v2h-6zM378,191h6v2h-6zM374,193h8v2h-8zM366,195h14v2h-14zM356,197h22v2h-22zM350,199h24v2h-24zM338,201h26v2h-26zM330,203h24v2h-24zM324,205h22v2h-22zM322,207h18v2h-18zM320,209h16v2h-16zM320,211h14v2h-14zM318,213h14v2h-14zM318,215h12v2h-12zM318,217h10v2h-10zM252,219h6v2h-6zM318,219h8v2h-8zM246,221h16v2h-16zM318,221h8v2h-8zM244,223h20v2h-20zM318,223h6v2h-6zM240,225h8v2h-8zM260,225h6v2h-6zM320,225h4v2h-4zM238,227h6v2h-6zM260,227h6v2h-6zM320,227h4v2h-4zM236,229h8v2h-8zM260,229h6v2h-6zM320,229h4v2h-4zM234,231h8v2h-8zM260,231h6v2h-6zM320,231h4v2h-4zM502,231h2v2h-2zM232,233h8v2h-8zM260,233h6v2h-6zM320,233h4v2h-4zM488,233h4v2h-4zM502,233h2v2h-2zM232,235h8v2h-8zM260,235h6v2h-6zM318,235h6v2h-6zM486,235h2v2h-2zM496,235h6v2h-6zM232,237h8v2h-8zM260,237h6v2h-6zM318,237h4v2h-4zM486,237h2v2h-2zM496,237h2v2h-2zM232,239h6v2h-6zM260,239h6v2h-6zM316,239h6v2h-6zM482,239h6v2h-6zM496,239h2v2h-2zM230,241h8v2h-8zM260,241h6v2h-6zM314,241h8v2h-8zM478,241h6v2h-6zM496,241h2v2h-2zM230,243h8v2h-8zM260,243h6v2h-6zM312,243h8v2h-8zM476,243h8v2h-8zM496,243h2v2h-2zM232,245h8v2h-8zM262,245h4v2h-4zM312,245h8v2h-8zM474,245h4v2h-4zM496,245h2v2h-2zM232,247h8v2h-8zM262,247h6v2h-6zM310,247h8v2h-8zM472,247h4v2h-4zM494,247h4v2h-4zM234,249h8v2h-8zM262,249h8v2h-8zM308,249h8v2h-8zM472,249h2v2h-2zM494,249h4v2h-4zM502,249h2v2h-2zM234,251h10v2h-10zM264,251h6v2h-6zM308,251h6v2h-6zM470,251h4v2h-4zM496,251h6v2h-6zM506,251h2v2h-2zM238,253h6v2h-6zM266,253h6v2h-6zM306,253h8v2h-8zM468,253h4v2h-4zM498,253h2v2h-2zM506,253h2v2h-2zM240,255h6v2h-6zM268,255h6v2h-6zM302,255h10v2h-10zM466,255h6v2h-6zM506,255h2v2h-2zM242,257h6v2h-6zM270,257h6v2h-6zM300,257h10v2h-10zM462,257h8v2h-8zM506,257h2v2h-2zM242,259h6v2h-6zM272,259h4v2h-4zM298,259h10v2h-10zM462,259h8v2h-8zM506,259h2v2h-2zM244,261h6v2h-6zM272,261h6v2h-6zM296,261h10v2h-10zM462,261h6v2h-6zM246,263h4v2h-4zM274,263h6v2h-6zM296,263h8v2h-8zM460,263h8v2h-8zM246,265h6v2h-6zM276,265h8v2h-8zM294,265h8v2h-8zM460,265h8v2h-8zM248,267h6v2h-6zM278,267h24v2h-24zM458,267h10v2h-10zM506,267h2v2h-2zM250,269h6v2h-6zM280,269h20v2h-20zM458,269h8v2h-8zM508,269h2v2h-2zM252,271h6v2h-6zM282,271h16v2h-16zM456,271h10v2h-10zM508,271h2v2h-2zM254,273h4v2h-4zM286,273h10v2h-10zM452,273h14v2h-14zM510,273h2v2h-2zM256,275h4v2h-4zM448,275h16v2h-16zM510,275h2v2h-2zM258,277h4v2h-4zM446,277h18v2h-18zM510,277h2v2h-2zM260,279h4v2h-4zM446,279h16v2h-16zM510,279h2v2h-2zM262,281h4v2h-4zM444,281h16v2h-16zM510,281h2v2h-2zM264,283h6v2h-6zM444,283h14v2h-14zM508,283h2v2h-2zM266,285h14v2h-14zM444,285h12v2h-12zM508,285h2v2h-2zM270,287h12v2h-12zM364,287h4v2h-4zM444,287h12v2h-12zM274,289h10v2h-10zM362,289h10v2h-10zM444,289h12v2h-12zM276,291h12v2h-12zM360,291h14v2h-14zM444,291h10v2h-10zM504,291h2v2h-2zM278,293h12v2h-12zM358,293h18v2h-18zM442,293h12v2h-12zM502,293h2v2h-2zM280,295h10v2h-10zM358,295h22v2h-22zM442,295h12v2h-12zM498,295h4v2h-4zM280,297h12v2h-12zM356,297h26v2h-26zM440,297h14v2h-14zM282,299h12v2h-12zM356,299h14v2h-14zM374,299h8v2h-8zM438,299h14v2h-14zM496,299h2v2h-2zM284,301h12v2h-12zM358,301h12v2h-12zM376,301h8v2h-8zM436,301h16v2h-16zM496,301h2v2h-2zM286,303h10v2h-10zM358,303h12v2h-12zM376,303h8v2h-8zM434,303h16v2h-16zM496,303h2v2h-2zM286,305h12v2h-12zM358,305h12v2h-12zM376,305h10v2h-10zM428,305h22v2h-22zM494,305h2v2h-2zM288,307h10v2h-10zM356,307h32v2h-32zM422,307h26v2h-26zM290,309h10v2h-10zM354,309h92v2h-92zM292,311h10v2h-10zM348,311h96v2h-96zM494,311h2v2h-2zM292,313h150v2h-150zM496,313h2v2h-2zM502,313h2v2h-2zM292,315h148v2h-148zM498,315h2v2h-2zM294,317h144v2h-144zM498,317h2v2h-2zM294,319h142v2h-142zM498,319h2v2h-2zM294,321h142v2h-142zM498,321h2v2h-2zM294,323h140v2h-140zM500,323h2v2h-2zM510,323h4v2h-4zM294,325h138v2h-138zM502,325h2v2h-2zM506,325h2v2h-2zM516,325h2v2h-2zM294,327h136v2h-136zM294,329h134v2h-134zM518,329h2v2h-2zM524,329h6v2h-6zM536,329h6v2h-6zM294,331h132v2h-132zM520,331h2v2h-2zM542,331h2v2h-2zM296,333h130v2h-130zM512,333h2v2h-2zM296,335h128v2h-128zM512,335h4v2h-4zM542,335h2v2h-2zM296,337h126v2h-126zM514,337h6v2h-6zM534,337h4v2h-4zM296,339h126v2h-126zM516,339h4v2h-4zM532,339h2v2h-2zM538,339h2v2h-2zM296,341h124v2h-124zM536,341h2v2h-2zM296,343h124v2h-124zM538,343h2v2h-2zM296,345h122v2h-122zM540,345h2v2h-2zM296,347h122v2h-122zM540,347h4v2h-4zM296,349h120v2h-120zM540,349h4v2h-4zM296,351h118v2h-118zM542,351h4v2h-4zM296,353h116v2h-116zM548,353h8v2h-8zM296,355h114v2h-114zM558,355h2v2h-2zM296,357h112v2h-112zM296,359h110v2h-110zM562,359h2v2h-2zM296,361h108v2h-108zM562,361h2v2h-2zM296,363h68v2h-68zM372,363h30v2h-30zM564,363h2v2h-2zM294,365h70v2h-70zM374,365h26v2h-26zM564,365h2v2h-2zM294,367h68v2h-68zM378,367h18v2h-18zM564,367h2v2h-2zM294,369h68v2h-68zM380,369h10v2h-10zM564,369h2v2h-2zM294,371h68v2h-68zM564,371h2v2h-2zM292,373h70v2h-70zM566,373h2v2h-2zM290,375h70v2h-70zM566,375h2v2h-2zM290,377h70v2h-70zM566,377h2v2h-2zM288,379h72v2h-72zM566,379h2v2h-2zM286,381h74v2h-74zM566,381h4v2h-4zM284,383h74v2h-74zM566,383h4v2h-4zM282,385h76v2h-76zM566,385h4v2h-4zM278,387h80v2h-80zM568,387h4v2h-4zM274,389h84v2h-84zM568,389h4v2h-4zM272,391h86v2h-86zM568,391h4v2h-4zM268,393h16v2h-16zM288,393h70v2h-70zM568,393h6v2h-6zM264,395h12v2h-12zM290,395h66v2h-66zM570,395h4v2h-4zM262,397h8v2h-8zM290,397h66v2h-66zM570,397h4v2h-4zM260,399h8v2h-8zM290,399h66v2h-66zM570,399h6v2h-6zM258,401h8v2h-8zM290,401h66v2h-66zM572,401h4v2h-4zM258,403h8v2h-8zM290,403h66v2h-66zM572,403h6v2h-6zM258,405h8v2h-8zM288,405h68v2h-68zM574,405h6v2h-6zM256,407h10v2h-10zM288,407h68v2h-68zM576,407h4v2h-4zM252,409h14v2h-14zM286,409h70v2h-70zM576,409h6v2h-6zM250,411h18v2h-18zM284,411h72v2h-72zM578,411h4v2h-4zM248,413h22v2h-22zM284,413h72v2h-72zM578,413h4v2h-4zM246,415h32v2h-32zM280,415h76v2h-76zM580,415h4v2h-4zM244,417h112v2h-112zM580,417h4v2h-4zM244,419h110v2h-110zM580,419h4v2h-4zM244,421h110v2h-110zM580,421h4v2h-4zM244,423h108v2h-108zM580,423h6v2h-6zM246,425h104v2h-104zM582,425h4v2h-4zM246,427h102v2h-102zM582,427h6v2h-6zM248,429h96v2h-96zM582,429h6v2h-6zM248,431h96v2h-96zM584,431h4v2h-4zM248,433h94v2h-94zM584,433h4v2h-4zM250,435h90v2h-90zM584,435h6v2h-6zM252,437h86v2h-86zM584,437h6v2h-6zM252,439h82v2h-82zM586,439h4v2h-4zM254,441h76v2h-76zM586,441h6v2h-6zM254,443h74v2h-74zM586,443h6v2h-6zM256,445h68v2h-68zM586,445h6v2h-6zM256,447h66v2h-66zM586,447h8v2h-8zM256,449h62v2h-62zM586,449h8v2h-8zM258,451h56v2h-56zM586,451h10v2h-10zM258,453h50v2h-50zM586,453h10v2h-10zM260,455h44v2h-44zM586,455h12v2h-12zM260,457h40v2h-40zM588,457h12v2h-12zM262,459h36v2h-36zM588,459h12v2h-12zM262,461h34v2h-34zM588,461h14v2h-14zM264,463h28v2h-28zM588,463h16v2h-16zM264,465h26v2h-26zM590,465h14v2h-14zM268,467h20v2h-20zM590,467h18v2h-18zM272,469h14v2h-14zM592,469h18v2h-18zM592,471h22v2h-22zM594,473h22v2h-22zM594,475h28v2h-28zM596,477h44v2h-44zM596,479h44v2h-44zM596,481h44v2h-44zM598,483h42v2h-42zM598,485h42v2h-42zM598,487h42v2h-42zM598,489h42v2h-42zM598,491h42v2h-42zM598,493h42v2h-42zM598,495h42v2h-42zM598,497h42v2h-42zM598,499h42v2h-42zM598,501h42v2h-42zM598,503h42v2h-42zM598,505h42v2h-42zM600,507h40v2h-40zM602,509h38v2h-38zM604,511h36v2h-36zM606,513h34v2h-34zM610,515h30v2h-30zM614,517h26v2h-26zM618,519h22v2h-22zM620,521h20v2h-20zM624,523h16v2h-16zM626,525h14v2h-14zM630,527h10v2h-10z"/>
<path fill="#00a0ff" d="M512,37h4v2h-4zM512,39h4v2h-4zM510,41h4v2h-4zM510,43h4v2h-4zM510,45h4v2h-4zM508,47h4v2h-4zM508,49h4v2h-4zM508,51h4v2h-4zM508,53h4v2h-4zM508,55h2v2h-2zM508,57h2v2h-2zM506,59h4v2h-4zM506,61h4v2h-4zM506,63h2v2h-2zM504,65h4v2h-4zM628,65h4v2h-4zM504,67h2v2h-2zM624,67h4v2h-4zM632,67h2v2h-2zM502,69h4v2h-4zM624,69h2v2h-2zM500,71h4v2h-4zM622,71h2v2h-2zM632,71h2v2h-2zM498,73h6v2h-6zM622,73h2v2h-2zM496,75h6v2h-6zM620,75h4v2h-4zM628,75h4v2h-4zM494,77h6v2h-6zM622,77h8v2h-8zM492,79h6v2h-6zM616,79h2v2h-2zM622,79h4v2h-4zM490,81h6v2h-6zM622,81h4v2h-4zM486,83h8v2h-8zM616,83h2v2h-2zM622,83h2v2h-2zM486,85h6v2h-6zM616,85h6v2h-6zM484,87h8v2h-8zM482,89h8v2h-8zM482,91h6v2h-6zM480,93h6v2h-6zM478,95h6v2h-6zM476,97h8v2h-8zM604,97h2v2h-2zM610,97h2v2h-2zM474,99h8v2h-8zM602,99h2v2h-2zM610,99h2v2h-2zM472,101h8v2h-8zM600,101h2v2h-2zM610,101h2v2h-2zM470,103h10v2h-10zM598,103h2v2h-2zM608,103h2v2h-2zM470,105h8v2h-8zM598,105h2v2h-2zM608,105h2v2h-2zM470,107h6v2h-6zM596,107h6v2h-6zM606,107h2v2h-2zM470,109h6v2h-6zM596,109h10v2h-10zM468,111h6v2h-6zM596,111h8v2h-8zM468,113h6v2h-6zM598,113h4v2h-4zM468,115h4v2h-4zM470,117h2v2h-2zM468,119h4v2h-4zM468,121h2v2h-2zM466,123h4v2h-4zM464,125h4v2h-4zM492,125h4v2h-4zM460,127h6v2h-6zM488,127h2v2h-2zM496,127h4v2h-4zM458,129h6v2h-6zM486,129h2v2h-2zM500,129h2v2h-2zM456,131h6v2h-6zM502,131h2v2h-2zM456,133h4v2h-4zM502,133h2v2h-2zM454,135h6v2h-6zM480,135h2v2h-2zM502,135h2v2h-2zM452,137h6v2h-6zM502,137h2v2h-2zM450,139h8v2h-8zM448,141h10v2h-10zM476,141h2v2h-2zM524,141h18v2h-18zM446,143h10v2h-10zM520,143h22v2h-22zM444,145h12v2h-12zM474,145h2v2h-2zM500,145h2v2h-2zM522,145h20v2h-20zM442,147h12v2h-12zM472,147h2v2h-2zM528,147h8v2h-8zM442,149h12v2h-12zM472,149h2v2h-2zM498,149h2v2h-2zM440,151h14v2h-14zM470,151h2v2h-2zM498,151h2v2h-2zM442,153h12v2h-12zM468,153h4v2h-4zM496,153h2v2h-2zM440,155h30v2h-30zM496,155h2v2h-2zM438,157h20v2h-20zM466,157h2v2h-2zM434,159h22v2h-22zM494,159h2v2h-2zM432,161h14v2h-14zM450,161h4v2h-4zM494,161h2v2h-2zM430,163h12v2h-12zM450,163h6v2h-6zM428,165h10v2h-10zM450,165h8v2h-8zM492,165h2v2h-2zM426,167h8v2h-8zM452,167h14v2h-14zM424,169h6v2h-6zM460,169h6v2h-6zM490,169h2v2h-2zM422,171h6v2h-6zM462,171h6v2h-6zM490,171h2v2h-2zM418,173h8v2h-8zM464,173h4v2h-4zM488,173h2v2h-2zM416,175h8v2h-8zM464,175h4v2h-4zM488,175h2v2h-2zM410,177h12v2h-12zM464,177h4v2h-4zM486,177h2v2h-2zM406,179h12v2h-12zM464,179h4v2h-4zM486,179h2v2h-2zM402,181h12v2h-12zM464,181h4v2h-4zM398,183h10v2h-10zM464,183h6v2h-6zM394,185h8v2h-8zM464,185h10v2h-10zM390,187h8v2h-8zM466,187h10v2h-10zM484,187h2v2h-2zM386,189h8v2h-8zM466,189h4v2h-4zM476,189h2v2h-2zM384,191h8v2h-8zM382,193h8v2h-8zM380,195h8v2h-8zM378,197h8v2h-8zM374,199h10v2h-10zM364,201h18v2h-18zM354,203h26v2h-26zM346,205h26v2h-26zM340,207h26v2h-26zM336,209h26v2h-26zM334,211h26v2h-26zM332,213h28v2h-28zM330,215h30v2h-30zM328,217h30v2h-30zM326,219h30v2h-30zM326,221h28v2h-28zM324,223h28v2h-28zM248,225h12v2h-12zM324,225h26v2h-26zM244,227h16v2h-16zM324,227h24v2h-24zM244,229h16v2h-16zM324,229h24v2h-24zM498,229h6v2h-6zM242,231h18v2h-18zM324,231h22v2h-22zM488,231h10v2h-10zM240,233h20v2h-20zM324,233h20v2h-20zM484,233h4v2h-4zM496,233h2v2h-2zM240,235h20v2h-20zM324,235h20v2h-20zM432,235h16v2h-16zM480,235h6v2h-6zM502,235h2v2h-2zM240,237h20v2h-20zM322,237h20v2h-20zM424,237h26v2h-26zM474,237h12v2h-12zM498,237h4v2h-4zM238,239h22v2h-22zM322,239h20v2h-20zM418,239h34v2h-34zM474,239h8v2h-8zM498,239h2v2h-2zM238,241h22v2h-22zM322,241h18v2h-18zM416,241h38v2h-38zM472,241h6v2h-6zM498,241h2v2h-2zM238,243h22v2h-22zM320,243h20v2h-20zM414,243h42v2h-42zM472,243h4v2h-4zM498,243h2v2h-2zM240,245h22v2h-22zM320,245h20v2h-20zM412,245h46v2h-46zM470,245h4v2h-4zM498,245h4v2h-4zM240,247h22v2h-22zM318,247h24v2h-24zM412,247h50v2h-50zM468,247h4v2h-4zM498,247h8v2h-8zM242,249h20v2h-20zM316,249h26v2h-26zM410,249h62v2h-62zM498,249h4v2h-4zM506,249h2v2h-2zM244,251h20v2h-20zM314,251h30v2h-30zM410,251h60v2h-60zM244,253h22v2h-22zM314,253h32v2h-32zM406,253h62v2h-62zM246,255h22v2h-22zM312,255h34v2h-34zM402,255h64v2h-64zM248,257h22v2h-22zM310,257h38v2h-38zM398,257h64v2h-64zM248,259h24v2h-24zM308,259h42v2h-42zM396,259h66v2h-66zM250,261h22v2h-22zM306,261h46v2h-46zM394,261h68v2h-68zM506,261h2v2h-2zM250,263h24v2h-24zM304,263h54v2h-54zM392,263h68v2h-68zM506,263h2v2h-2zM252,265h24v2h-24zM302,265h60v2h-60zM390,265h70v2h-70zM506,265h2v2h-2zM254,267h24v2h-24zM302,267h156v2h-156zM256,269h24v2h-24zM300,269h158v2h-158zM258,271h24v2h-24zM298,271h158v2h-158zM510,271h2v2h-2zM258,273h28v2h-28zM296,273h156v2h-156zM260,275h188v2h-188zM262,277h184v2h-184zM264,279h182v2h-182zM266,281h178v2h-178zM270,283h174v2h-174zM510,283h2v2h-2zM280,285h164v2h-164zM282,287h82v2h-82zM368,287h76v2h-76zM508,287h2v2h-2zM284,289h78v2h-78zM372,289h72v2h-72zM506,289h2v2h-2zM288,291h72v2h-72zM374,291h70v2h-70zM290,293h68v2h-68zM376,293h66v2h-66zM504,293h2v2h-2zM290,295h68v2h-68zM380,295h62v2h-62zM502,295h2v2h-2zM292,297h64v2h-64zM382,297h58v2h-58zM498,297h2v2h-2zM294,299h62v2h-62zM382,299h56v2h-56zM498,299h2v2h-2zM296,301h62v2h-62zM384,301h52v2h-52zM296,303h62v2h-62zM384,303h50v2h-50zM298,305h60v2h-60zM386,305h42v2h-42zM496,305h2v2h-2zM298,307h58v2h-58zM388,307h34v2h-34zM494,307h2v2h-2zM300,309h54v2h-54zM494,309h2v2h-2zM302,311h46v2h-46zM496,311h2v2h-2zM498,313h4v2h-4zM504,313h2v2h-2zM504,315h2v2h-2zM504,317h2v2h-2zM504,319h2v2h-2zM504,321h2v2h-2zM502,323h4v2h-4zM508,323h2v2h-2zM514,323h4v2h-4zM504,325h2v2h-2zM518,327h2v2h-2zM520,329h4v2h-4zM530,329h6v2h-6zM544,333h2v2h-2zM532,337h2v2h-2zM542,337h2v2h-2zM534,339h4v2h-4zM540,339h4v2h-4zM538,341h4v2h-4zM540,343h4v2h-4zM542,345h4v2h-4zM544,347h2v2h-2zM544,349h4v2h-4zM546,351h6v2h-6zM556,353h4v2h-4zM560,355h2v2h-2zM560,357h4v2h-4zM564,359h2v2h-2zM564,361h2v2h-2zM566,363h2v2h-2zM566,365h2v2h-2zM566,367h2v2h-2zM566,369h2v2h-2zM566,371h4v2h-4zM568,373h2v2h-2zM568,375h2v2h-2zM568,377h4v2h-4zM568,379h4v2h-4zM570,381h4v2h-4zM570,383h4v2h-4zM570,385h6v2h-6zM572,387h4v2h-4zM572,389h4v2h-4zM572,391h6v2h-6zM284,393h4v2h-4zM574,393h4v2h-4zM276,395h14v2h-14zM574,395h6v2h-6zM270,397h20v2h-20zM574,397h8v2h-8zM268,399h22v2h-22zM576,399h6v2h-6zM266,401h24v2h-24zM576,401h8v2h-8zM266,403h24v2h-24zM578,403h6v2h-6zM266,405h22v2h-22zM580,405h6v2h-6zM266,407h22v2h-22zM580,407h6v2h-6zM266,409h20v2h-20zM582,409h6v2h-6zM268,411h16v2h-16zM582,411h6v2h-6zM270,413h14v2h-14zM582,413h8v2h-8zM278,415h2v2h-2zM584,415h10v2h-10zM584,417h12v2h-12zM584,419h14v2h-14zM584,421h16v2h-16zM586,423h14v2h-14zM586,425h16v2h-16zM588,427h14v2h-14zM588,429h14v2h-14zM588,431h14v2h-14zM588,433h14v2h-14zM590,435h14v2h-14zM590,437h16v2h-16zM590,439h18v2h-18zM592,441h18v2h-18zM592,443h20v2h-20zM592,445h24v2h-24zM594,447h24v2h-24zM594,449h46v2h-46zM596,451h44v2h-44zM596,453h44v2h-44zM598,455h42v2h-42zM600,457h40v2h-40zM600,459h40v2h-40zM602,461h38v2h-38zM604,463h36v2h-36zM604,465h36v2h-36zM608,467h32v2h-32zM610,469h30v2h-30zM614,471h26v2h-26zM616,473h24v2h-24zM622,475h18v2h-18z"/>
<path fill="#00c0ff" d="M516,37h42v2h-42zM516,39h36v2h-36zM514,41h28v2h-28zM514,43h10v2h-10zM514,45h6v2h-6zM512,47h6v2h-6zM512,49h4v2h-4zM512,51h4v2h-4zM512,53h4v2h-4zM510,55h4v2h-4zM510,57h4v2h-4zM510,59h4v2h-4zM510,61h2v2h-2zM508,63h4v2h-4zM626,63h8v2h-8zM508,65h4v2h-4zM624,65h4v2h-4zM632,65h2v2h-2zM506,67h4v2h-4zM622,67h2v2h-2zM634,67h2v2h-2zM506,69h4v2h-4zM622,69h2v2h-2zM634,69h2v2h-2zM504,71h4v2h-4zM634,71h2v2h-2zM504,73h4v2h-4zM620,73h2v2h-2zM632,73h2v2h-2zM502,75h4v2h-4zM618,75h2v2h-2zM632,75h2v2h-2zM500,77h4v2h-4zM616,77h2v2h-2zM630,77h2v2h-2zM498,79h4v2h-4zM614,79h2v2h-2zM626,79h4v2h-4zM496,81h6v2h-6zM612,81h4v2h-4zM626,81h4v2h-4zM494,83h6v2h-6zM612,83h4v2h-4zM624,83h4v2h-4zM492,85h6v2h-6zM612,85h4v2h-4zM622,85h6v2h-6zM492,87h4v2h-4zM612,87h14v2h-14zM490,89h4v2h-4zM616,89h4v2h-4zM488,91h4v2h-4zM486,93h4v2h-4zM608,93h2v2h-2zM484,95h4v2h-4zM604,95h8v2h-8zM484,97h4v2h-4zM602,97h2v2h-2zM612,97h2v2h-2zM482,99h4v2h-4zM598,99h4v2h-4zM612,99h2v2h-2zM480,101h6v2h-6zM596,101h4v2h-4zM612,101h2v2h-2zM480,103h4v2h-4zM596,103h2v2h-2zM610,103h2v2h-2zM478,105h6v2h-6zM594,105h4v2h-4zM610,105h2v2h-2zM476,107h6v2h-6zM594,107h2v2h-2zM608,107h2v2h-2zM476,109h4v2h-4zM594,109h2v2h-2zM606,109h4v2h-4zM474,111h6v2h-6zM592,111h4v2h-4zM604,111h4v2h-4zM474,113h4v2h-4zM592,113h6v2h-6zM602,113h4v2h-4zM472,115h6v2h-6zM594,115h12v2h-12zM472,117h4v2h-4zM596,117h8v2h-8zM472,119h4v2h-4zM598,119h4v2h-4zM470,121h4v2h-4zM526,121h2v2h-2zM470,123h4v2h-4zM526,123h4v2h-4zM468,125h4v2h-4zM490,125h2v2h-2zM496,125h2v2h-2zM466,127h6v2h-6zM486,127h2v2h-2zM464,129h6v2h-6zM484,129h2v2h-2zM502,129h2v2h-2zM462,131h6v2h-6zM482,131h2v2h-2zM460,133h6v2h-6zM480,133h2v2h-2zM504,133h2v2h-2zM460,135h6v2h-6zM478,135h2v2h-2zM504,135h2v2h-2zM458,137h6v2h-6zM476,137h4v2h-4zM504,137h2v2h-2zM524,137h18v2h-18zM558,137h2v2h-2zM458,139h6v2h-6zM476,139h2v2h-2zM502,139h2v2h-2zM512,139h34v2h-34zM556,139h6v2h-6zM458,141h4v2h-4zM474,141h2v2h-2zM502,141h2v2h-2zM512,141h12v2h-12zM542,141h4v2h-4zM556,141h6v2h-6zM456,143h6v2h-6zM472,143h4v2h-4zM502,143h2v2h-2zM512,143h8v2h-8zM542,143h6v2h-6zM456,145h4v2h-4zM470,145h4v2h-4zM502,145h2v2h-2zM512,145h10v2h-10zM542,145h4v2h-4zM454,147h6v2h-6zM468,147h4v2h-4zM500,147h2v2h-2zM516,147h12v2h-12zM536,147h10v2h-10zM454,149h6v2h-6zM466,149h6v2h-6zM500,149h2v2h-2zM522,149h20v2h-20zM454,151h16v2h-16zM500,151h2v2h-2zM454,153h14v2h-14zM498,153h4v2h-4zM498,155h2v2h-2zM496,157h4v2h-4zM496,159h2v2h-2zM446,161h4v2h-4zM496,161h2v2h-2zM442,163h8v2h-8zM494,163h2v2h-2zM438,165h12v2h-12zM494,165h2v2h-2zM434,167h18v2h-18zM492,167h2v2h-2zM430,169h30v2h-30zM492,169h2v2h-2zM428,171h34v2h-34zM426,173h14v2h-14zM448,173h16v2h-16zM490,173h2v2h-2zM424,175h14v2h-14zM450,175h14v2h-14zM490,175h2v2h-2zM422,177h14v2h-14zM452,177h12v2h-12zM488,177h2v2h-2zM418,179h18v2h-18zM452,179h12v2h-12zM488,179h2v2h-2zM414,181h20v2h-20zM452,181h12v2h-12zM486,181h2v2h-2zM408,183h24v2h-24zM452,183h12v2h-12zM486,183h2v2h-2zM402,185h22v2h-22zM452,185h12v2h-12zM486,185h2v2h-2zM398,187h22v2h-22zM450,187h16v2h-16zM394,189h20v2h-20zM450,189h16v2h-16zM470,189h6v2h-6zM484,189h2v2h-2zM392,191h18v2h-18zM450,191h34v2h-34zM390,193h18v2h-18zM450,193h26v2h-26zM388,195h18v2h-18zM446,195h28v2h-28zM386,197h20v2h-20zM444,197h28v2h-28zM384,199h20v2h-20zM442,199h30v2h-30zM382,201h22v2h-22zM440,201h32v2h-32zM380,203h22v2h-22zM440,203h30v2h-30zM372,205h30v2h-30zM438,205h32v2h-32zM366,207h36v2h-36zM434,207h34v2h-34zM362,209h40v2h-40zM430,209h38v2h-38zM360,211h108v2h-108zM360,213h106v2h-106zM360,215h106v2h-106zM358,217h106v2h-106zM356,219h108v2h-108zM354,221h108v2h-108zM352,223h110v2h-110zM350,225h110v2h-110zM348,227h112v2h-112zM498,227h2v2h-2zM348,229h114v2h-114zM478,229h20v2h-20zM346,231h116v2h-116zM470,231h18v2h-18zM504,231h2v2h-2zM344,233h118v2h-118zM468,233h16v2h-16zM504,233h2v2h-2zM344,235h88v2h-88zM448,235h16v2h-16zM468,235h12v2h-12zM504,235h2v2h-2zM342,237h82v2h-82zM450,237h14v2h-14zM466,237h8v2h-8zM502,237h2v2h-2zM342,239h76v2h-76zM452,239h22v2h-22zM500,239h4v2h-4zM340,241h76v2h-76zM454,241h18v2h-18zM500,241h4v2h-4zM340,243h74v2h-74zM456,243h16v2h-16zM500,243h4v2h-4zM340,245h72v2h-72zM458,245h12v2h-12zM502,245h4v2h-4zM342,247h70v2h-70zM462,247h6v2h-6zM506,247h2v2h-2zM342,249h68v2h-68zM344,251h66v2h-66zM508,251h2v2h-2zM346,253h60v2h-60zM508,253h2v2h-2zM346,255h56v2h-56zM508,255h2v2h-2zM348,257h50v2h-50zM508,257h2v2h-2zM350,259h46v2h-46zM508,259h2v2h-2zM352,261h42v2h-42zM508,261h2v2h-2zM358,263h34v2h-34zM508,263h2v2h-2zM362,265h28v2h-28zM508,265h2v2h-2zM508,267h4v2h-4zM510,269h2v2h-2zM512,273h2v2h-2zM512,275h2v2h-2zM512,277h2v2h-2zM512,279h2v2h-2zM512,281h2v2h-2zM512,283h2v2h-2zM510,285h2v2h-2zM510,287h2v2h-2zM508,289h2v2h-2zM506,291h2v2h-2zM506,293h2v2h-2zM504,295h2v2h-2zM500,297h4v2h-4zM500,299h4v2h-4zM498,301h4v2h-4zM498,303h4v2h-4zM498,305h2v2h-2zM496,307h4v2h-4zM496,309h4v2h-4zM498,311h8v2h-8zM506,315h2v2h-2zM506,317h2v2h-2zM506,319h2v2h-2zM506,321h10v2h-10zM506,323h2v2h-2zM518,323h2v2h-2zM518,325h2v2h-2zM520,327h2v2h-2zM524,327h8v2h-8zM534,327h8v2h-8zM542,329h2v2h-2zM544,331h2v2h-2zM544,335h2v2h-2zM544,337h2v2h-2zM544,339h4v2h-4zM542,341h6v2h-6zM544,343h4v2h-4zM546,345h4v2h-4zM546,347h4v2h-4zM548,349h6v2h-6zM552,351h8v2h-8zM560,353h6v2h-6zM562,355h6v2h-6zM564,357h6v2h-6zM566,359h4v2h-4zM566,361h4v2h-4zM568,363h4v2h-4zM568,365h4v2h-4zM568,367h4v2h-4zM568,369h6v2h-6zM570,371h4v2h-4zM570,373h6v2h-6zM570,375h8v2h-8zM572,377h6v2h-6zM572,379h8v2h-8zM574,381h6v2h-6zM574,383h8v2h-8zM576,385h8v2h-8zM576,387h10v2h-10zM576,389h14v2h-14zM578,391h20v2h-20zM578,393h24v2h-24zM580,395h60v2h-60zM582,397h58v2h-58zM582,399h58v2h-58zM584,401h56v2h-56zM584,403h56v2h-56zM586,405h54v2h-54zM586,407h54v2h-54zM588,409h52v2h-52zM588,411h52v2h-52zM590,413h50v2h-50zM594,415h46v2h-46zM596,417h44v2h-44zM598,419h42v2h-42zM600,421h40v2h-40zM600,423h40v2h-40zM602,425h38v2h-38zM602,427h38v2h-38zM602,429h38v2h-38zM602,431h38v2h-38zM602,433h38v2h-38zM604,435h36v2h-36zM606,437h34v2h-34zM608,439h32v2h-32zM610,441h30v2h-30zM612,443h28v2h-28zM616,445h24v2h-24zM618,447h22v2h-22z"/>
<path fill="#00dfff" d="M558,37h82v2h-82zM552,39h88v2h-88zM542,41h98v2h-98zM524,43h116v2h-116zM520,45h120v2h-120zM518,47h56v2h-56zM614,47h26v2h-26zM516,49h42v2h-42zM516,51h16v2h-16zM516,53h12v2h-12zM514,55h10v2h-10zM514,57h8v2h-8zM514,59h6v2h-6zM624,59h10v2h-10zM512,61h8v2h-8zM622,61h14v2h-14zM512,63h8v2h-8zM620,63h6v2h-6zM634,63h4v2h-4zM512,65h6v2h-6zM620,65h4v2h-4zM634,65h4v2h-4zM510,67h8v2h-8zM620,67h2v2h-2zM636,67h2v2h-2zM510,69h8v2h-8zM620,69h2v2h-2zM636,69h2v2h-2zM508,71h8v2h-8zM618,71h4v2h-4zM636,71h2v2h-2zM508,73h6v2h-6zM618,73h2v2h-2zM634,73h4v2h-4zM506,75h6v2h-6zM614,75h4v2h-4zM634,75h4v2h-4zM504,77h6v2h-6zM612,77h4v2h-4zM632,77h4v2h-4zM502,79h6v2h-6zM610,79h4v2h-4zM630,79h6v2h-6zM502,81h4v2h-4zM610,81h2v2h-2zM630,81h6v2h-6zM500,83h6v2h-6zM608,83h4v2h-4zM628,83h6v2h-6zM498,85h6v2h-6zM608,85h4v2h-4zM628,85h6v2h-6zM496,87h6v2h-6zM606,87h6v2h-6zM626,87h8v2h-8zM494,89h6v2h-6zM604,89h12v2h-12zM620,89h14v2h-14zM492,91h4v2h-4zM604,91h30v2h-30zM490,93h4v2h-4zM602,93h6v2h-6zM610,93h20v2h-20zM488,95h6v2h-6zM598,95h6v2h-6zM612,95h8v2h-8zM488,97h4v2h-4zM596,97h6v2h-6zM614,97h4v2h-4zM486,99h4v2h-4zM594,99h4v2h-4zM614,99h4v2h-4zM486,101h4v2h-4zM592,101h4v2h-4zM614,101h4v2h-4zM484,103h6v2h-6zM590,103h6v2h-6zM612,103h4v2h-4zM484,105h4v2h-4zM590,105h4v2h-4zM612,105h4v2h-4zM482,107h6v2h-6zM590,107h4v2h-4zM610,107h4v2h-4zM480,109h6v2h-6zM590,109h4v2h-4zM610,109h4v2h-4zM480,111h6v2h-6zM588,111h4v2h-4zM608,111h4v2h-4zM478,113h6v2h-6zM588,113h4v2h-4zM606,113h6v2h-6zM478,115h4v2h-4zM588,115h6v2h-6zM606,115h4v2h-4zM476,117h6v2h-6zM524,117h6v2h-6zM590,117h6v2h-6zM604,117h6v2h-6zM476,119h4v2h-4zM522,119h10v2h-10zM592,119h6v2h-6zM602,119h6v2h-6zM474,121h6v2h-6zM492,121h2v2h-2zM522,121h4v2h-4zM528,121h6v2h-6zM594,121h12v2h-12zM474,123h6v2h-6zM486,123h12v2h-12zM522,123h4v2h-4zM530,123h4v2h-4zM596,123h10v2h-10zM472,125h8v2h-8zM484,125h6v2h-6zM498,125h4v2h-4zM522,125h12v2h-12zM598,125h6v2h-6zM472,127h14v2h-14zM500,127h4v2h-4zM522,127h14v2h-14zM470,129h14v2h-14zM504,129h2v2h-2zM522,129h14v2h-14zM468,131h14v2h-14zM504,131h4v2h-4zM522,131h16v2h-16zM466,133h14v2h-14zM506,133h6v2h-6zM520,133h26v2h-26zM556,133h4v2h-4zM466,135h12v2h-12zM506,135h58v2h-58zM464,137h12v2h-12zM506,137h18v2h-18zM542,137h16v2h-16zM560,137h6v2h-6zM464,139h12v2h-12zM504,139h8v2h-8zM546,139h10v2h-10zM562,139h4v2h-4zM462,141h12v2h-12zM504,141h8v2h-8zM546,141h10v2h-10zM562,141h4v2h-4zM462,143h10v2h-10zM504,143h8v2h-8zM548,143h18v2h-18zM460,145h10v2h-10zM504,145h8v2h-8zM546,145h18v2h-18zM460,147h8v2h-8zM502,147h14v2h-14zM546,147h6v2h-6zM554,147h8v2h-8zM460,149h6v2h-6zM502,149h20v2h-20zM542,149h8v2h-8zM502,151h6v2h-6zM514,151h32v2h-32zM502,153h4v2h-4zM500,155h4v2h-4zM500,157h4v2h-4zM498,159h4v2h-4zM498,161h2v2h-2zM496,163h4v2h-4zM496,165h2v2h-2zM494,167h4v2h-4zM494,169h2v2h-2zM492,171h4v2h-4zM440,173h8v2h-8zM492,173h2v2h-2zM438,175h12v2h-12zM492,175h2v2h-2zM436,177h16v2h-16zM490,177h2v2h-2zM436,179h16v2h-16zM490,179h2v2h-2zM434,181h18v2h-18zM488,181h2v2h-2zM432,183h20v2h-20zM488,183h2v2h-2zM424,185h28v2h-28zM420,187h30v2h-30zM486,187h2v2h-2zM414,189h36v2h-36zM410,191h40v2h-40zM484,191h2v2h-2zM408,193h42v2h-42zM476,193h8v2h-8zM406,195h40v2h-40zM474,195h6v2h-6zM406,197h38v2h-38zM472,197h6v2h-6zM404,199h38v2h-38zM472,199h6v2h-6zM404,201h36v2h-36zM472,201h6v2h-6zM402,203h38v2h-38zM470,203h8v2h-8zM402,205h36v2h-36zM470,205h8v2h-8zM402,207h32v2h-32zM468,207h10v2h-10zM402,209h28v2h-28zM468,209h10v2h-10zM468,211h12v2h-12zM466,213h16v2h-16zM466,215h18v2h-18zM464,217h36v2h-36zM464,219h36v2h-36zM462,221h38v2h-38zM462,223h38v2h-38zM460,225h42v2h-42zM460,227h38v2h-38zM500,227h6v2h-6zM462,229h16v2h-16zM504,229h2v2h-2zM462,231h8v2h-8zM506,231h2v2h-2zM462,233h6v2h-6zM506,233h2v2h-2zM464,235h4v2h-4zM506,235h2v2h-2zM464,237h2v2h-2zM504,237h4v2h-4zM504,239h4v2h-4zM504,241h4v2h-4zM504,243h4v2h-4zM506,245h4v2h-4zM508,247h4v2h-4zM508,249h4v2h-4zM510,251h2v2h-2zM510,253h2v2h-2zM510,255h4v2h-4zM510,257h4v2h-4zM510,259h4v2h-4zM510,261h4v2h-4zM510,263h4v2h-4zM510,265h4v2h-4zM512,267h4v2h-4zM512,269h4v2h-4zM512,271h6v2h-6zM514,273h4v2h-4zM514,275h4v2h-4zM514,277h4v2h-4zM514,279h4v2h-4zM514,281h4v2h-4zM514,283h4v2h-4zM512,285h4v2h-4zM512,287h4v2h-4zM510,289h6v2h-6zM508,291h6v2h-6zM508,293h6v2h-6zM506,295h8v2h-8zM504,297h8v2h-8zM504,299h8v2h-8zM502,301h8v2h-8zM502,303h8v2h-8zM500,305h8v2h-8zM500,307h8v2h-8zM500,309h10v2h-10zM506,311h4v2h-4zM506,313h4v2h-4zM508,315h2v2h-2zM508,317h8v2h-8zM508,319h12v2h-12zM516,321h6v2h-6zM520,323h8v2h-8zM520,325h22v2h-22zM522,327h2v2h-2zM532,327h2v2h-2zM542,327h4v2h-4zM544,329h2v2h-2zM546,331h2v2h-2zM546,333h4v2h-4zM546,335h4v2h-4zM546,337h6v2h-6zM548,339h4v2h-4zM548,341h4v2h-4zM548,343h6v2h-6zM550,345h74v2h-74zM550,347h80v2h-80zM554,349h80v2h-80zM560,351h76v2h-76zM566,353h74v2h-74zM568,355h72v2h-72zM570,357h70v2h-70zM570,359h70v2h-70zM570,361h70v2h-70zM572,363h68v2h-68zM572,365h68v2h-68zM572,367h68v2h-68zM574,369h66v2h-66zM574,371h66v2h-66zM576,373h64v2h-64zM578,375h62v2h-62zM578,377h62v2h-62zM580,379h60v2h-60zM580,381h60v2h-60zM582,383h58v2h-58zM584,385h56v2h-56zM586,387h54v2h-54zM590,389h50v2h-50zM598,391h42v2h-42zM602,393h38v2h-38z"/>
<path fill="#00ffff" d="M574,47h40v2h-40zM558,49h82v2h-82zM532,51h108v2h-108zM528,53h112v2h-112zM524,55h116v2h-116zM522,57h62v2h-62zM602,57h38v2h-38zM520,59h58v2h-58zM608,59h16v2h-16zM634,59h6v2h-6zM520,61h52v2h-52zM608,61h14v2h-14zM636,61h4v2h-4zM520,63h50v2h-50zM610,63h10v2h-10zM638,63h2v2h-2zM518,65h48v2h-48zM610,65h10v2h-10zM638,65h2v2h-2zM518,67h46v2h-46zM612,67h8v2h-8zM638,67h2v2h-2zM518,69h44v2h-44zM612,69h8v2h-8zM638,69h2v2h-2zM516,71h46v2h-46zM612,71h6v2h-6zM638,71h2v2h-2zM514,73h48v2h-48zM610,73h8v2h-8zM638,73h2v2h-2zM512,75h48v2h-48zM608,75h6v2h-6zM638,75h2v2h-2zM510,77h50v2h-50zM606,77h6v2h-6zM636,77h4v2h-4zM508,79h52v2h-52zM604,79h6v2h-6zM636,79h4v2h-4zM506,81h54v2h-54zM602,81h8v2h-8zM636,81h4v2h-4zM506,83h54v2h-54zM600,83h8v2h-8zM634,83h6v2h-6zM504,85h54v2h-54zM594,85h14v2h-14zM634,85h6v2h-6zM502,87h18v2h-18zM542,87h16v2h-16zM592,87h14v2h-14zM634,87h6v2h-6zM500,89h14v2h-14zM544,89h14v2h-14zM592,89h12v2h-12zM634,89h6v2h-6zM496,91h10v2h-10zM546,91h12v2h-12zM592,91h12v2h-12zM634,91h6v2h-6zM494,93h8v2h-8zM546,93h12v2h-12zM592,93h10v2h-10zM630,93h10v2h-10zM494,95h6v2h-6zM548,95h10v2h-10zM590,95h8v2h-8zM620,95h20v2h-20zM492,97h8v2h-8zM548,97h12v2h-12zM588,97h8v2h-8zM618,97h22v2h-22zM490,99h8v2h-8zM548,99h14v2h-14zM588,99h6v2h-6zM618,99h22v2h-22zM490,101h8v2h-8zM548,101h16v2h-16zM586,101h6v2h-6zM618,101h22v2h-22zM490,103h8v2h-8zM548,103h18v2h-18zM584,103h6v2h-6zM616,103h24v2h-24zM488,105h10v2h-10zM548,105h24v2h-24zM582,105h8v2h-8zM616,105h24v2h-24zM488,107h10v2h-10zM548,107h42v2h-42zM614,107h26v2h-26zM486,109h10v2h-10zM548,109h42v2h-42zM614,109h26v2h-26zM486,111h10v2h-10zM548,111h40v2h-40zM612,111h28v2h-28zM484,113h12v2h-12zM548,113h40v2h-40zM612,113h28v2h-28zM482,115h14v2h-14zM522,115h12v2h-12zM546,115h42v2h-42zM610,115h30v2h-30zM482,117h16v2h-16zM520,117h4v2h-4zM530,117h6v2h-6zM542,117h48v2h-48zM610,117h30v2h-30zM480,119h22v2h-22zM518,119h4v2h-4zM532,119h60v2h-60zM608,119h32v2h-32zM480,121h12v2h-12zM494,121h12v2h-12zM516,121h6v2h-6zM534,121h60v2h-60zM606,121h34v2h-34zM480,123h6v2h-6zM498,123h12v2h-12zM514,123h8v2h-8zM534,123h62v2h-62zM606,123h34v2h-34zM480,125h4v2h-4zM502,125h20v2h-20zM534,125h64v2h-64zM604,125h36v2h-36zM504,127h18v2h-18zM536,127h104v2h-104zM506,129h16v2h-16zM536,129h104v2h-104zM508,131h14v2h-14zM538,131h102v2h-102zM512,133h8v2h-8zM546,133h10v2h-10zM560,133h80v2h-80zM564,135h76v2h-76zM566,137h74v2h-74zM566,139h8v2h-8zM636,139h4v2h-4zM566,141h6v2h-6zM566,143h6v2h-6zM564,145h6v2h-6zM552,147h2v2h-2zM562,147h8v2h-8zM550,149h18v2h-18zM508,151h6v2h-6zM546,151h20v2h-20zM506,153h56v2h-56zM504,155h54v2h-54zM504,157h54v2h-54zM502,159h56v2h-56zM500,161h58v2h-58zM500,163h58v2h-58zM498,165h6v2h-6zM518,165h40v2h-40zM498,167h6v2h-6zM522,167h36v2h-36zM496,169h6v2h-6zM528,169h28v2h-28zM496,171h4v2h-4zM532,171h24v2h-24zM494,173h6v2h-6zM534,173h22v2h-22zM494,175h4v2h-4zM534,175h20v2h-20zM492,177h4v2h-4zM536,177h16v2h-16zM492,179h2v2h-2zM538,179h12v2h-12zM490,181h4v2h-4zM540,181h2v2h-2zM490,183h2v2h-2zM488,185h2v2h-2zM488,187h2v2h-2zM486,189h4v2h-4zM486,191h2v2h-2zM484,193h4v2h-4zM480,195h6v2h-6zM478,197h8v2h-8zM478,199h8v2h-8zM478,201h8v2h-8zM478,203h8v2h-8zM478,205h8v2h-8zM478,207h10v2h-10zM478,209h18v2h-18zM480,211h26v2h-26zM482,213h28v2h-28zM484,215h26v2h-26zM500,217h10v2h-10zM500,219h10v2h-10zM500,221h10v2h-10zM500,223h10v2h-10zM502,225h8v2h-8zM506,227h4v2h-4zM506,229h4v2h-4zM508,231h4v2h-4zM508,233h6v2h-6zM508,235h8v2h-8zM508,237h16v2h-16zM508,239h32v2h-32zM508,241h42v2h-42zM508,243h46v2h-46zM510,245h46v2h-46zM512,247h44v2h-44zM512,249h44v2h-44zM512,251h44v2h-44zM512,253h44v2h-44zM514,255h44v2h-44zM514,257h44v2h-44zM514,259h44v2h-44zM514,261h44v2h-44zM514,263h44v2h-44zM514,265h44v2h-44zM516,267h42v2h-42zM516,269h42v2h-42zM518,271h40v2h-40zM518,273h40v2h-40zM518,275h40v2h-40zM518,277h40v2h-40zM518,279h40v2h-40zM518,281h40v2h-40zM518,283h40v2h-40zM516,285h42v2h-42zM516,287h42v2h-42zM516,289h42v2h-42zM514,291h44v2h-44zM514,293h44v2h-44zM514,295h44v2h-44zM512,297h46v2h-46zM512,299h46v2h-46zM510,301h48v2h-48zM510,303h50v2h-50zM508,305h52v2h-52zM508,307h52v2h-52zM510,309h50v2h-50zM510,311h50v2h-50zM510,313h50v2h-50zM510,315h48v2h-48zM516,317h42v2h-42zM520,319h38v2h-38zM522,321h36v2h-36zM528,323h28v2h-28zM542,325h14v2h-14zM546,327h10v2h-10zM546,329h12v2h-12zM548,331h14v2h-14zM550,333h18v2h-18zM550,335h84v2h-84zM552,337h88v2h-88zM552,339h88v2h-88zM552,341h88v2h-88zM554,343h86v2h-86zM624,345h16v2h-16zM630,347h10v2h-10zM634,349h6v2h-6zM636,351h4v2h-4z"/>
<path fill="#00ffdf" d="M584,57h18v2h-18zM578,59h30v2h-30zM572,61h36v2h-36zM570,63h40v2h-40zM566,65h44v2h-44zM564,67h48v2h-48zM562,69h50v2h-50zM562,71h50v2h-50zM562,73h48v2h-48zM560,75h48v2h-48zM560,77h46v2h-46zM560,79h44v2h-44zM560,81h42v2h-42zM560,83h40v2h-40zM558,85h36v2h-36zM520,87h22v2h-22zM558,87h34v2h-34zM514,89h30v2h-30zM558,89h34v2h-34zM506,91h40v2h-40zM558,91h34v2h-34zM502,93h44v2h-44zM558,93h34v2h-34zM500,95h48v2h-48zM558,95h32v2h-32zM500,97h48v2h-48zM560,97h28v2h-28zM498,99h50v2h-50zM562,99h26v2h-26zM498,101h50v2h-50zM564,101h22v2h-22zM498,103h50v2h-50zM566,103h18v2h-18zM498,105h50v2h-50zM572,105h10v2h-10zM498,107h50v2h-50zM496,109h52v2h-52zM496,111h52v2h-52zM496,113h52v2h-52zM496,115h26v2h-26zM534,115h12v2h-12zM498,117h22v2h-22zM536,117h6v2h-6zM502,119h16v2h-16zM506,121h10v2h-10zM510,123h4v2h-4zM574,139h62v2h-62zM572,141h68v2h-68zM572,143h68v2h-68zM570,145h70v2h-70zM570,147h70v2h-70zM568,149h72v2h-72zM566,151h74v2h-74zM562,153h78v2h-78zM558,155h82v2h-82zM558,157h82v2h-82zM558,159h82v2h-82zM558,161h82v2h-82zM558,163h82v2h-82zM504,165h14v2h-14zM558,165h82v2h-82zM504,167h18v2h-18zM558,167h82v2h-82zM502,169h26v2h-26zM556,169h84v2h-84zM500,171h32v2h-32zM556,171h84v2h-84zM500,173h34v2h-34zM556,173h84v2h-84zM498,175h8v2h-8zM512,175h22v2h-22zM554,175h86v2h-86zM496,177h8v2h-8zM518,177h18v2h-18zM552,177h36v2h-36zM634,177h6v2h-6zM494,179h8v2h-8zM520,179h18v2h-18zM550,179h34v2h-34zM494,181h6v2h-6zM522,181h18v2h-18zM542,181h38v2h-38zM492,183h6v2h-6zM522,183h56v2h-56zM490,185h6v2h-6zM524,185h52v2h-52zM490,187h4v2h-4zM524,187h50v2h-50zM490,189h4v2h-4zM524,189h48v2h-48zM488,191h4v2h-4zM524,191h48v2h-48zM488,193h4v2h-4zM524,193h46v2h-46zM486,195h6v2h-6zM524,195h46v2h-46zM486,197h6v2h-6zM522,197h48v2h-48zM486,199h8v2h-8zM522,199h48v2h-48zM486,201h8v2h-8zM522,201h46v2h-46zM486,203h10v2h-10zM522,203h46v2h-46zM486,205h12v2h-12zM522,205h46v2h-46zM488,207h26v2h-26zM520,207h46v2h-46zM496,209h68v2h-68zM506,211h56v2h-56zM510,213h12v2h-12zM524,213h36v2h-36zM510,215h12v2h-12zM526,215h32v2h-32zM510,217h12v2h-12zM528,217h28v2h-28zM510,219h14v2h-14zM530,219h24v2h-24zM510,221h16v2h-16zM532,221h20v2h-20zM510,223h40v2h-40zM510,225h44v2h-44zM510,227h52v2h-52zM510,229h56v2h-56zM512,231h58v2h-58zM514,233h58v2h-58zM516,235h58v2h-58zM524,237h52v2h-52zM540,239h38v2h-38zM550,241h28v2h-28zM554,243h26v2h-26zM556,245h24v2h-24zM556,247h26v2h-26zM556,249h26v2h-26zM556,251h26v2h-26zM556,253h26v2h-26zM558,255h24v2h-24zM558,257h26v2h-26zM558,259h26v2h-26zM558,261h26v2h-26zM558,263h26v2h-26zM558,265h26v2h-26zM558,267h26v2h-26zM558,269h26v2h-26zM558,271h26v2h-26zM558,273h26v2h-26zM558,275h26v2h-26zM558,277h26v2h-26zM558,279h26v2h-26zM558,281h26v2h-26zM558,283h26v2h-26zM558,285h26v2h-26zM558,287h26v2h-26zM558,289h26v2h-26zM558,291h26v2h-26zM558,293h26v2h-26zM558,295h26v2h-26zM558,297h28v2h-28zM558,299h30v2h-30zM558,301h32v2h-32zM560,303h34v2h-34zM560,305h38v2h-38zM560,307h42v2h-42zM560,309h46v2h-46zM560,311h50v2h-50zM560,313h58v2h-58zM558,315h82v2h-82zM558,317h82v2h-82zM558,319h82v2h-82zM558,321h82v2h-82zM556,323h84v2h-84zM556,325h84v2h-84zM556,327h84v2h-84zM558,329h82v2h-82zM562,331h78v2h-78zM568,333h72v2h-72zM634,335h6v2h-6z"/>
<path fill="#00ffbf" d="M506,175h6v2h-6zM504,177h14v2h-14zM588,177h46v2h-46zM502,179h18v2h-18zM584,179h56v2h-56zM500,181h22v2h-22zM580,181h60v2h-60zM498,183h24v2h-24zM578,183h62v2h-62zM496,185h8v2h-8zM512,185h12v2h-12zM576,185h64v2h-64zM494,187h8v2h-8zM514,187h10v2h-10zM574,187h66v2h-66zM494,189h8v2h-8zM514,189h10v2h-10zM572,189h68v2h-68zM492,191h8v2h-8zM514,191h10v2h-10zM572,191h68v2h-68zM492,193h10v2h-10zM512,193h12v2h-12zM570,193h70v2h-70zM492,195h10v2h-10zM512,195h12v2h-12zM570,195h70v2h-70zM492,197h30v2h-30zM570,197h70v2h-70zM494,199h28v2h-28zM570,199h70v2h-70zM494,201h28v2h-28zM568,201h72v2h-72zM496,203h26v2h-26zM568,203h72v2h-72zM498,205h24v2h-24zM568,205h72v2h-72zM514,207h6v2h-6zM566,207h74v2h-74zM564,209h76v2h-76zM562,211h78v2h-78zM522,213h2v2h-2zM560,213h80v2h-80zM522,215h4v2h-4zM558,215h82v2h-82zM522,217h6v2h-6zM556,217h84v2h-84zM524,219h6v2h-6zM554,219h86v2h-86zM526,221h6v2h-6zM552,221h86v2h-86zM550,223h56v2h-56zM554,225h46v2h-46zM562,227h36v2h-36zM566,229h32v2h-32zM570,231h28v2h-28zM572,233h26v2h-26zM574,235h24v2h-24zM576,237h22v2h-22zM578,239h22v2h-22zM578,241h22v2h-22zM580,243h20v2h-20zM580,245h22v2h-22zM582,247h20v2h-20zM582,249h20v2h-20zM582,251h20v2h-20zM582,253h20v2h-20zM582,255h20v2h-20zM584,257h18v2h-18zM584,259h18v2h-18zM584,261h18v2h-18zM584,263h18v2h-18zM584,265h18v2h-18zM584,267h18v2h-18zM584,269h18v2h-18zM584,271h18v2h-18zM584,273h18v2h-18zM584,275h18v2h-18zM584,277h18v2h-18zM584,279h18v2h-18zM584,281h18v2h-18zM584,283h20v2h-20zM584,285h20v2h-20zM584,287h22v2h-22zM584,289h24v2h-24zM584,291h24v2h-24zM584,293h26v2h-26zM584,295h28v2h-28zM586,297h28v2h-28zM588,299h32v2h-32zM590,301h38v2h-38zM594,303h44v2h-44zM598,305h42v2h-42zM602,307h38v2h-38zM606,309h34v2h-34zM610,311h30v2h-30zM618,313h22v2h-22z"/>
<path fill="#00ff9f" d="M504,185h8v2h-8zM502,187h12v2h-12zM502,189h12v2h-12zM500,191h14v2h-14zM502,193h10v2h-10zM502,195h10v2h-10zM638,221h2v2h-2zM606,223h34v2h-34zM600,225h40v2h-40zM598,227h42v2h-42zM598,229h42v2h-42zM598,231h42v2h-42zM598,233h42v2h-42zM598,235h42v2h-42zM598,237h42v2h-42zM600,239h40v2h-40zM600,241h38v2h-38zM600,243h34v2h-34zM602,245h30v2h-30zM602,247h28v2h-28zM602,249h26v2h-26zM602,251h26v2h-26zM602,253h24v2h-24zM602,255h24v2h-24zM602,257h24v2h-24zM602,259h22v2h-22zM602,261h22v2h-22zM602,263h22v2h-22zM602,265h22v2h-22zM602,267h22v2h-22zM602,269h22v2h-22zM602,271h22v2h-22zM602,273h22v2h-22zM602,275h22v2h-22zM602,277h24v2h-24zM602,279h24v2h-24zM602,281h26v2h-26zM604,283h26v2h-26zM604,285h28v2h-28zM606,287h28v2h-28zM608,289h32v2h-32zM608,291h32v2h-32zM610,293h30v2h-30zM612,295h28v2h-28zM614,297h26v2h-26zM620,299h20v2h-20zM628,301h12v2h-12zM638,303h2v2h-2z"/>
<path fill="#00ff7f" d="M638,241h2v2h-2zM634,243h6v2h-6zM632,245h8v2h-8zM630,247h10v2h-10zM628,249h12v2h-12zM628,251h12v2h-12zM626,253h14v2h-14zM626,255h14v2h-14zM626,257h14v2h-14zM624,259h16v2h-16zM624,261h16v2h-16zM624,263h16v2h-16zM624,265h16v2h-16zM624,267h16v2h-16zM624,269h16v2h-16zM624,271h16v2h-16zM624,273h16v2h-16zM624,275h16v2h-16zM626,277h14v2h-14zM626,279h14v2h-14zM628,281h12v2h-12zM630,283h10v2h-10zM632,285h8v2h-8zM634,287h6v2h-6z"/>
</g>
<ellipse cx="601" cy="106" rx="17" ry="8.5" fill="#00c0ff" transform="rotate(-38 601 106)" shape-rendering="crispEdges"/>
<ellipse cx="601" cy="106" rx="15" ry="6.5" fill="#0080ff" transform="rotate(-38 601 106)" shape-rendering="crispEdges"/>
<ellipse cx="601" cy="106" rx="13.2" ry="4.7" fill="#0040ff" transform="rotate(-38 601 106)" shape-rendering="crispEdges"/>
<ellipse cx="629" cy="71" rx="13" ry="8" fill="#00c0ff" transform="rotate(-40 629 71)" shape-rendering="crispEdges"/>
<ellipse cx="629" cy="71" rx="11" ry="6" fill="#0080ff" transform="rotate(-40 629 71)" shape-rendering="crispEdges"/>
<ellipse cx="629" cy="71" rx="9.2" ry="4.2" fill="#0040ff" transform="rotate(-40 629 71)" shape-rendering="crispEdges"/>
<ellipse cx="620" cy="81" rx="8" ry="8" fill="#00c0ff" transform="rotate(0 620 81)" shape-rendering="crispEdges"/>
<ellipse cx="620" cy="81" rx="6" ry="6" fill="#0080ff" transform="rotate(0 620 81)" shape-rendering="crispEdges"/>
<ellipse cx="620" cy="81" rx="4.2" ry="4.2" fill="#0040ff" transform="rotate(0 620 81)" shape-rendering="crispEdges"/>
<ellipse cx="525.5" cy="120" rx="7.5" ry="7.5" fill="#00c0ff" transform="rotate(0 525.5 120)" shape-rendering="crispEdges"/>
<ellipse cx="525.5" cy="120" rx="5.5" ry="5.5" fill="#0080ff" transform="rotate(0 525.5 120)" shape-rendering="crispEdges"/>
<ellipse cx="525.5" cy="120" rx="3.7" ry="3.7" fill="#0040ff" transform="rotate(0 525.5 120)" shape-rendering="crispEdges"/>
<ellipse cx="534" cy="146.5" rx="10" ry="8" fill="#00c0ff" transform="rotate(0 534 146.5)" shape-rendering="crispEdges"/>
<ellipse cx="534" cy="146.5" rx="8" ry="6" fill="#0080ff" transform="rotate(0 534 146.5)" shape-rendering="crispEdges"/>
<ellipse cx="534" cy="146.5" rx="6.2" ry="4.2" fill="#0040ff" transform="rotate(0 534 146.5)" shape-rendering="crispEdges"/>
<ellipse cx="539.5" cy="144" rx="8" ry="8" fill="#00c0ff" transform="rotate(0 539.5 144)" shape-rendering="crispEdges"/>
<ellipse cx="539.5" cy="144" rx="6" ry="6" fill="#0080ff" transform="rotate(0 539.5 144)" shape-rendering="crispEdges"/>
<ellipse cx="539.5" cy="144" rx="4.2" ry="4.2" fill="#0040ff" transform="rotate(0 539.5 144)" shape-rendering="crispEdges"/>
<ellipse cx="557.5" cy="137.5" rx="8.5" ry="8.5" fill="#00c0ff" transform="rotate(0 557.5 137.5)" shape-rendering="crispEdges"/>
<ellipse cx="557.5" cy="137.5" rx="6.5" ry="6.5" fill="#0080ff" transform="rotate(0 557.5 137.5)" shape-rendering="crispEdges"/>
<ellipse cx="557.5" cy="137.5" rx="4.7" ry="4.7" fill="#0040ff" transform="rotate(0 557.5 137.5)" shape-rendering="crispEdges"/>
<ellipse cx="460.5" cy="160.5" rx="8" ry="9" fill="#00c0ff" transform="rotate(0 460.5 160.5)" shape-rendering="crispEdges"/>
<ellipse cx="460.5" cy="160.5" rx="6" ry="7" fill="#0080ff" transform="rotate(0 460.5 160.5)" shape-rendering="crispEdges"/>
<ellipse cx="460.5" cy="160.5" rx="4.2" ry="5.2" fill="#0040ff" transform="rotate(0 460.5 160.5)" shape-rendering="crispEdges"/>
<ellipse cx="496" cy="240" rx="11" ry="13" fill="#00c0ff" transform="rotate(0 496 240)" shape-rendering="crispEdges"/>
<ellipse cx="496" cy="240" rx="9" ry="11" fill="#0080ff" transform="rotate(0 496 240)" shape-rendering="crispEdges"/>
<ellipse cx="496" cy="240" rx="7.2" ry="9.2" fill="#0040ff" transform="rotate(0 496 240)" shape-rendering="crispEdges"/>
<path d="M130.5,37V571 M214.5,37V571 M299.5,37V571 M383.5,37V571 M468.5,37V571 M552.5,37V571 M637.5,37V571 M112,570.5H639 M112,485.5H639 M112,400.5H639 M112,314.5H639 M112,225.5H639 M112,133.5H639 M112,38.5H639" stroke="#000" stroke-width="1" fill="none" shape-rendering="crispEdges"/>
<path d="M130.6,418.0L116.6,421.7M120.1,417.5L116.6,421.7L121.7,423.7M130.6,400.8L116.2,402.9M120.2,399.0L116.2,402.9L121.1,405.4M130.6,383.7L117.5,389.8M120.1,385.0L117.5,389.8L122.9,390.8M130.6,366.4L117.0,371.4M120.1,366.8L117.0,371.4L122.3,372.9M147.5,435.0L133.7,439.6M136.9,435.1L133.7,439.6L139.0,441.3M147.5,418.0L133.0,417.4M137.5,414.4L133.0,417.4L137.3,420.8M147.5,400.8L133.0,401.2M137.3,397.9L133.0,401.2L137.5,404.3M147.5,383.7L133.0,384.9M137.2,381.3L133.0,384.9L137.7,387.8M147.5,366.4L133.2,369.2M137.0,365.2L133.2,369.2L138.2,371.5M164.4,452.0L150.7,456.8M153.8,452.3L150.7,456.8L155.9,458.4M164.4,435.0L150.0,437.0M154.0,433.2L150.0,437.0L154.9,439.6M164.4,418.0L149.9,417.1M154.5,414.1L149.9,417.1L154.1,420.6M164.4,400.8L149.9,399.6M154.6,396.7L149.9,399.6L154.1,403.2M164.4,383.7L151.0,378.0M156.4,376.8L151.0,378.0L153.8,382.7M164.4,366.4L149.9,366.4M154.3,363.2L149.9,366.4L154.3,369.7M181.2,469.0L168.2,475.3M170.8,470.5L168.2,475.3L173.6,476.3M181.2,452.0L167.6,457.0M170.7,452.4L167.6,457.0L172.9,458.5M181.2,435.0L166.9,437.0M170.8,433.2L166.9,437.0L171.7,439.6M181.2,418.0L166.8,416.7M171.5,413.9L166.8,416.7L170.9,420.3M181.2,400.8L166.8,402.1M170.9,398.5L166.8,402.1L171.5,404.9M181.2,383.7L168.4,376.9M173.9,376.1L168.4,376.9L170.8,381.8M198.1,519.8L188.3,530.5M189.0,525.1L188.3,530.5L193.7,529.4M198.1,502.9L187.0,512.2M188.3,506.9L187.0,512.2L192.5,511.9M198.1,486.0L185.9,493.8M187.9,488.6L185.9,493.8L191.4,494.1M198.1,469.0L185.0,475.2M187.6,470.4L185.0,475.2L190.4,476.2M198.1,452.0L184.7,457.6M187.6,452.9L184.7,457.6L190.1,458.9M198.1,435.0L183.8,437.0M187.7,433.2L183.8,437.0L188.6,439.6M198.1,418.0L183.6,418.0M188.1,414.7L183.6,418.0L188.1,421.2M198.1,400.8L184.1,404.6M187.6,400.3L184.1,404.6L189.2,406.6M215.0,553.6L208.9,566.8M207.8,561.4L208.9,566.8L213.7,564.1M215.0,536.7L207.1,548.9M206.8,543.4L207.1,548.9L212.3,546.9M215.0,519.8L206.7,531.7M206.6,526.2L206.7,531.7L211.9,529.9M215.0,502.9L204.9,513.3M205.7,507.9L204.9,513.3L210.3,512.4M215.0,486.0L203.3,494.6M205.0,489.3L203.3,494.6L208.8,494.5M215.0,469.0L202.4,476.1M204.7,471.1L202.4,476.1L207.8,476.8M215.0,452.0L201.9,458.2M204.5,453.4L201.9,458.2L207.3,459.2M215.0,435.0L201.5,440.2M204.5,435.6L201.5,440.2L206.8,441.6M231.9,553.6L225.8,566.8M224.7,561.4L225.8,566.8L230.6,564.1M231.9,536.7L224.5,549.2M224.0,543.7L224.5,549.2L229.5,547.0M231.9,519.8L223.7,531.8M223.5,526.3L223.7,531.8L228.9,530.0M231.9,502.9L222.2,513.7M222.8,508.3L222.2,513.7L227.6,512.6M231.9,486.0L220.5,494.9M222.0,489.6L220.5,494.9L226.0,494.7M231.9,469.0L220.0,477.3M221.8,472.1L220.0,477.3L225.5,477.4M231.9,452.0L219.5,459.6M221.6,454.5L219.5,459.6L225.0,460.1M231.9,435.0L219.4,442.4M221.6,437.4L219.4,442.4L224.9,442.9M231.9,418.0L219.3,425.2M221.6,420.2L219.3,425.2L224.8,425.8M231.9,243.7L222.2,254.5M222.8,249.0L222.2,254.5L227.6,253.4M248.8,553.6L241.9,566.4M241.2,561.0L241.9,566.4L246.9,564.0M248.8,536.7L241.1,549.0M240.7,543.5L241.1,549.0L246.2,547.0M248.8,519.8L240.7,531.9M240.5,526.4L240.7,531.9L245.9,530.0M248.8,502.9L239.8,514.3M240.0,508.8L239.8,514.3L245.1,512.8M248.8,486.0L238.5,496.2M239.3,490.8L238.5,496.2L243.9,495.4M248.8,469.0L237.9,478.6M239.1,473.3L237.9,478.6L243.4,478.1M248.8,452.0L237.3,461.0M238.8,455.7L237.3,461.0L242.8,460.8M248.8,435.0L237.1,443.6M238.8,438.4L237.1,443.6L242.6,443.6M248.8,418.0L236.9,426.3M238.7,421.1L236.9,426.3L242.4,426.4M248.8,400.8L237.4,409.9M238.9,404.6L237.4,409.9L242.9,409.6M248.8,261.5L239.1,272.3M239.6,266.8L239.1,272.3L244.4,271.2M248.8,243.7L239.4,254.8M239.8,249.4L239.4,254.8L244.8,253.5M248.8,225.8L239.8,237.3M240.0,231.8L239.8,237.3L245.1,235.7M248.8,207.8L240.4,219.7M240.3,214.2L240.4,219.7L245.6,217.9M265.6,553.6L258.1,566.0M257.6,560.5L258.1,566.0L263.1,563.9M265.6,536.7L259.3,549.8M258.3,544.3L259.3,549.8L264.1,547.2M265.6,519.8L258.3,532.3M257.8,526.9L258.3,532.3L263.3,530.1M265.6,486.0L256.5,497.2M256.8,491.8L256.5,497.2L261.8,495.8M265.6,469.0L255.7,479.6M256.4,474.1L255.7,479.6L261.1,478.6M265.6,452.0L255.0,461.9M256.1,456.5L255.0,461.9L260.4,461.2M265.6,435.0L254.8,444.6M256.0,439.2L254.8,444.6L260.2,444.1M265.6,418.0L254.5,427.3M255.9,421.9L254.5,427.3L260.0,426.9M265.6,400.8L255.4,411.1M256.2,405.7L255.4,411.1L260.8,410.2M265.6,279.2L254.9,288.9M256.0,283.6L254.9,288.9L260.3,288.4M265.6,261.5L255.9,272.3M256.5,266.8L255.9,272.3L261.3,271.2M265.6,243.7L257.1,255.5M257.1,250.0L257.1,255.5L262.3,253.8M265.6,225.8L257.0,237.5M257.1,232.0L257.0,237.5L262.3,235.8M265.6,207.8L257.3,219.7M257.2,214.2L257.3,219.7L262.5,217.9M282.5,536.7L277.6,550.4M276.0,545.1L277.6,550.4L282.1,547.3M282.5,519.8L276.7,533.1M275.5,527.7L276.7,533.1L281.4,530.3M282.5,502.9L275.8,515.8M275.0,510.3L275.8,515.8L280.7,513.3M282.5,486.0L274.5,498.1M274.3,492.6L274.5,498.1L279.7,496.2M282.5,469.0L273.5,480.4M273.7,474.9L273.5,480.4L278.8,478.9M282.5,452.0L272.7,462.7M273.3,457.2L272.7,462.7L278.1,461.6M282.5,435.0L272.4,445.4M273.2,440.0L272.4,445.4L277.9,444.5M282.5,418.0L272.2,428.1M273.1,422.7L272.2,428.1L277.6,427.3M282.5,400.8L272.8,411.6M273.4,406.1L272.8,411.6L278.1,410.4M282.5,383.7L274.2,395.5M274.1,390.0L274.2,395.5L279.4,393.8M282.5,296.8L272.0,306.8M273.0,301.4L272.0,306.8L277.5,306.1M282.5,279.2L272.3,289.5M273.1,284.1L272.3,289.5L277.7,288.6M282.5,261.5L272.9,272.4M273.4,266.9L272.9,272.4L278.2,271.2M282.5,225.8L274.2,237.7M274.1,232.2L274.2,237.7L279.4,235.9M282.5,207.8L272.9,218.6M273.4,213.2L272.9,218.6L278.3,217.5M299.4,536.7L293.9,550.1M292.6,544.8L293.9,550.1L298.5,547.3M299.4,519.8L295.6,533.8M293.7,528.7L295.6,533.8L299.9,530.4M299.4,502.9L294.4,516.6M292.9,511.3L294.4,516.6L299.0,513.5M299.4,486.0L293.1,499.0M292.1,493.6L293.1,499.0L297.9,496.4M299.4,469.0L291.7,481.3M291.3,475.8L291.7,481.3L296.8,479.3M299.4,452.0L290.5,463.5M290.7,458.0L290.5,463.5L295.8,462.0M299.4,435.0L290.2,446.2M290.5,440.7L290.2,446.2L295.5,444.8M299.4,418.0L290.0,429.0M290.4,423.5L290.0,429.0L295.3,427.7M299.4,400.8L289.7,411.6M290.3,406.1L289.7,411.6L295.1,410.5M299.4,383.7L290.3,394.9M290.6,389.4L290.3,394.9L295.6,393.5M299.4,366.4L290.9,378.2M290.9,372.7L290.9,378.2L296.1,376.5M299.4,349.2L291.5,361.3M291.2,355.8L291.5,361.3L296.6,359.3M299.4,331.8L290.3,343.1M290.6,337.6L290.3,343.1L295.6,341.6M299.4,314.4L289.1,324.6M290.0,319.2L289.1,324.6L294.6,323.7M299.4,296.8L289.0,307.0M289.9,301.5L289.0,307.0L294.5,306.2M299.4,279.2L288.9,289.2M289.9,283.8L288.9,289.2L294.3,288.5M299.4,261.5L289.5,272.1M290.2,266.6L289.5,272.1L294.9,271.1M316.3,536.7L310.1,549.9M309.1,544.5L310.1,549.9L314.9,547.2M316.3,519.8L315.0,534.3M312.2,529.6L315.0,534.3L318.6,530.1M316.3,502.9L312.3,516.9M310.4,511.7L312.3,516.9L316.6,513.5M316.3,486.0L311.0,499.5M309.6,494.2L311.0,499.5L315.6,496.5M316.3,469.0L309.7,482.0M308.8,476.5L309.7,482.0L314.6,479.5M316.3,452.0L308.4,464.2M308.1,458.7L308.4,464.2L313.5,462.2M316.3,435.0L308.1,447.0M307.9,441.5L308.1,447.0L313.3,445.1M316.3,418.0L307.6,429.5M307.6,424.0L307.6,429.5L312.8,427.9M316.3,400.8L307.0,412.0M307.4,406.5L307.0,412.0L312.3,410.6M316.3,383.7L307.2,395.0M307.5,389.5L307.2,395.0L312.5,393.5M316.3,366.4L307.8,378.2M307.8,372.7L307.8,378.2L313.0,376.5M316.3,349.2L308.1,361.2M308.0,355.7L308.1,361.2L313.3,359.3M316.3,331.8L307.3,343.1M307.5,337.6L307.3,343.1L312.6,341.7M316.3,314.4L306.4,325.0M307.1,319.5L306.4,325.0L311.8,323.9M316.3,296.8L306.0,307.0M306.9,301.6L306.0,307.0L311.4,306.2M316.3,279.2L305.5,288.9M306.6,283.6L305.5,288.9L311.0,288.4M316.3,261.5L305.3,271.0M306.6,265.7L305.3,271.0L310.8,270.6M316.3,243.7L305.2,253.0M306.5,247.7L305.2,253.0L310.7,252.7M316.3,207.8L304.3,216.0M306.2,210.8L304.3,216.0L309.8,216.2M333.2,502.9L330.1,517.1M327.9,512.1L330.1,517.1L334.2,513.4M333.2,486.0L328.8,499.8M327.1,494.6L328.8,499.8L333.3,496.5M333.2,469.0L327.6,482.4M326.3,477.1L327.6,482.4L332.3,479.6M333.2,452.0L326.4,464.8M325.6,459.4L326.4,464.8L331.3,462.4M333.2,435.0L325.5,447.3M325.1,441.8L325.5,447.3L330.6,445.3M333.2,418.0L324.6,429.7M324.6,424.2L324.6,429.7L329.9,428.0M333.2,400.8L324.3,412.3M324.4,406.8L324.3,412.3L329.6,410.8M333.2,383.7L324.1,395.0M324.4,389.5L324.1,395.0L329.4,393.5M333.2,366.4L324.7,378.2M324.7,372.7L324.7,378.2L330.0,376.5M333.2,349.2L324.8,361.0M324.7,355.5L324.8,361.0L330.0,359.2M333.2,331.8L324.2,343.2M324.4,337.7L324.2,343.2L329.5,341.7M333.2,314.4L323.7,325.4M324.2,319.9L323.7,325.4L329.1,324.1M333.2,296.8L323.2,307.4M323.9,301.9L323.2,307.4L328.6,306.4M333.2,279.2L322.7,289.3M323.7,283.9L322.7,289.3L328.2,288.5M333.2,261.5L321.7,270.5M323.3,265.2L321.7,270.5L327.2,270.3M333.2,243.7L320.9,251.4M322.9,246.3L320.9,251.4L326.3,251.8M333.2,225.8L320.7,233.2M322.9,228.1L320.7,233.2L326.1,233.7M333.2,207.8L320.3,214.5M322.8,209.6L320.3,214.5L325.8,215.3M350.0,502.9L345.1,516.6M343.6,511.3L345.1,516.6L349.7,513.5M350.0,486.0L346.0,499.9M344.2,494.8L346.0,499.9L350.4,496.5M350.0,469.0L344.4,482.4M343.1,477.0L344.4,482.4L349.1,479.5M350.0,452.0L343.9,465.2M342.9,459.8L343.9,465.2L348.7,462.5M350.0,435.0L343.7,448.1M342.7,442.6L343.7,448.1L348.5,445.5M350.0,418.0L341.7,429.8M341.6,424.3L341.7,429.8L346.9,428.0M350.0,400.8L341.6,412.6M341.6,407.1L341.6,412.6L346.8,410.9M350.0,383.7L341.4,395.3M341.5,389.8L341.4,395.3L346.7,393.7M350.0,366.4L341.7,378.3M341.6,372.8L341.7,378.3L346.9,376.5M350.0,349.2L341.4,360.8M341.5,355.3L341.4,360.8L346.7,359.2M350.0,331.8L341.6,343.6M341.6,338.1L341.6,343.6L346.8,341.9M350.0,314.4L340.9,325.6M341.2,320.2L340.9,325.6L346.2,324.2M350.0,296.8L340.5,307.7M341.0,302.3L340.5,307.7L345.8,306.5M350.0,279.2L340.0,289.7M340.7,284.2L340.0,289.7L345.4,288.7M350.0,261.5L338.9,270.9M340.3,265.5L338.9,270.9L344.4,270.5M350.0,243.7L337.9,251.6M339.9,246.5L337.9,251.6L343.4,251.9M350.0,225.8L337.1,232.4M339.6,227.5L337.1,232.4L342.6,233.3M350.0,207.8L336.5,213.0M339.5,208.4L336.5,213.0L341.8,214.4M350.0,189.7L337.7,197.3M339.8,192.2L337.7,197.3L343.2,197.7M366.9,486.0L361.0,499.2M359.9,493.8L361.0,499.2L365.8,496.5M366.9,469.0L362.0,482.7M360.4,477.4L362.0,482.7L366.5,479.6M366.9,452.0L361.5,465.5M360.2,460.2L361.5,465.5L366.2,462.6M366.9,435.0L360.9,448.2M359.8,442.8L360.9,448.2L365.7,445.5M366.9,418.0L358.8,430.0M358.6,424.5L358.8,430.0L364.0,428.1M366.9,400.8L358.7,412.8M358.6,407.3L358.7,412.8L363.9,411.0M366.9,383.7L358.7,395.6M358.5,390.1L358.7,395.6L363.9,393.8M366.9,366.4L358.6,378.3M358.5,372.8L358.6,378.3L363.8,376.5M366.9,349.2L358.8,361.2M358.6,355.7L358.8,361.2L364.0,359.3M366.9,331.8L359.0,344.0M358.7,338.5L359.0,344.0L364.2,342.0M366.9,314.4L358.1,325.8M358.2,320.3L358.1,325.8L363.4,324.3M366.9,296.8L357.6,308.0M358.0,302.5L357.6,308.0L363.0,306.6M366.9,279.2L357.2,290.0M357.8,284.5L357.2,290.0L362.6,288.9M366.9,261.5L356.0,271.1M357.2,265.7L356.0,271.1L361.5,270.6M366.9,243.7L354.9,251.8M356.8,246.7L354.9,251.8L360.4,252.0M366.9,225.8L354.1,232.7M356.5,227.7L354.1,232.7L359.6,233.4M366.9,207.8L353.5,213.4M356.4,208.7L353.5,213.4L358.9,214.6M366.9,189.7L353.8,195.8M356.4,191.0L353.8,195.8L359.2,196.8M383.8,469.0L377.9,482.3M376.7,476.9L377.9,482.3L382.6,479.5M383.8,452.0L378.3,465.4M377.0,460.1L378.3,465.4L383.0,462.6M383.8,435.0L378.1,448.4M376.9,443.0L378.1,448.4L382.8,445.5M383.8,418.0L375.9,430.1M375.6,424.6L375.9,430.1L381.0,428.1M383.8,400.8L375.8,413.0M375.6,407.5L375.8,413.0L381.0,411.0M383.8,383.7L375.8,395.8M375.6,390.3L375.8,395.8L381.0,393.8M383.8,366.4L375.9,378.6M375.6,373.1L375.9,378.6L381.1,376.6M383.8,349.2L376.2,361.5M375.8,356.0L376.2,361.5L381.3,359.4M383.8,331.8L376.4,344.3M375.9,338.8L376.4,344.3L381.5,342.1M383.8,314.4L375.2,326.0M375.2,320.5L375.2,326.0L380.5,324.4M383.8,296.8L374.8,308.2M375.0,302.7L374.8,308.2L380.1,306.7M383.8,279.2L374.4,290.3M374.8,284.8L374.4,290.3L379.8,289.0M383.8,261.5L373.1,271.3M374.2,265.9L373.1,271.3L378.6,270.7M383.8,243.7L372.0,252.1M373.7,246.9L372.0,252.1L377.5,252.2M383.8,225.8L371.2,233.0M373.5,228.0L371.2,233.0L376.7,233.6M383.8,207.8L370.6,213.7M373.3,208.9L370.6,213.7L375.9,214.8M383.8,189.7L371.0,196.5M373.4,191.6L371.0,196.5L376.5,197.3M400.7,452.0L394.7,465.3M393.6,459.9L394.7,465.3L399.5,462.5M400.7,435.0L394.3,448.0M393.3,442.6L394.3,448.0L399.1,445.5M400.7,418.0L393.0,430.2M392.6,424.8L393.0,430.2L398.1,428.2M400.7,400.8L393.0,413.2M392.6,407.7L393.0,413.2L398.1,411.1M400.7,383.7L393.1,396.0M392.6,390.5L393.1,396.0L398.1,393.9M400.7,366.4L393.3,378.9M392.8,373.4L393.3,378.9L398.3,376.7M400.7,349.2L393.6,361.8M392.9,356.3L393.6,361.8L398.6,359.5M400.7,331.8L393.9,344.6M393.1,339.1L393.9,344.6L398.8,342.2M400.7,314.4L392.4,326.2M392.3,320.7L392.4,326.2L397.6,324.4M400.7,296.8L392.4,308.8M392.3,303.3L392.4,308.8L397.6,306.9M400.7,279.2L391.7,290.6M391.9,285.1L391.7,290.6L397.0,289.1M400.7,261.5L390.2,271.6M391.2,266.2L390.2,271.6L395.7,270.8M400.7,243.7L389.0,252.4M390.7,247.1L389.0,252.4L394.5,252.3M400.7,225.8L388.3,233.3M390.4,228.2L388.3,233.3L393.7,233.8M400.7,207.8L387.5,213.8M390.2,209.0L387.5,213.8L392.9,214.9M400.7,189.7L388.5,197.6M390.5,192.4L388.5,197.6L394.0,197.8M417.6,435.0L410.4,447.7M409.8,442.2L410.4,447.7L415.4,445.4M417.6,418.0L409.7,430.1M409.4,424.6L409.7,430.1L414.8,428.1M417.6,400.8L410.0,413.2M409.6,407.7L410.0,413.2L415.1,411.1M417.6,383.7L410.3,396.2M409.7,390.8L410.3,396.2L415.3,394.0M417.6,366.4L410.6,379.2M409.9,373.7L410.6,379.2L415.6,376.8M417.6,349.2L410.9,362.0M410.1,356.6L410.9,362.0L415.8,359.6M417.6,331.8L412.6,345.4M411.1,340.1L412.6,345.4L417.2,342.3M417.6,314.4L411.4,327.5M410.4,322.1L411.4,327.5L416.2,324.8M417.6,296.8L410.1,309.3M409.6,303.8L410.1,309.3L415.2,307.1M417.6,279.2L408.9,290.9M409.0,285.4L408.9,290.9L414.2,289.2M417.6,261.5L407.4,271.9M408.2,266.5L407.4,271.9L412.9,271.0M417.6,243.7L406.1,252.7M407.6,247.4L406.1,252.7L411.6,252.5M417.6,225.8L405.2,233.4M407.3,228.3L405.2,233.4L410.7,233.8M417.6,207.8L404.4,213.9M407.1,209.1L404.4,213.9L409.8,215.0M417.6,189.7L405.6,197.9M407.4,192.7L405.6,197.9L411.1,198.0M417.6,171.4L405.8,179.8M407.5,174.6L405.8,179.8L411.3,179.9M434.4,536.7L421.2,542.6M423.9,537.8L421.2,542.6L426.6,543.7M434.4,519.8L420.6,524.2M423.9,519.8L420.6,524.2L425.8,525.9M434.4,502.9L421.3,509.0M424.0,504.2L421.3,509.0L426.6,510.0M434.4,452.0L427.6,464.8M426.9,459.4L427.6,464.8L432.6,462.4M434.4,435.0L426.9,447.4M426.4,441.9L426.9,447.4L431.9,445.3M434.4,400.8L426.6,413.1M426.3,407.6L426.6,413.1L431.8,411.0M434.4,383.7L428.3,396.8M427.3,391.4L428.3,396.8L433.1,394.1M434.4,366.4L428.9,379.9M427.6,374.5L428.9,379.9L433.6,377.0M434.4,349.2L428.3,362.3M427.3,356.9L428.3,362.3L433.1,359.6M434.4,331.8L430.7,345.8M428.7,340.7L430.7,345.8L435.0,342.3M434.4,314.4L430.0,328.1M428.3,322.9L430.0,328.1L434.4,324.9M434.4,296.8L427.9,309.8M427.0,304.3L427.9,309.8L432.8,307.3M434.4,279.2L426.0,291.0M426.0,285.5L426.0,291.0L431.2,289.3M434.4,261.5L424.3,271.9M425.1,266.5L424.3,271.9L429.7,271.0M434.4,243.7L423.3,253.0M424.6,247.7L423.3,253.0L428.8,252.6M434.4,225.8L422.5,234.1M424.3,228.9L422.5,234.1L428.0,234.2M434.4,207.8L422.4,215.8M424.3,210.7L422.4,215.8L427.9,216.1M434.4,189.7L423.0,198.6M424.5,193.3L423.0,198.6L428.5,198.4M434.4,171.4L423.4,180.8M424.7,175.4L423.4,180.8L428.9,180.4M434.4,153.0L423.1,162.0M424.5,156.7L423.1,162.0L428.5,161.7M451.3,536.7L437.3,540.2M440.8,536.0L437.3,540.2L442.4,542.3M451.3,519.8L437.0,521.9M440.9,518.0L437.0,521.9L441.8,524.4M451.3,502.9L437.7,507.9M440.8,503.4L437.7,507.9L443.0,509.4M451.3,469.0L441.6,479.8M442.2,474.3L441.6,479.8L446.9,478.6M451.3,452.0L444.1,464.6M443.5,459.1L444.1,464.6L449.1,462.4M451.3,435.0L443.5,447.2M443.2,441.8L443.5,447.2L448.6,445.2M451.3,418.0L443.0,429.8M442.9,424.3L443.0,429.8L448.2,428.0M451.3,383.7L446.4,397.3M444.9,392.0L446.4,397.3L451.0,394.2M451.3,366.4L448.3,380.6M446.1,375.6L448.3,380.6L452.4,376.9M451.3,349.2L447.9,363.3M445.8,358.2L447.9,363.3L452.1,359.7M451.3,331.8L447.6,345.8M445.6,340.7L447.6,345.8L451.8,342.3M451.3,314.4L446.4,328.0M444.8,322.7L446.4,328.0L450.9,324.9M451.3,296.8L445.2,310.0M444.1,304.6L445.2,310.0L450.0,307.3M451.3,279.2L443.0,291.1M442.9,285.6L443.0,291.1L448.2,289.3M451.3,261.5L441.1,271.8M441.9,266.4L441.1,271.8L446.5,270.9M451.3,243.7L440.5,253.3M441.7,248.0L440.5,253.3L445.9,252.8M451.3,225.8L439.9,234.8M441.4,229.5L439.9,234.8L445.4,234.6M451.3,207.8L440.0,216.9M441.5,211.6L440.0,216.9L445.5,216.6M451.3,189.7L440.3,199.1M441.6,193.8L440.3,199.1L445.8,198.7M451.3,171.4L441.1,181.6M441.9,176.2L441.1,181.6L446.5,180.8M451.3,153.0L440.7,162.9M441.8,157.5L440.7,162.9L446.2,162.2M451.3,134.4L440.4,144.0M441.6,138.6L440.4,144.0L445.9,143.5M468.2,553.6L454.7,558.8M457.7,554.2L454.7,558.8L460.0,560.2M468.2,536.7L454.6,541.7M457.7,537.2L454.6,541.7L459.9,543.2M468.2,519.8L454.4,524.3M457.6,519.9L454.4,524.3L459.6,526.0M468.2,502.9L454.3,507.0M457.6,502.7L454.3,507.0L459.5,508.9M468.2,486.0L456.4,494.5M458.2,489.3L456.4,494.5L461.9,494.5M468.2,469.0L459.9,480.9M459.8,475.4L459.9,480.9L465.1,479.1M468.2,452.0L460.9,464.6M460.4,459.1L460.9,464.6L466.0,462.4M468.2,435.0L462.1,448.2M461.0,442.8L462.1,448.2L466.9,445.5M468.2,418.0L461.5,430.8M460.7,425.4L461.5,430.8L466.4,428.4M468.2,400.8L461.0,413.4M460.4,407.9L461.0,413.4L466.0,411.2M468.2,383.7L462.7,397.1M461.4,391.7L462.7,397.1L467.4,394.2M468.2,349.2L463.2,362.8M461.7,357.5L463.2,362.8L467.8,359.7M468.2,331.8L462.6,345.2M461.3,339.8L462.6,345.2L467.3,342.3M468.2,279.2L458.6,290.1M459.1,284.7L458.6,290.1L464.0,288.9M468.2,261.5L457.4,271.2M458.5,265.8L457.4,271.2L462.8,270.6M468.2,243.7L457.3,253.3M458.5,248.0L457.3,253.3L462.8,252.8M468.2,225.8L456.8,234.8M458.3,229.5L456.8,234.8L462.3,234.6M468.2,207.8L457.2,217.2M458.5,211.9L457.2,217.2L462.6,216.8M468.2,189.7L457.7,199.6M458.7,194.2L457.7,199.6L463.1,198.9M468.2,171.4L457.4,181.0M458.5,175.7L457.4,181.0L462.8,180.5M468.2,153.0L457.9,163.2M458.8,157.8L457.9,163.2L463.4,162.4M468.2,134.4L458.0,144.8M458.8,139.3L458.0,144.8L463.5,143.9M468.2,115.7L457.8,125.9M458.8,120.5L457.8,125.9L463.3,125.1M485.1,536.7L471.7,542.3M474.6,537.6L471.7,542.3L477.0,543.6M485.1,519.8L471.5,524.9M474.5,520.3L471.5,524.9L476.8,526.3M485.1,502.9L471.5,508.1M474.5,503.5L471.5,508.1L476.9,509.5M485.1,486.0L471.9,492.1M474.6,487.3L471.9,492.1L477.3,493.2M485.1,452.0L479.3,465.4M478.1,460.0L479.3,465.4L484.1,462.6M485.1,435.0L480.5,448.8M478.8,443.5L480.5,448.8L485.0,445.6M485.1,418.0L480.1,431.6M478.6,426.3L480.1,431.6L484.7,428.5M485.1,400.8L479.5,414.2M478.2,408.9L479.5,414.2L484.2,411.4M485.1,383.7L472.8,391.4M474.8,386.3L472.8,391.4L478.3,391.7M485.1,243.7L473.9,253.0M475.3,247.7L473.9,253.0L479.4,252.7M485.1,225.8L473.7,234.8M475.2,229.5L473.7,234.8L479.2,234.6M485.1,207.8L474.3,217.5M475.4,212.1L474.3,217.5L479.8,216.9M485.1,189.7L474.0,199.0M475.3,193.7L474.0,199.0L479.5,198.6M485.1,115.7L475.4,126.5M476.0,121.0L475.4,126.5L480.8,125.4M485.1,96.9L475.3,107.6M475.9,102.1L475.3,107.6L480.7,106.5M485.1,77.8L475.2,88.4M475.9,83.0L475.2,88.4L480.6,87.4M502.0,536.7L488.8,542.9M491.5,538.1L488.8,542.9L494.2,543.9M502.0,519.8L488.6,525.4M491.4,520.7L488.6,525.4L493.9,526.7M502.0,502.9L488.3,507.9M491.4,503.3L488.3,507.9L493.6,509.4M502.0,486.0L489.8,493.8M491.8,488.7L489.8,493.8L495.2,494.1M502.0,469.0L492.1,479.7M492.8,474.2L492.1,479.7L497.5,478.6M502.0,435.0L499.0,449.2M496.8,444.2L499.0,449.2L503.1,445.5M502.0,418.0L502.0,432.5M498.7,428.0L502.0,432.5L505.2,428.0M502.0,400.8L493.6,412.7M493.5,407.2L493.6,412.7L498.8,410.9M502.0,349.2L496.1,362.4M494.9,357.0L496.1,362.4L500.8,359.6M502.0,296.8L491.2,306.6M492.3,301.2L491.2,306.6L496.7,306.0M502.0,243.7L490.3,252.3M492.0,247.1L490.3,252.3L495.8,252.3M502.0,225.8L490.5,234.8M492.0,229.5L490.5,234.8L496.0,234.6M502.0,207.8L490.9,217.1M492.2,211.8L490.9,217.1L496.3,216.7M502.0,189.7L490.7,198.8M492.1,193.5L490.7,198.8L496.2,198.5M502.0,171.4L490.1,179.7M491.9,174.5L490.1,179.7L495.6,179.8M502.0,153.0L488.5,158.4M491.4,153.8L488.5,158.4L493.9,159.7M502.0,115.7L492.3,126.5M492.8,121.0L492.3,126.5L497.6,125.4M502.0,96.9L492.0,107.4M492.7,101.9L492.0,107.4L497.4,106.4M502.0,77.8L492.3,88.7M492.9,83.2L492.3,88.7L497.7,87.5M502.0,58.6L492.6,69.7M493.0,64.3L492.6,69.7L498.0,68.4M518.8,553.6L506.0,560.3M508.4,555.4L506.0,560.3L511.4,561.1M518.8,536.7L506.1,543.6M508.5,538.7L506.1,543.6L511.5,544.3M518.8,519.8L505.9,526.5M508.4,521.6L505.9,526.5L511.4,527.3M518.8,502.9L505.7,509.1M508.4,504.2L505.7,509.1L511.1,510.1M518.8,486.0L507.6,495.1M509.0,489.8L507.6,495.1L513.0,494.8M518.8,469.0L518.8,454.5M522.1,459.0L518.8,454.5L515.6,459.0M518.8,418.0L516.1,432.2M513.7,427.2L516.1,432.2L520.1,428.4M518.8,383.7L517.6,398.1M514.7,393.4L517.6,398.1L521.2,394.0M518.8,314.4L507.6,323.5M509.0,318.2L507.6,323.5L513.1,323.2M518.8,296.8L506.9,305.1M508.7,299.9L506.9,305.1L512.4,305.2M518.8,279.2L506.3,286.5M508.5,281.5L506.3,286.5L511.8,287.1M518.8,261.5L506.5,269.2M508.6,264.1L506.5,269.2L512.0,269.6M518.8,243.7L506.8,251.8M508.7,246.7L506.8,251.8L512.3,252.0M518.8,225.8L507.1,234.3M508.8,229.1L507.1,234.3L512.6,234.3M518.8,207.8L507.4,216.7M508.9,211.4L507.4,216.7L512.9,216.5M518.8,189.7L507.7,199.0M509.1,193.6L507.7,199.0L513.2,198.6M518.8,171.4L507.0,179.7M508.8,174.5L507.0,179.7L512.5,179.8M518.8,153.0L506.3,160.2M508.5,155.2L506.3,160.2L511.8,160.8M518.8,134.4L507.1,142.9M508.8,137.7L507.1,142.9L512.6,142.9M518.8,115.7L508.0,125.3M509.2,120.0L508.0,125.3L513.5,124.8M518.8,96.9L508.3,106.8M509.3,101.4L508.3,106.8L513.7,106.1M518.8,77.8L508.6,88.1M509.4,82.7L508.6,88.1L514.0,87.2M518.8,58.6L508.2,68.5M509.3,63.1L508.2,68.5L513.6,67.8M535.7,536.7L523.4,544.3M525.5,539.3L523.4,544.3L528.9,544.8M535.7,519.8L523.4,527.5M525.5,522.4L523.4,527.5L528.9,527.9M535.7,502.9L523.2,510.2M525.4,505.2L523.2,510.2L528.6,510.7M535.7,486.0L525.0,495.7M526.1,490.3L525.0,495.7L530.4,495.1M535.7,469.0L527.5,481.0M527.4,475.5L527.5,481.0L532.7,479.2M535.7,314.4L523.4,322.0M525.5,316.9L523.4,322.0L528.9,322.4M535.7,296.8L523.3,304.4M525.5,299.3L523.3,304.4L528.8,304.8M535.7,279.2L523.2,286.6M525.4,281.6L523.2,286.6L528.7,287.1M535.7,261.5L523.2,268.8M525.4,263.8L523.2,268.8L528.6,269.4M535.7,243.7L523.4,251.4M525.5,246.3L523.4,251.4L528.9,251.8M535.7,225.8L523.7,233.9M525.6,228.7L523.7,233.9L529.2,234.1M535.7,207.8L524.0,216.3M525.7,211.1L524.0,216.3L529.5,216.3M535.7,189.7L524.1,198.3M525.7,193.0L524.1,198.3L529.6,198.2M535.7,171.4L523.8,179.7M525.6,174.5L523.8,179.7L529.3,179.8M535.7,153.0L523.4,160.7M525.5,155.6L523.4,160.7L528.9,161.1M535.7,134.4L523.6,142.4M525.6,137.3L523.6,142.4L529.1,142.7M535.7,115.7L523.8,124.0M525.6,118.8L523.8,124.0L529.3,124.1M535.7,96.9L523.8,105.1M525.6,99.9L523.8,105.1L529.3,105.2M535.7,77.8L523.7,85.9M525.6,80.8L523.7,85.9L529.2,86.1M535.7,58.6L523.8,66.9M525.6,61.7L523.8,66.9L529.3,67.0M552.6,553.6L541.5,562.9M542.8,557.6L541.5,562.9L546.9,562.5M552.6,536.7L540.7,545.1M542.5,539.8L540.7,545.1L546.2,545.1M552.6,519.8L541.3,528.9M542.7,523.6L541.3,528.9L546.7,528.6M552.6,502.9L542.6,513.4M543.3,508.0L542.6,513.4L548.0,512.4M552.6,486.0L541.4,495.2M542.8,489.8L541.4,495.2L546.9,494.9M552.6,418.0L539.0,413.0M544.3,411.5L539.0,413.0L542.1,417.6M552.6,349.2L540.6,357.3M542.5,352.1L540.6,357.3L546.1,357.5M552.6,331.8L540.5,339.8M542.4,334.7L540.5,339.8L546.0,340.1M552.6,314.4L540.5,322.4M542.4,317.2L540.5,322.4L546.0,322.6M552.6,296.8L540.4,304.7M542.4,299.6L540.4,304.7L545.9,305.0M552.6,279.2L540.2,286.7M542.3,281.6L540.2,286.7L545.6,287.2M552.6,261.5L539.7,268.2M542.2,263.3L539.7,268.2L545.2,269.0M552.6,243.7L540.0,250.8M542.3,245.8L540.0,250.8L545.4,251.5M552.6,225.8L540.3,233.5M542.4,228.4L540.3,233.5L545.8,233.9M552.6,207.8L540.6,216.0M542.5,210.8L540.6,216.0L546.1,216.1M552.6,189.7L540.4,197.6M542.4,192.4L540.4,197.6L545.9,197.8M552.6,171.4L540.3,179.0M542.4,173.9L540.3,179.0L545.8,179.4M552.6,153.0L540.0,160.1M542.3,155.1L540.0,160.1L545.4,160.7M552.6,134.4L540.2,141.9M542.3,136.8L540.2,141.9L545.6,142.4M552.6,115.7L540.0,123.0M542.3,118.0L540.0,123.0L545.5,123.6M552.6,96.9L539.6,103.3M542.2,98.5L539.6,103.3L545.0,104.2M552.6,77.8L539.3,83.5M542.1,78.8L539.3,83.5L544.6,84.7M552.6,58.6L539.7,65.3M542.2,60.4L539.7,65.3L545.2,66.1M569.5,553.6L561.2,565.5M561.1,560.0L561.2,565.5L566.4,563.7M569.5,536.7L560.1,547.8M560.5,542.3L560.1,547.8L565.5,546.5M569.5,519.8L559.2,530.1M560.1,524.7L559.2,530.1L564.7,529.2M569.5,502.9L562.9,515.8M562.0,510.4L562.9,515.8L567.8,513.3M569.5,486.0L561.4,498.0M561.2,492.5L561.4,498.0L566.5,496.1M569.5,469.0L559.9,479.9M560.4,474.5L559.9,479.9L565.3,478.7M569.5,400.8L560.7,412.4M560.8,406.9L560.7,412.4L566.0,410.8M569.5,383.7L559.2,393.9M560.1,388.4L559.2,393.9L564.6,393.0M569.5,366.4L558.2,375.6M559.6,370.3L558.2,375.6L563.7,375.3M569.5,349.2L558.1,358.1M559.6,352.8L558.1,358.1L563.6,357.9M569.5,331.8L557.8,340.4M559.5,335.2L557.8,340.4L563.3,340.4M569.5,314.4L557.6,322.7M559.4,317.5L557.6,322.7L563.1,322.8M569.5,296.8L557.1,304.5M559.2,299.4L557.1,304.5L562.6,304.9M569.5,279.2L556.7,286.1M559.1,281.2L556.7,286.1L562.2,286.9M569.5,261.5L556.3,267.7M559.0,262.9L556.3,267.7L561.7,268.7M569.5,243.7L556.7,250.5M559.1,245.6L556.7,250.5L562.1,251.3M569.5,225.8L557.0,233.3M559.2,228.2L557.0,233.3L562.5,233.8M569.5,207.8L557.0,215.2M559.2,210.1L557.0,215.2L562.5,215.7M569.5,189.7L556.9,196.8M559.1,191.8L556.9,196.8L562.3,197.4M569.5,171.4L556.7,178.2M559.1,173.3L556.7,178.2L562.2,179.0M569.5,153.0L556.6,159.6M559.1,154.7L556.6,159.6L562.0,160.4M569.5,134.4L556.4,140.8M559.0,135.9L556.4,140.8L561.9,141.7M569.5,115.7L556.3,121.9M559.0,117.0L556.3,121.9L561.7,122.9M569.5,96.9L556.0,102.2M558.9,97.5L556.0,102.2L561.3,103.6M569.5,77.8L555.9,83.0M558.9,78.4L555.9,83.0L561.2,84.4M569.5,58.6L555.9,63.6M558.9,59.0L555.9,63.6L561.1,65.1M586.4,553.6L581.4,567.2M579.9,562.0L581.4,567.2L586.0,564.2M586.4,536.7L579.9,549.7M579.0,544.3L579.9,549.7L584.8,547.2M586.4,519.8L579.5,532.6M578.7,527.2L579.5,532.6L584.4,530.2M586.4,502.9L580.2,516.1M579.2,510.7L580.2,516.1L585.0,513.4M586.4,486.0L580.2,499.1M579.2,493.7L580.2,499.1L585.0,496.5M586.4,469.0L579.4,481.8M578.7,476.3L579.4,481.8L584.4,479.4M586.4,452.0L578.7,464.3M578.3,458.9L578.7,464.3L583.8,462.3M586.4,435.0L577.8,446.7M577.8,441.2L577.8,446.7L583.0,445.0M586.4,418.0L576.9,429.0M577.4,423.5L576.9,429.0L582.3,427.7M586.4,400.8L576.1,411.1M577.0,405.7L576.1,411.1L581.5,410.2M586.4,383.7L575.9,393.7M576.9,388.3L575.9,393.7L581.4,393.0M586.4,366.4L575.8,376.3M576.8,370.9L575.8,376.3L581.2,375.7M586.4,349.2L575.6,358.9M576.7,353.5L575.6,358.9L581.1,358.3M586.4,331.8L575.3,341.1M576.6,335.8L575.3,341.1L580.7,340.7M586.4,314.4L574.9,323.3M576.5,318.0L574.9,323.3L580.4,323.1M586.4,296.8L574.5,305.2M576.3,300.0L574.5,305.2L580.0,305.3M586.4,279.2L574.0,286.9M576.1,281.8L574.0,286.9L579.5,287.3M586.4,261.5L573.5,268.3M576.0,263.3L573.5,268.3L579.0,269.1M586.4,243.7L573.4,250.3M575.9,245.4L573.4,250.3L578.9,251.2M586.4,225.8L573.6,232.7M576.0,227.7L573.6,232.7L579.0,233.4M586.4,207.8L573.5,214.4M575.9,209.5L573.5,214.4L578.9,215.3M586.4,189.7L573.4,196.1M575.9,191.2L573.4,196.1L578.8,197.0M586.4,171.4L573.3,177.7M575.9,172.9L573.3,177.7L578.7,178.7M586.4,153.0L573.2,159.1M575.9,154.3L573.2,159.1L578.6,160.1M586.4,134.4L573.0,140.0M575.8,135.3L573.0,140.0L578.3,141.3M586.4,115.7L572.7,120.7M575.8,116.1L572.7,120.7L578.0,122.2M586.4,96.9L572.6,101.5M575.8,97.0L572.6,101.5L577.9,103.2M586.4,77.8L572.5,82.2M575.8,77.8L572.5,82.2L577.7,83.9M586.4,58.6L572.4,62.6M575.8,58.3L572.4,62.6L577.6,64.5M603.2,519.8L598.9,533.7M597.1,528.5L598.9,533.7L603.3,530.4M603.2,502.9L598.3,516.6M596.8,511.3L598.3,516.6L602.8,513.5M603.2,486.0L597.9,499.5M596.5,494.2L597.9,499.5L602.6,496.5M603.2,469.0L597.6,482.4M596.3,477.0L597.6,482.4L602.3,479.5M603.2,452.0L596.1,464.7M595.5,459.2L596.1,464.7L601.1,462.4M603.2,435.0L594.8,446.8M594.8,441.3L594.8,446.8L600.0,445.1M603.2,418.0L593.5,428.7M594.1,423.3L593.5,428.7L598.9,427.6M603.2,400.8L593.4,411.5M594.1,406.0L593.4,411.5L598.8,410.4M603.2,383.7L593.3,394.2M594.0,388.7L593.3,394.2L598.7,393.2M603.2,366.4L593.1,376.8M593.9,371.3L593.1,376.8L598.5,375.9M603.2,349.2L592.8,359.2M593.7,353.8L592.8,359.2L598.2,358.4M603.2,331.8L592.5,341.6M593.6,336.2L592.5,341.6L598.0,341.0M603.2,314.4L592.3,323.9M593.5,318.5L592.3,323.9L597.8,323.4M603.2,296.8L591.9,305.9M593.4,300.6L591.9,305.9L597.4,305.6M603.2,279.2L591.3,287.5M593.1,282.3L591.3,287.5L596.8,287.6M603.2,261.5L590.7,268.9M592.9,263.8L590.7,268.9L596.2,269.4M603.2,243.7L590.2,250.1M592.8,245.2L590.2,250.1L595.6,251.0M603.2,225.8L590.2,232.1M592.8,227.2L590.2,232.1L595.6,233.1M603.2,207.8L590.1,214.0M592.8,209.1L590.1,214.0L595.5,215.0M603.2,189.7L590.1,195.7M592.8,190.9L590.1,195.7L595.5,196.8M603.2,171.4L590.0,177.3M592.7,172.5L590.0,177.3L595.4,178.4M603.2,153.0L589.8,158.5M592.7,153.8L589.8,158.5L595.2,159.8M603.2,134.4L589.6,139.4M592.7,134.9L589.6,139.4L594.9,140.9M603.2,115.7L589.4,120.1M592.7,115.6L589.4,120.1L594.6,121.8M603.2,96.9L589.3,100.8M592.7,96.5L589.3,100.8L594.4,102.7M603.2,77.8L589.2,81.3M592.7,77.1L589.2,81.3L594.3,83.4M603.2,58.6L589.1,61.6M592.7,57.6L589.1,61.6L594.1,63.9M620.1,553.6L618.9,568.1M616.0,563.3L618.9,568.1L622.5,563.9M620.1,536.7L617.0,550.9M614.8,545.8L617.0,550.9L621.1,547.2M620.1,519.8L616.7,533.9M614.6,528.8L616.7,533.9L620.9,530.4M620.1,502.9L616.4,516.9M614.4,511.8L616.4,516.9L620.6,513.5M620.1,486.0L615.3,499.7M613.7,494.4L615.3,499.7L619.8,496.5M620.1,469.0L614.2,482.3M613.1,476.9L614.2,482.3L619.0,479.5M620.1,452.0L612.8,464.6M612.3,459.1L612.8,464.6L617.8,462.4M620.1,435.0L611.8,446.9M611.7,441.4L611.8,446.9L617.0,445.1M620.1,418.0L611.1,429.3M611.3,423.8L611.1,429.3L616.4,427.8M620.1,400.8L610.7,411.9M611.2,406.4L610.7,411.9L616.1,410.6M620.1,383.7L610.6,394.6M611.1,389.1L610.6,394.6L615.9,393.4M620.1,366.4L610.4,377.2M611.0,371.7L610.4,377.2L615.8,376.1M620.1,349.2L610.0,359.5M610.8,354.1L610.0,359.5L615.4,358.6M620.1,331.8L609.6,341.8M610.6,336.4L609.6,341.8L615.1,341.1M620.1,314.4L609.5,324.2M610.6,318.8L609.5,324.2L615.0,323.6M620.1,296.8L609.3,306.5M610.5,301.2L609.3,306.5L614.8,306.0M620.1,279.2L608.5,287.8M610.1,282.6L608.5,287.8L614.0,287.8M620.1,261.5L607.7,269.0M609.8,263.9L607.7,269.0L613.1,269.5M620.1,243.7L607.2,250.4M609.7,245.5L607.2,250.4L612.7,251.2M620.1,225.8L607.1,232.2M609.7,227.3L607.1,232.2L612.5,233.1M620.1,207.8L606.9,213.8M609.6,209.0L606.9,213.8L612.3,214.9M620.1,189.7L606.8,195.3M609.6,190.6L606.8,195.3L612.1,196.6M620.1,171.4L606.6,176.7M609.6,172.1L606.6,176.7L612.0,178.1M620.1,153.0L606.5,158.0M609.6,153.4L606.5,158.0L611.8,159.5M620.1,134.4L606.3,138.8M609.6,134.4L606.3,138.8L611.5,140.6M620.1,115.7L606.1,119.4M609.6,115.1L606.1,119.4L611.2,121.4M620.1,96.9L606.0,100.1M609.6,96.0L606.0,100.1L611.0,102.3M620.1,58.6L605.8,61.1M609.7,57.2L605.8,61.1L610.8,63.6M637.0,553.6L635.7,568.1M632.9,563.3L635.7,568.1L639.3,563.9M637.0,536.7L634.5,551.0M632.1,546.1L634.5,551.0L638.4,547.2M637.0,519.8L633.6,533.9M631.5,528.8L633.6,533.9L637.8,530.4M637.0,502.9L632.6,516.8M630.9,511.5L632.6,516.8L637.1,513.5M637.0,486.0L631.7,499.5M630.3,494.2L631.7,499.5L636.4,496.5M637.0,469.0L630.9,482.2M629.8,476.8L630.9,482.2L635.7,479.5M637.0,452.0L630.1,464.8M629.4,459.4L630.1,464.8L635.1,462.4M637.0,435.0L629.4,447.4M629.0,441.9L629.4,447.4L634.5,445.3M637.0,418.0L628.7,429.9M628.6,424.4L628.7,429.9L633.9,428.1M637.0,400.8L628.1,412.3M628.3,406.8L628.1,412.3L633.4,410.7M637.0,383.7L627.7,394.8M628.1,389.3L627.7,394.8L633.1,393.5M637.0,366.4L627.4,377.3M627.9,371.8L627.4,377.3L632.8,376.1M637.0,349.2L627.1,359.7M627.8,354.3L627.1,359.7L632.5,358.7M637.0,331.8L626.7,342.0M627.6,336.6L626.7,342.0L632.2,341.2M637.0,314.4L626.1,323.9M627.3,318.6L626.1,323.9L631.6,323.4M637.0,296.8L625.5,305.7M627.1,300.4L625.5,305.7L631.0,305.5M637.0,279.2L624.9,287.3M626.8,282.1L624.9,287.3L630.4,287.5M637.0,261.5L624.4,268.8M626.7,263.8L624.4,268.8L629.9,269.4M637.0,243.7L624.2,250.6M626.6,245.6L624.2,250.6L629.6,251.3M637.0,225.8L624.0,232.2M626.6,227.3L624.0,232.2L629.4,233.1M637.0,207.8L623.8,213.7M626.5,209.0L623.8,213.7L629.1,214.9M637.0,189.7L623.6,195.1M626.5,190.4L623.6,195.1L628.9,196.4M637.0,171.4L623.4,176.4M626.5,171.8L623.4,176.4L628.7,177.9M637.0,153.0L623.2,157.5M626.4,153.0L623.2,157.5L628.4,159.2M637.0,134.4L623.0,138.2M626.5,133.9L623.0,138.2L628.1,140.2M637.0,115.7L622.8,118.7M626.5,114.7L622.8,118.7L627.8,121.0M637.0,96.9L622.8,99.6M626.5,95.6L622.8,99.6L627.7,101.9M637.0,77.8L622.7,80.2M626.6,76.3L622.7,80.2L627.6,82.7M637.0,58.6L622.6,60.6M626.6,56.8L622.6,60.6L627.5,63.2" fill="none" stroke="#000080" stroke-width="1"/>
<path d="M112,37 502,37.6 500,42 497,47 494.6,50 495.4,56 494,60 496,65 494.6,70 491,72 487,71 485,75 479,77 478,83 476,88 473,93 468,98 461,99.6 460.6,104 464,107 462,114 465,119 462,123 455,125.6 451,130 449,133 445,136 442,139.6 436,142 432,145 430,150 425,153 422,156 415,159 410,163 415,160 409,163 410,169 404,171 398,173 390,175 382,177 380,175 375,179 369,178 366,179 364,176 360,175 359,169 356.6,168 357.6,176 355.6,182 354,188 351,184 349,180 348,188 345,190 346,194 341,195 339,191 335,193 328,195 326,197 320,198 315,200 310,201 307,200 305,204 303,207 305,210 308,214 309,218 303,220 299,218 296,212 295.6,207 298,200 297,198 293,197 291,195 288,198 283,198 280,194 277,194 274,191 271,194 268,195 264,196 260,198 260,201 254,205 245,207 242,209 242.6,214 241,220 237,224 230,228 227,236 225,244 228,251 233,257 238,260 243,268 249,275 255,281 260,286 243,270 250,278 257,285 264,291 271,295 275,302 280,309 283,316 285,324 287,332 288,340 289,348 290,352 287,356 289,360 286,364 287,370 284,374 279,379 274,382 268,386 260,390 253,393 247,396 243,400 240,403 251,395 245,400 241,405 235,409 229,414 222,417 217,422 212,424 211,418 212,410 214,403 215,400 209,399 205,396 199,397 198,392 192,388 193,383 189,380 184,383 182,376 179,370 174,364 169,362 165,355 159,354 148,355 143,352 143,348 147,344 147,339.6 135,339 130,342 130,354 129,364 125,372 122,380 120,388 117,396 116,404 118,412 124,413 127,406 130,410 129,418 131,426 135,430 136,438 137,440 139,446 145,451 153,455 161,460 167,466 175,472 182,479 186,485 188,493 187,500 186,508 188,516 191,523 195,528 198,535 201,541 202,546 198,548 193,547 188,545 181,540 175,536 169,533 162,528 156,524 152,519 153,514 148,509 144,502 141,495 140,488 138,480 136,472 135,465 133,459 129,456 125,452 124,446 120,442 118,440 135,463 131,458 125,450 119,442 113,438 112,438Z M112,509 121,513 129,520 135,526 141,531 145,535 146,539 148,534 152,535 156,540 160,541 165,544 171,544 171,549 175,554 181,558 185,560 189,564 194,569 195,571 112,571 112,570 125,570 117,565 112,564Z M153,536 156,534.4 160,536 159,540 155,541 153.4,539Z M285,571 282,564 283,556 284,549 288,542 291,537 294,541 299,543 303,541 308,543 314,544 318,542 319,534 321,530 322,524 326,522 334,520 342,519 348,517 353,513 357,508 361,504 366,499 368,494 371,493 375,491 380,488 385,486 390,485 393,481 391,479 396,475 400,470 404,466 409,460 413,454 415,452 415,452 417,450 420,453 422.5,457.5 427,461 429,466 431,470 437,473 443,474 448,477 455,480 456,483 450,485 443,486 438,488 440,492 445,493 448,494 443,497 437,498 432,497 428,499 431,504 427,508 423,509 428,514 429,520 425,521 430,526 433,532 432,538 435,544 440,549 445,552 450,554 447,557 439,558 434,552 432,556 430,562 428,571Z M277,239 280,234 285,230 292,227 299,226 306,225 313,225 317,228 316,233 313,238 309,242 306,247 303,251 298,254 292,257 285,255 279,253 277,247 276.6,242Z M494,128 498,130 501,133 500,142 497,149 494,156 492,164 489,170 485,177 484,184 483,189 480,189 477,183 473,176 471.4,169 472,161 474,154 477,147 481,140 485,134 490,130Z M466,571 467,563 470,558 473,554 475,557 480,555 483,549 488,548 494,551 501,552 509,554 517,556 525,555 533,556 539,554 544,550 548,545 553,542 557,544 555,549 551,553 547,559 541,563 533,565 525,565 517,562 509,561 501,562 493,561 485,562 479,561 473,564 471,571Z M478.2,252.5 481.9,250 485,250.6 487.5,249.4 490.7,251.9 495.1,255 499.4,256.3 503.2,254.4 505.1,251.9 506.9,253.1 506.3,258.8 505.1,263.8 505.7,268.8 508.2,271.9 510.7,276.3 510.1,280.7 508.2,285.1 505.7,289.4 503.2,292.6 498.8,295.1 496.3,297.6 495.1,300.7 495.7,303.8 493.2,306.3 491.9,309.5 494.4,313.2 496.3,316.3 496.9,321.3 498.2,324.4 500.1,326.9 502.6,329.4 505.1,330.6 507.6,328.8 510.1,326.3 513.8,325 512.5,325.6 516.3,326.9 518.8,330 520.7,333.8 523.8,332.5 526.9,331.3 530.7,331.9 533.8,332.5 536.3,331.3 538.8,330 541.9,331.3 543.2,334.4 541.9,337.5 539.4,338.8 536.9,336.9 533.8,335.7 530.7,336.3 529.4,338.8 531.3,341.9 534.4,343.8 537.5,345 538.8,347.5 536.9,349.4 537.5,352.5 536.3,355.7 533.8,353.8 531.3,350.7 528.8,348.2 526.3,345 524.4,341.9 522.5,338.8 520,336.9 517.5,335 514.4,331.9 511.9,331.3 510,333.1 510.6,336.9 512.5,340 513.1,343.2 511.3,344.4 509.4,341.9 507.5,338.8 505.6,335.7 502.5,333.8 498.2,331.9 495.1,333.8 491.3,335.7 486.9,336.9 483.2,335.7 480,333.8 479.4,330 480.7,326.3 483.8,324.4 485,320.6 483.2,318.8 480,320.1 478.2,324.5 476.3,322.6 473.8,318.8 470.6,315.1 468.8,310.1 467.5,304.4 466.3,298.8 465,293.8 465.6,290.1 467.5,291.9 471.3,293.8 473.8,292.6 474.4,287.6 475.7,281.3 476.9,275 476.3,270 475.7,263.8 476.9,257.5Z M475.7,340.7 479.4,340 484.4,340 488.8,341.9 491.9,345.7 493.8,350 494.4,355.1 492.5,358.8 490,361.3 487.5,362.6 485.7,358.8 483.8,355.1 481.9,351.3 480,346.9 477.5,343.2Z M500.1,340 503.2,340 503.8,343.2 501.3,344.8 499.4,343.2Z M502.6,355.3 504.8,355.1 505.1,359.4 503.2,360.3Z M509.4,357.6 513.2,356.9 514.1,359.4 511.3,360.7Z M503.2,370.1 506.3,370.7 510.1,372.6 513.8,373.8 517.6,374.4 520.7,375.1 520.1,378.2 517.6,381.3 513.8,383.2 510.7,386.3 508.2,388.8 505.1,390.7 503.2,392.6 501.9,388.8 501.3,385.1 502.6,380.1 503.2,375.1Z M524.4,358.2 526.9,357.6 530,360.1 533.2,363.2 536.3,366.3 537.5,369.4 535,368.2 531.9,365.7 528.8,363.8 525.7,363.2 523.8,365.1 522.5,361.9Z M509.4,357.6 513.1,358.2 513.8,360.1 510.6,360.7Z M541.3,357.6 546.3,356.9 552.6,356.3 556.3,356.9 558.8,359.4 561.3,362.6 562,366.3 560.1,370.1 562,373.8 562.6,377.6 560.1,380.1 556.9,379.5 554.4,377 553.2,373.2 552.6,370.1 550.1,367.6 547.6,365.1 544.4,362.6 542.6,360.1Z M543.2,372.6 545.7,373.8 545.1,377 548.2,377.6 551.3,377 553.2,380.1 552.6,385.1 553.8,388.8 555.7,392.6 555.1,396.4 555.7,390 555.1,395 553.2,397.5 551.3,394.4 549.4,390 548.8,385 548.2,385.1 545.7,381.3 543.2,377.6Z M518.8,386.3 523.2,384.5 526.9,385.7 527.5,390.1 526.3,395.1 527.5,387.5 525.7,392.5 523.2,397.5 521.9,402.5 522.5,407.5 523.2,411.9 521.9,415.7 519.4,416.3 517.5,413.2 514.4,410 510.7,408.2 508.8,405 510,402.5 513.8,400.6 516.9,398.8 516.3,392.5 516.9,385 517.5,392.6Z M533.2,383.2 535.7,384.5 534.4,390.1 532.5,395.1 534.4,390 532.6,394.4 530.1,399.4 528.2,403.8 526.9,408.2 525,410 525.7,406.3 526.9,401.3 528.8,396.3 531.3,390 530.7,391.3 531.9,386.3Z M533.8,402.5 536.9,399.4 540.7,398.1 543.8,399.4 545.1,402.5 542.6,405 538.8,406.3 535.1,405.7Z M527.5,413.5 530.3,413.2 530.7,415.3 528.2,415.8Z M546.6,413.8 548.8,413.5 548.8,415.7 546.6,415.7Z M511.5,387.8 514,387.5 514.4,391.9 512.3,392.8Z M560.1,405 563.8,406.9 567,409.4 570.1,411.9 573.2,415 575.1,418.2 573.9,421.3 572.6,423.8 575.7,426.9 577,431.3 576.4,435.1 577.6,437.6 579.5,441.3 580.1,445.1 578.9,448.2 576.4,450.7 575.1,453.2 574.5,457.6 573.9,462.6 573.8,464.4 573.2,461.3 572.6,457.5 571.3,453.1 569.4,450 568.2,446.9 565.7,445.6 563.2,446.9 563.8,450 561.3,451.9 559.4,455 560.1,458.1 562.6,460.7 564.4,463.8 565.1,466.9 563.2,470.7 561.3,473.2 559.4,475 557.5,471.3 556.3,467.5 555,470 551.3,470.7 546.9,468.8 542.5,466.3 538.8,463.2 536.9,458.8 535.6,453.8 536.9,450 540,446.9 538.8,443.8 536.9,440 537.6,459.5 535.7,455.1 536.3,451.3 539.4,448.8 540.1,445.1 538.2,441.9 535.7,440.1 533.2,438.2 530.1,436.3 528.8,437.6 526.3,440.1 524.4,441.9 521.9,440.1 520,441.3 518.2,445.7 516.3,443.8 515,440.7 513.2,440.1 510.7,441.9 508.8,445.1 507.5,448.8 505.6,452.6 502.5,453.2 501.3,450.7 501.9,447.6 503.8,443.8 504.4,439.4 506.3,436.3 509.4,434.4 513.8,433.2 518.2,432.6 519.4,430.1 520.7,426.9 523.8,425.1 526.9,423.2 529.4,423.8 531.9,425.7 533.2,429.4 537.6,431.3 540.7,428.8 541.3,425.7 545.1,425.1 548.2,422.5 550.1,418.8 552.6,420 555.1,418.8 558.2,418.2 562,418.2 562.6,415 561.3,410Z M500.6,458.2 502.5,457 505.3,457.6 505.6,460.1 503.1,461.6 501,460.7Z M460.1,387.5 461.9,389.4 461.3,392.5 458.2,395 455.1,397.5 451.9,400.1 448.8,401.3 446.9,405.1 445.7,409.4 443.2,411.9 440,413.8 436.3,416.3 432.5,419.4 428.8,422.6 425,425.1 421.9,426.3 422.5,423.8 425.6,420.7 429.4,416.9 433.8,413.2 438.2,409.4 441.9,405.7 445.7,401.9 448.2,398.2 451.9,394.4 455.7,390.7 458.2,388.2Z" fill="#c0c0c0" stroke="#000" stroke-width="1" stroke-linejoin="round"/>
<path d="M260,197 254,195 247,190 243,186 242,180 244.6,175 243,172 237,172 231,171 225,167 220.4,163.6 216,166 213,167 212,173 207,175 201,172.4 198,179 193,177 191,174 187,178 182,181 178,177 173,175 169,180 167,183 163,180 158,181 157,187 160,192 161,198 159,204 154,203 150,199 149,194 145,197 141,199 135,198 131,194 130,189 125,188 118,187 117,183 120,178 119,173 123,172 121,168 113,167 M167,183 171,187 174,190 178,193 180,198 179,203 182,207 185,210 192,212 195,209 201,208 205,211 208,216 205,218 210,221 214,224 212,229 205,231 199,233 198,237 196,238 201,241 207,245 213,248 217,250 218,255 221,258 223,263 224,260 229,268 237,275 242,283 246,289 254,294 252,300 257,306 260,310 232,270 237,274 239,280 243,287 248,290 254,295 252,300 257,305 260,309 257,315 256,320 M150,199 145,203 140,209 135,212 133,218 138,222 137,228 140,233 147,233 152,234 153,242 150,248 148,258 148,263 153,234 153,243 150,250 148,256 149,262 145,267 150,270 158,263 165,257 169,258 175,264 182,260 185,254 193,255 199,256 203,262 208,268 211,271 210,280 211,287 217,292 222,296 225,303 223,309 223,316 225,322 225,326 M133,218 129,218 124,219 119,223 113,225 M113,332 116,336 117,346 120,354 121,363 116,336 118,346 120,356 123,366 122,376 117,388 M225,326 223,326 218,327 214,324 201,324 189,324 181,326 176,332 171,339 172,346 175,355 175,363 172,354 175,360 177,365 M225,326 229,329 233,331 237,324 243,321 249,324 255,320 258,314 260,310 M256,320 255,328 258,336 259,344 257,352 258,359 252,362 245,366 239,368 237,371 230,372 229,376 232,382 235,387 233,390 227,388 222,387 219,390 215,391 M134,458 140,459 145,462 148,466 148,472 152,474 157,471 162,472 165,467 M371,493 372,498 377,502 380,501 381,494 380,488 M385,487 386,494 390,497 388,490 388,486 M291,537 293,542 297,547 301,550 306,555 310,556 315,553 322,553 329,552 336,550 337,546 341,544 349,544 352,546 358,548 363,549 369,546 375,545 380,540 381,534 385,529 386,522 391,517 393,510 394,502 398,498 404,497 410,497 415,498 M301,163 303,160 308,162 313,163 323,161.6 M212,366 215,378 218,386 222,392 228,398 M415,498 418,497 424,497.6 429,499.6" fill="none" stroke="#000" stroke-width="1" stroke-linejoin="round"/>
<path d="M230,316 230,330 231,340 232,350 232,360" fill="none" stroke="#000" stroke-width="1" stroke-dasharray="1.5 2.5"/>
<path d="M224.6,518.4 229,517 232,514 235,512 238,511.6 241.4,514 239,517 237,521 235,522.4 233,519 230,520 227.4,522.4Z M592.4,111 597,109.6 601,107.6 604,103 607,99 609.6,97.6 610,100 607.6,103.6 605,108 602,111 598,112.4 594,112.4Z M623.6,75 627,71 630,68.4 632.6,66.6 632.4,69 630,72 627.6,75 625,77Z M618.4,80 620.4,78.4 621.6,81 620,83.6 618.6,82.4Z M500.7,37.7 503.2,37.7 503.2,40.3 500.7,40.3Z M502.1,39.9 503.9,39.9 503.9,41.6 502.1,41.6Z M496.7,46.3 499.3,46.3 499.3,47.8 496.7,47.8Z M494.3,48.9 497.2,48.9 497.2,51.6 494.3,51.6Z M495.3,51.5 497.2,51.5 497.2,52.7 495.3,52.7Z M495.2,58 498,58 498,61.3 495.2,61.3Z M493.9,60.1 497.2,60.1 497.2,63.3 493.9,63.3Z M493.5,61.8 496.8,61.8 496.8,63.9 493.5,63.9Z M495.8,65 497.8,65 497.8,67 495.8,67Z M495.9,68 498.6,68 498.6,71.2 495.9,71.2Z M487.2,70.8 490.6,70.8 490.6,73.9 487.2,73.9Z M483.7,73.2 486.8,73.2 486.8,75.6 483.7,75.6Z M483.8,76.5 487.2,76.5 487.2,77.9 483.8,77.9Z M477.7,75.9 480.6,75.9 480.6,79.1 477.7,79.1Z M476.2,80.8 479,80.8 479,82.7 476.2,82.7Z M474.1,89.4 475.5,89.4 475.5,91.9 474.1,91.9Z M473.5,90.6 476,90.6 476,92.1 473.5,92.1Z M470.1,93.1 473.4,93.1 473.4,96.3 470.1,96.3Z M470,94.9 472.6,94.9 472.6,97.4 470,97.4Z M469.3,98.1 471.6,98.1 471.6,100.3 469.3,100.3Z M464.4,100.1 466.7,100.1 466.7,102.5 464.4,102.5Z M462,99.3 463.3,99.3 463.3,101.8 462,101.8Z M461.3,98.5 463.6,98.5 463.6,101.2 461.3,101.2Z M461.9,102.9 463.1,102.9 463.1,104.2 461.9,104.2Z M461.2,104.1 463.4,104.1 463.4,106.6 461.2,106.6Z M462.1,104.5 464.1,104.5 464.1,107.1 462.1,107.1Z M465,107.2 466.3,107.2 466.3,109.7 465,109.7Z M463.7,112 465.4,112 465.4,113.6 463.7,113.6Z M461.7,115 463.6,115 463.6,116.9 461.7,116.9Z M462.6,119.3 464.5,119.3 464.5,121.9 462.6,121.9Z M460.2,122 462.5,122 462.5,123.7 460.2,123.7Z M454.7,126.1 457.3,126.1 457.3,129.1 454.7,129.1Z M451.5,127.4 454.4,127.4 454.4,129.2 451.5,129.2Z M449.7,130 451.8,130 451.8,133.3 449.7,133.3Z M449,133.4 452.1,133.4 452.1,136.8 449,136.8Z M445.8,136.5 447.5,136.5 447.5,139.4 445.8,139.4Z M441.9,138 443.9,138 443.9,139.7 441.9,139.7Z M438.8,139.9 441.8,139.9 441.8,141.2 438.8,141.2Z M434,144.1 437.2,144.1 437.2,146.6 434,146.6Z M431.5,143.1 433.3,143.1 433.3,145.8 431.5,145.8Z M432.7,146 435.3,146 435.3,148 432.7,148Z M429.5,149 432.5,149 432.5,151 429.5,151Z M429,151.2 430.6,151.2 430.6,154.1 429,154.1Z M418.5,158.8 419.8,158.8 419.8,160.6 418.5,160.6Z M415.3,157.7 417.5,157.7 417.5,160.6 415.3,160.6Z M413.9,158.2 415.4,158.2 415.4,159.5 413.9,159.5Z M414.4,160 415.7,160 415.7,161.1 414.4,161.1Z M410.7,162.8 413.3,162.8 413.3,164.3 410.7,164.3Z M409.7,161.4 410.9,161.4 410.9,162.8 409.7,162.8Z M402.2,171.2 404.7,171.2 404.7,173.9 402.2,173.9Z M395.7,174.1 397.7,174.1 397.7,175.5 395.7,175.5Z M394.3,174.9 397,174.9 397,177 394.3,177Z M389.1,174.6 391.9,174.6 391.9,177.3 389.1,177.3Z M388.3,175.8 390.1,175.8 390.1,177.1 388.3,177.1Z M384.5,174.4 385.6,174.4 385.6,176.7 384.5,176.7Z M382.6,175.9 384.3,175.9 384.3,178.9 382.6,178.9Z M380.1,175.3 382.4,175.3 382.4,176.9 380.1,176.9Z M377.2,175.3 379.4,175.3 379.4,178.1 377.2,178.1Z M376.1,176 378.6,176 378.6,178.2 376.1,178.2Z M373.1,178.1 375,178.1 375,179.2 373.1,179.2Z M355.7,170.6 358.3,170.6 358.3,172.4 355.7,172.4Z M357.4,172.9 358.6,172.9 358.6,174.6 357.4,174.6Z M355.3,177.5 356.6,177.5 356.6,180.1 355.3,180.1Z M353.4,181.8 356.4,181.8 356.4,183.7 353.4,183.7Z M353.5,183.8 354.8,183.8 354.8,186.2 353.5,186.2Z M352.5,186.9 354,186.9 354,189.9 352.5,189.9Z M349.4,184.5 351.2,184.5 351.2,187.5 349.4,187.5Z M349.7,182.8 350.8,182.8 350.8,184.7 349.7,184.7Z M346.4,180.6 348.4,180.6 348.4,181.6 346.4,181.6Z M348.1,179.3 349.5,179.3 349.5,182 348.1,182Z M349.8,181.6 352,181.6 352,184.6 349.8,184.6Z M348.1,186.7 350.7,186.7 350.7,189.1 348.1,189.1Z M346.3,186.7 349,186.7 349,189.5 346.3,189.5Z M343.6,194.8 345.9,194.8 345.9,197.4 343.6,197.4Z M341.4,194.8 342.9,194.8 342.9,197.7 341.4,197.7Z M323.9,197.7 325.8,197.7 325.8,200 323.9,200Z M320.7,196.7 322.4,196.7 322.4,198.5 320.7,198.5Z M318.3,197.1 320.6,197.1 320.6,199.2 318.3,199.2Z M314.4,198.8 316.3,198.8 316.3,200 314.4,200Z M312.1,199 313.4,199 313.4,201.4 312.1,201.4Z M306,200 307.9,200 307.9,201.3 306,201.3Z M304.6,210.4 305.8,210.4 305.8,211.5 304.6,211.5Z M305.8,212.9 307.7,212.9 307.7,214.4 305.8,214.4Z M308.5,216.3 310,216.3 310,218 308.5,218Z M301.8,218.2 303.9,218.2 303.9,220.4 301.8,220.4Z M300.5,218.8 302.3,218.8 302.3,219.9 300.5,219.9Z M299.2,219.3 300.5,219.3 300.5,221.4 299.2,221.4Z M295.1,213 297.2,213 297.2,214.1 295.1,214.1Z M297,201.7 298.4,201.7 298.4,203.6 297,203.6Z M295.8,197.7 297.2,197.7 297.2,199.1 295.8,199.1Z M295.8,196.3 297.8,196.3 297.8,198.7 295.8,198.7Z M290.8,197.4 292.5,197.4 292.5,198.9 290.8,198.9Z M289.4,196.9 291,196.9 291,198.5 289.4,198.5Z M284.9,196.2 286.6,196.2 286.6,198.4 284.9,198.4Z M282.7,198.6 284.6,198.6 284.6,200.7 282.7,200.7Z M281.6,196.2 283.8,196.2 283.8,197.6 281.6,197.6Z M254,202.5 256,202.5 256,204.2 254,204.2Z M248.9,204.8 251.1,204.8 251.1,206.9 248.9,206.9Z M247.9,206.4 249.2,206.4 249.2,208.3 247.9,208.3Z M242.1,208.8 244.3,208.8 244.3,210.3 242.1,210.3Z M242.8,210.3 244.5,210.3 244.5,211.4 242.8,211.4Z M241.3,212.1 243.7,212.1 243.7,214 241.3,214Z M241.1,214.8 243.5,214.8 243.5,217.2 241.1,217.2Z M209.8,416.7 210.9,416.7 210.9,418.3 209.8,418.3Z M211.8,410.9 213.3,410.9 213.3,411.9 211.8,411.9Z M210.6,408.1 211.8,408.1 211.8,409.3 210.6,409.3Z M206.8,397 207.9,397 207.9,398.2 206.8,398.2Z M204.7,395.1 206.4,395.1 206.4,396.9 204.7,396.9Z M198.4,396 200.2,396 200.2,397.5 198.4,397.5Z M197.3,392.1 198.6,392.1 198.6,394.1 197.3,394.1Z M193.6,389.3 195.6,389.3 195.6,391.2 193.6,391.2Z M191.6,386.6 193.1,386.6 193.1,388.5 191.6,388.5Z M192,386 193.8,386 193.8,387.9 192,387.9Z M188.4,380.1 190.1,380.1 190.1,381.7 188.4,381.7Z M180.4,375.9 182.6,375.9 182.6,377.9 180.4,377.9Z M180.4,374.8 181.5,374.8 181.5,376.3 180.4,376.3Z M180.5,372.9 182.4,372.9 182.4,374 180.5,374Z M178,371 179.1,371 179.1,372.5 178,372.5Z M169.4,361.5 171.5,361.5 171.5,363.7 169.4,363.7Z M168.4,360.7 169.6,360.7 169.6,362.2 168.4,362.2Z M165.5,356.6 166.9,356.6 166.9,358.2 165.5,358.2Z M149.5,354.8 151.5,354.8 151.5,356.7 149.5,356.7Z M143.7,351.4 144.8,351.4 144.8,352.6 143.7,352.6Z M143.2,350 144.2,350 144.2,351.2 143.2,351.2Z M143.2,346.9 145.3,346.9 145.3,348.7 143.2,348.7Z M144.8,344.9 146.2,344.9 146.2,346.1 144.8,346.1Z M438.8,473.4 440.8,473.4 440.8,474.5 438.8,474.5Z M442,473.4 443.9,473.4 443.9,475.1 442,475.1Z M449,477.8 450.4,477.8 450.4,478.9 449,478.9Z M451.1,476.4 452.7,476.4 452.7,477.6 451.1,477.6Z M453.8,479.8 455.7,479.8 455.7,481.4 453.8,481.4Z M453.1,483 455.1,483 455.1,485.3 453.1,485.3Z M449.2,486 451,486 451,487.3 449.2,487.3Z M439.1,487 440.3,487 440.3,489.1 439.1,489.1Z M439.4,489.8 441.8,489.8 441.8,492.1 439.4,492.1Z M442.1,491.5 443.9,491.5 443.9,492.6 442.1,492.6Z M441.4,495.7 442.9,495.7 442.9,497.1 441.4,497.1Z M428,496.8 430,496.8 430,499.3 428,499.3Z M428.6,499.9 429.6,499.9 429.6,502 428.6,502Z M429.4,500.9 430.7,500.9 430.7,502.6 429.4,502.6Z M422.2,508.7 423.3,508.7 423.3,510.5 422.2,510.5Z M423.9,520.4 425.5,520.4 425.5,522.3 423.9,522.3Z M430.5,529.3 432.8,529.3 432.8,530.3 430.5,530.3Z M433.7,540.8 434.8,540.8 434.8,542.7 433.7,542.7Z M436.5,544.8 438.2,544.8 438.2,546 436.5,546Z M445.9,556.4 447.1,556.4 447.1,558.5 445.9,558.5Z M437.6,556.3 438.7,556.3 438.7,558.7 437.6,558.7Z M432.2,553.7 434.3,553.7 434.3,555.7 432.2,555.7Z M431.8,557.1 433.9,557.1 433.9,559.5 431.8,559.5Z M429.2,562 431.7,562 431.7,563.6 429.2,563.6Z M184.5,506.5 186.1,506.5 186.1,508.6 184.5,508.6Z M187,508.5 188.1,508.5 188.1,509.9 187,509.9Z M188,518 189.6,518 189.6,520.1 188,520.1Z M196.7,529.7 198.5,529.7 198.5,531.2 196.7,531.2Z M196.5,532.3 197.8,532.3 197.8,534.3 196.5,534.3Z M200.2,535.1 201.3,535.1 201.3,536.6 200.2,536.6Z M201.8,538 203,538 203,539.7 201.8,539.7Z M202.8,541.5 204,541.5 204,542.5 202.8,542.5Z M200.5,544.2 201.6,544.2 201.6,545.8 200.5,545.8Z M193,556 199,554 203,558 201,563 196,564 193,561Z M201,564 207,562 210,566 208,570 203,570Z M184,560 189,562 191,567 187,568 183,565Z M199,521 201,520 202,525 200,526Z M196,525 197.4,524.4 198,527.6 196.4,528Z M243,205.6 249,204.4 255,201.6 260,200.4 260,204.4 255,207 250,209 245,210 242.6,209Z M386.4,480 390,479 393,480 392,482.6 388,483Z M321.2,524.4 323.6,524 324,529.6 321.4,530Z M416.9,432.6 419.4,431.1 423.1,431.6 422.5,434.5 419.4,435.1 417.5,436.6 416.5,435.1Z M455.7,385 456.6,381.3 458.8,378.1 461.9,375.6 464.4,375.3 464.8,377.5 463.2,380.7 461.3,383.8 459.1,385.7 456.9,386.3Z M465.3,363.1 466.9,361 470.1,360.6 473.2,361.5 474.5,364.4 473.2,367.5 471.6,370 468.8,370.6 466.9,368.8 465.7,366.3Z M459.4,158 462,157 463,162 460.6,164 459,162Z M530.6,144.4 533,143 535.6,145 535,148 531.6,148Z M537.6,143.6 540,142 541,145.6 538.4,146.4Z M555.6,136 558,135 560.4,139 557,140Z M518,143 519.6,143 519.6,144.6 518,144.6Z M493.4,187 495,187 495.4,190 493.8,190Z M499,210 502,207 502.6,209.6 500.6,212.4Z M498.6,217 502,215.6 502.6,218 499.4,220Z M499.4,243 502.6,242.4 503,246 500,246.4Z M557.8,525 560.6,524.4 561,528 558.2,528.4Z M558.2,530.4 560.2,530.4 560.2,535 558.2,535Z M562,393.1 564.1,392.5 565.1,397.5 564.5,402.5 562.6,401.9 561.6,397.5Z M568.8,400.6 571.4,400 572.4,405 571.4,408.8 569.5,408.2Z M416.9,433.8 418.8,431.9 420.3,432.8 419.8,436.3 417.8,437.5Z M491.6,454.8 493.8,453.5 495.1,455.7 496.4,457.8 494.5,458.5 492.6,456.9Z M499.5,456.3 502.6,455 507,456 507.9,459.4 505.1,462.3 501.4,461.9 499.1,459.4Z M496.4,465.7 499.1,464.8 499.9,466.9 497.4,467.8Z M476.1,462.5 478.8,461 481.3,461.9 481.1,465.7 478.2,467.6 476.1,466.1Z M482,462.8 485.1,463.2 485.7,466.1 483.2,466.9Z M482.6,467.8 487,466.9 490.7,467.6 492.8,469.4 490.7,471.6 485.7,471.3 483.2,470.1Z M480.1,474.1 483.2,472.9 485.3,474.4 484.5,477.6 481.3,478.6 479.8,476.6Z M466.9,469.1 470.1,468.6 470.8,470.8 467.6,471.6Z M461.9,471.1 463.8,470.7 464.1,472.6 462.3,472.8Z M474.8,471.9 476.3,471.6 476.6,473.6 475.1,473.8Z M465.1,483.8 468.2,481.3 471.3,479.1 474.4,478.2 477.6,480.1 477,483.2 473.8,484.4 470.1,484.8Z M458.2,487.8 460.1,487.6 460.3,491.3 458.4,491.6Z M464.4,487.2 466.3,487 466.6,489.5 464.8,489.7Z M441,451 444,451 444,452.8 441,452.8Z M433.8,464.4 436.3,463.5 437.8,466.3 436.9,473.2 434.4,474.1 433.1,470.1Z M462,100 467,98 472,100 471,105 466,109 462.6,106Z M454,124 459,121 465,122.4 464,127 457,129Z M433,143 439,139.6 445,139 450.6,141 448,145 441,148 435,148.4Z M412,158 418,154.4 424.6,155.6 422,160 415,162.4Z M498,44 501,43 502,47 499,48Z M503,49 505.4,48.4 505.8,51.6 503.4,52Z M496,52 499,51 500,55 497,55.6Z M494,60 498,58.4 500.6,62 499,68 495,69Z M485,72 489,69.6 493,71 492,75 487,76Z M479,78 483,76.4 485,79 483,82 479.4,81.6Z M499.6,315 503,313.2 505,318 503.4,324 500.2,322.8Z M478.9,251.8 480.8,251.8 480.8,253.3 478.9,253.3Z M483.7,250.7 485.8,250.7 485.8,252 483.7,252Z M491.8,253.6 493.9,253.6 493.9,254.7 491.8,254.7Z M502.6,250.4 504,250.4 504,252.2 502.6,252.2Z M509.4,272.5 511.2,272.5 511.2,274.4 509.4,274.4Z M497,318.6 498.8,318.6 498.8,320.4 497,320.4Z M496.6,319.8 497.9,319.8 497.9,321.4 496.6,321.4Z M506.1,328 507.9,328 507.9,329.1 506.1,329.1Z M530.5,329.8 531.6,329.8 531.6,331 530.5,331Z M531.1,329.8 532,329.8 532,331.9 531.1,331.9Z M532.1,336 533.7,336 533.7,338.2 532.1,338.2Z M524.7,344.2 526.4,344.2 526.4,346.2 524.7,346.2Z M509.4,335.3 510.4,335.3 510.4,337.4 509.4,337.4Z M512.1,338.5 513.1,338.5 513.1,339.9 512.1,339.9Z M509,340.8 510.7,340.8 510.7,342.4 509,342.4Z M507.9,337.9 509.2,337.9 509.2,339.9 507.9,339.9Z M492.4,332.9 493.4,332.9 493.4,333.8 492.4,333.8Z M487.6,335.8 489.8,335.8 489.8,336.8 487.6,336.8Z M479.8,333.1 481.9,333.1 481.9,334 479.8,334Z M483.8,324.9 485,324.9 485,326.7 483.8,326.7Z M482.7,318.1 483.7,318.1 483.7,319.8 482.7,319.8Z M479.2,319.2 480,319.2 480,321.3 479.2,321.3Z M476.2,322 477.9,322 477.9,322.8 476.2,322.8Z M470.9,312.8 472.1,312.8 472.1,314 470.9,314Z M466.4,300.1 468.5,300.1 468.5,301.9 466.4,301.9Z M464.3,296.6 466.1,296.6 466.1,298 464.3,298Z M463.5,290.7 465.5,290.7 465.5,291.6 463.5,291.6Z M469.6,292.4 470.7,292.4 470.7,293.5 469.6,293.5Z M476,279.3 477.7,279.3 477.7,280.2 476,280.2Z M475.6,275.9 477.1,275.9 477.1,277.3 475.6,277.3Z M474.2,271.9 476.4,271.9 476.4,273.9 474.2,273.9Z M482.2,339.4 483.9,339.4 483.9,340.5 482.2,340.5Z M482.1,338.7 484.3,338.7 484.3,339.6 482.1,339.6Z M484.7,339.1 486.1,339.1 486.1,340.3 484.7,340.3Z M489.5,342.6 491.4,342.6 491.4,344.3 489.5,344.3Z M488.5,360.5 489.4,360.5 489.4,362.3 488.5,362.3Z M485.4,359.7 486.5,359.7 486.5,360.6 485.4,360.6Z M485.8,358.3 487.5,358.3 487.5,359.7 485.8,359.7Z M477.4,345.3 479.6,345.3 479.6,347.3 477.4,347.3Z M476.1,341.9 478,341.9 478,342.9 476.1,342.9Z M500.2,340 501.8,340 501.8,341.3 500.2,341.3Z M499.6,343.1 501.7,343.1 501.7,344.9 499.6,344.9Z M502.8,357.9 504.2,357.9 504.2,360 502.8,360Z M510.9,360.1 511.7,360.1 511.7,361.1 510.9,361.1Z M519.1,377.6 520.8,377.6 520.8,378.9 519.1,378.9Z M515.4,380.5 517.5,380.5 517.5,382.6 515.4,382.6Z M513.2,383.8 515.1,383.8 515.1,385.3 513.2,385.3Z M513.4,384 514.3,384 514.3,386 513.4,386Z M531.5,359.3 533.4,359.3 533.4,361.2 531.5,361.2Z M531.9,362.1 533.6,362.1 533.6,363.9 531.9,363.9Z M533.7,364.4 535.2,364.4 535.2,365.3 533.7,365.3Z M531.8,367.3 532.7,367.3 532.7,368.4 531.8,368.4Z M512.2,357.8 513.7,357.8 513.7,359 512.2,359Z M513.7,358.5 515.4,358.5 515.4,360.2 513.7,360.2Z M508.2,359.1 510.3,359.1 510.3,360.9 508.2,360.9Z M543.9,356.4 545.1,356.4 545.1,357.5 543.9,357.5Z M542.9,357.7 544,357.7 544,358.8 542.9,358.8Z M551.8,355.2 553.5,355.2 553.5,357 551.8,357Z M558.4,357.6 559.7,357.6 559.7,359.5 558.4,359.5Z M560.7,366.1 562.9,366.1 562.9,367.6 560.7,367.6Z M561.1,369.2 562.5,369.2 562.5,370.9 561.1,370.9Z M560.3,376.7 562.2,376.7 562.2,378.6 560.3,378.6Z M553.7,377.8 555.4,377.8 555.4,379.9 553.7,379.9Z M552,376.8 553.7,376.8 553.7,377.8 552,377.8Z M541.2,357.4 542.3,357.4 542.3,359 541.2,359Z M543.7,370.9 545.2,370.9 545.2,373 543.7,373Z M550.9,382.6 553,382.6 553,384.1 550.9,384.1Z M552.8,385.9 554.5,385.9 554.5,386.9 552.8,386.9Z M556.4,389.1 557.8,389.1 557.8,390.5 556.4,390.5Z M546.8,383.8 548.9,383.8 548.9,385.7 546.8,385.7Z M525.9,386.2 526.8,386.2 526.8,387.6 525.9,387.6Z M527.4,390.3 529.1,390.3 529.1,391.9 527.4,391.9Z M526.2,389.7 528.3,389.7 528.3,391.5 526.2,391.5Z M521.1,397.6 523.1,397.6 523.1,399.1 521.1,399.1Z M521.9,403.8 523.9,403.8 523.9,404.6 521.9,404.6Z M521.4,403.7 522.9,403.7 522.9,405.2 521.4,405.2Z M521.1,416.2 522.3,416.2 522.3,417.2 521.1,417.2Z M516.2,410 518.4,410 518.4,411 516.2,411Z M516.1,410.8 517.6,410.8 517.6,412.6 516.1,412.6Z M512.2,408.7 513.8,408.7 513.8,409.6 512.2,409.6Z M510.2,407.1 511.2,407.1 511.2,408.1 510.2,408.1Z M510.8,400.6 512.3,400.6 512.3,402.1 510.8,402.1Z M517.1,395.1 519.2,395.1 519.2,397.2 517.1,397.2Z M515.9,385.6 516.9,385.6 516.9,386.5 515.9,386.5Z M515.4,384.9 516.2,384.9 516.2,386.6 515.4,386.6Z M516.9,392.1 518.5,392.1 518.5,393.1 516.9,393.1Z M515.5,392.7 517.5,392.7 517.5,393.7 515.5,393.7Z M534.2,386.3 535.9,386.3 535.9,387.4 534.2,387.4Z M533.3,388.3 534.7,388.3 534.7,389.7 533.3,389.7Z M534.2,390.9 535.5,390.9 535.5,392.8 534.2,392.8Z M532.8,391.7 534.6,391.7 534.6,392.7 532.8,392.7Z M532.1,389.2 534.2,389.2 534.2,391.3 532.1,391.3Z M532.8,392.7 534.9,392.7 534.9,394.5 532.8,394.5Z M527.5,403.8 529.4,403.8 529.4,404.8 527.5,404.8Z M528.8,395.4 530.6,395.4 530.6,396.7 528.8,396.7Z M533.1,381.7 534.7,381.7 534.7,382.9 533.1,382.9Z M543.3,401.8 545.5,401.8 545.5,403.6 543.3,403.6Z M537.1,404.3 538.6,404.3 538.6,405.6 537.1,405.6Z M529.8,411.2 531.4,411.2 531.4,412.4 529.8,412.4Z M546.5,412.5 548.2,412.5 548.2,413.5 546.5,413.5Z M547,416.3 548.2,416.3 548.2,417.2 547,417.2Z M511.9,387.4 513.9,387.4 513.9,389.6 511.9,389.6Z M566.4,408.3 567.9,408.3 567.9,409.5 566.4,409.5Z M575.4,428.2 576.8,428.2 576.8,430 575.4,430Z M575.5,435.1 576.7,435.1 576.7,436.9 575.5,436.9Z M572.5,461.8 573.9,461.8 573.9,464 572.5,464Z M571.2,454 572.4,454 572.4,455 571.2,455Z M565.2,443.3 566.9,443.3 566.9,445.3 565.2,445.3Z M554,468.2 555.2,468.2 555.2,469.4 554,469.4Z M547.7,467.2 548.7,467.2 548.7,468.1 547.7,468.1Z M537.5,461.5 539,461.5 539,463 537.5,463Z M536.7,460.1 538.1,460.1 538.1,460.9 536.7,460.9Z M535.5,455.3 536.5,455.3 536.5,457.2 535.5,457.2Z M536.5,445.2 537.8,445.2 537.8,447 536.5,447Z M536.2,449.2 538.2,449.2 538.2,451.4 536.2,451.4Z M535,454.4 536.8,454.4 536.8,455.8 535,455.8Z M539.9,446.9 541.2,446.9 541.2,448.3 539.9,448.3Z M528.9,436.2 530.7,436.2 530.7,438.2 528.9,438.2Z M517.8,443.6 518.9,443.6 518.9,444.7 517.8,444.7Z M516.5,441.3 518,441.3 518,442.5 516.5,442.5Z M511,439.1 512.5,439.1 512.5,440.6 511,440.6Z M500.6,451.7 502.5,451.7 502.5,452.7 500.6,452.7Z M502.7,444.3 504.4,444.3 504.4,445.3 502.7,445.3Z M511.7,432.4 512.7,432.4 512.7,433.6 511.7,433.6Z M524.8,421.5 527,421.5 527,422.5 524.8,422.5Z M549.9,419 550.7,419 550.7,419.9 549.9,419.9Z M554.5,418.3 556.4,418.3 556.4,419.1 554.5,419.1Z M556.2,418.4 558.3,418.4 558.3,419.3 556.2,419.3Z M561,414.9 562.7,414.9 562.7,416.8 561,416.8Z M558.2,404.1 559.4,404.1 559.4,405 558.2,405Z M499.9,456.5 501.3,456.5 501.3,457.5 499.9,457.5Z M499.7,456.6 501.1,456.6 501.1,457.9 499.7,457.9Z M460,392 462,392 462,393.6 460,393.6Z M444,408.2 446.1,408.2 446.1,409.5 444,409.5Z M438.3,413.5 440,413.5 440,415.5 438.3,415.5Z M436.6,416.2 437.4,416.2 437.4,418 436.6,418Z M434.9,418.1 436.2,418.1 436.2,420.1 434.9,420.1Z M427.5,420.2 429.5,420.2 429.5,421.8 427.5,421.8Z M422.6,425 423.6,425 423.6,426.8 422.6,426.8Z M425.4,419.6 427.2,419.6 427.2,420.9 425.4,420.9Z M426.7,416.2 428.7,416.2 428.7,417.1 426.7,417.1Z M429.6,415.8 431,415.8 431,417.6 429.6,417.6Z M444.6,401.3 445.6,401.3 445.6,402.2 444.6,402.2Z M447.8,396.7 448.8,396.7 448.8,397.8 447.8,397.8Z M453.2,393 455.4,393 455.4,394.3 453.2,394.3Z M465.7,568.9 467.7,568.9 467.7,570.1 465.7,570.1Z M464.8,565.9 466,565.9 466,567.4 464.8,567.4Z M471.9,554.6 473.6,554.6 473.6,555.6 471.9,555.6Z M483.1,549.2 485,549.2 485,550.2 483.1,550.2Z M511,553.5 512.3,553.5 512.3,555.5 511,555.5Z M519.1,555.4 519.9,555.4 519.9,556.9 519.1,556.9Z M522.3,555.5 524,555.5 524,556.8 522.3,556.8Z M522.3,556.1 524.1,556.1 524.1,557.2 522.3,557.2Z M528.8,553.7 530.9,553.7 530.9,554.9 528.8,554.9Z M533.5,557 535.2,557 535.2,557.8 533.5,557.8Z M539.6,550.8 540.8,550.8 540.8,552.2 539.6,552.2Z M547.5,543.7 548.4,543.7 548.4,545.8 547.5,545.8Z M554.7,541.8 555.8,541.8 555.8,543.5 554.7,543.5Z M535,563.4 536.9,563.4 536.9,565.2 535,565.2Z M534,563.8 535.7,563.8 535.7,564.8 534,564.8Z M524.9,563.9 525.8,563.9 525.8,565.3 524.9,565.3Z M522.6,564.6 524.4,564.6 524.4,566 522.6,566Z M517.5,560.5 518.8,560.5 518.8,561.8 517.5,561.8Z M481.8,561 483.3,561 483.3,563.1 481.8,563.1Z M477.6,560 479.5,560 479.5,562.1 477.6,562.1Z M425,497 430,495 433,499 430,503 426,502Z M419,508 425,507 431,509 430,513 424,514 420,511Z M430,533 433,532 433.6,537 430.6,537.6Z M443,532 445.6,531 446,534.4 443.4,535Z M482,375 484,374.4 484.4,377 482.4,377.4Z M485,380 487,379.6 487.4,382 485.4,382.4Z M488,383 489.6,382.6 490,384.8 488.2,385.2Z M481,381 482.6,380.8 482.8,382.6 481.2,382.8Z M364.4,179.4 367.5,178.2 372.6,177.8 375.7,178.8 374.4,182.5 371.3,185.7 367.5,186.9 365,185Z M348.8,178.8 350.7,178.2 351.5,181.3 351,185.7 349.8,186.3 349,182.5Z M355.7,168.5 357.8,167.5 359,170 358.2,171.9 356.5,171.3Z M339.4,190 341.9,189.8 342.5,191.9 340.6,192.5Z M632.4,46.4 634,46 634.2,48 632.6,48.2Z M630.4,48.4 631.6,48.2 631.8,49.8 630.6,50Z M623.6,54.4 625,54.2 625.2,55.8 623.8,56Z M637,40 638.4,39.8 638.6,41.4 637.2,41.6Z" fill="#000" stroke="#000" stroke-width="0.5"/>
<path d="M269,499 273,503 271,508 267,508 265,503Z M279,519 281,519.6 281,523 279,522.4Z M560.6,507 563.4,507 564,512 561,512.4Z M582,493.8 584.5,493.6 585.1,498.2 582.3,498.8Z M581.3,501.6 583.2,501.3 584.1,507 582,507.3Z M560.1,508.2 563.2,507.6 564.4,512 561.9,513.2Z M603.6,104.4 606,101 608.4,99 608,101.6 605.6,105Z M626,74.4 629,71 631.2,69 630,72 627.6,74.8Z M619.2,80.4 620.4,79.6 620.8,81.6 619.6,82.4Z M607.6,530.7 609.4,527.5 612.6,526.3 615.1,528.2 614.4,531.9 612.6,534.4 609.4,535.7 607.6,533.8Z M601.3,535.1 603.2,536.9 603.8,541.3 603.2,546.3 601.3,550.1 598.2,551.9 595.7,553.8 594.4,551.3 595,546.3 596.9,541.3 598.8,537.6Z M606.9,547.6 610.1,545.1 613.8,543.8 616.3,546.3 615.1,550.7 611.3,552.6 608.2,554.4 606.3,557 608.8,559.5 612.6,560.7 615.1,562.6 613.8,564.5 610.1,563.2 606.3,561.3 603.2,562.6 602.6,566.3 602.6,571.3 598.8,571.3 598.8,565.7 596.9,562.6 596.3,559.5 598.8,557.6 601.9,555.1 604.4,551.3Z M191.4,548 196,546 199,547.6 198,550.4 194,551.2Z M203,552 208,551 211,554 210,559 206,560 204,557Z M166,545 171,544 175,548 174,551 170,549Z M176,552 182,554 187,558 185,560 179,558 175,555Z M467.6,362.8 469.8,362 472.1,362.8 472.6,364.5 470.8,365.5 468.8,364.8 467.8,366 466.9,364.5Z M459.2,379 460.4,378.5 460.8,381.3 460.1,384.3 459.1,384Z M491.6,236 494.2,235.6 494.6,238.4 492,238.8Z M500.4,232.4 502.2,232.4 502.2,234.4 500.4,234.4Z M489.6,243.6 492.2,243.2 492.6,246 490,246.4Z M419.4,447.5 420.6,446 422.3,446.5 421.9,448.8 420,449.4Z M422.3,425.3 424.4,425 424.8,426.8 422.8,427Z M501.1,458.2 502.9,456.5 505.6,457.2 506.1,459.4 503.9,461 501.6,460.4Z M483.8,469.1 486.6,468.1 490.1,468.4 491.6,469.6 489.8,470.6 485.3,470.3Z M466.6,483.3 470.1,480.9 472.6,480.2 473.3,481.9 470.1,483.6Z M433.5,469.8 435,468.8 435.7,471.1 434,471.9Z M501,316.4 503,315.6 503.4,321 501.4,321.6Z M367.3,180.8 369.8,180.4 370.1,182.3 367.8,182.7Z" fill="#c0c0c0" stroke="#000" stroke-width="1" stroke-linejoin="round"/>
</g>
<rect x="112" y="37" width="527" height="534" fill="none" stroke="#000" stroke-width="2" shape-rendering="crispEdges"/>
<path d="M130.5,38V43 M130.5,565V570 M164.5,38V43 M164.5,565V570 M198.5,38V43 M198.5,565V570 M231.5,38V43 M231.5,565V570 M265.5,38V43 M265.5,565V570 M299.5,38V43 M299.5,565V570 M333.5,38V43 M333.5,565V570 M366.5,38V43 M366.5,565V570 M400.5,38V43 M400.5,565V570 M434.5,38V43 M434.5,565V570 M468.5,38V43 M468.5,565V570 M501.5,38V43 M501.5,565V570 M535.5,38V43 M535.5,565V570 M569.5,38V43 M569.5,565V570 M603.5,38V43 M603.5,565V570 M636.5,38V43 M636.5,565V570 M113,569.5H118 M633,569.5H638 M113,536.5H118 M633,536.5H638 M113,502.5H118 M633,502.5H638 M113,469.5H118 M633,469.5H638 M113,435.5H118 M633,435.5H638 M113,400.5H118 M633,400.5H638 M113,366.5H118 M633,366.5H638 M113,331.5H118 M633,331.5H638 M113,296.5H118 M633,296.5H638 M113,261.5H118 M633,261.5H638 M113,225.5H118 M633,225.5H638 M113,189.5H118 M633,189.5H638 M113,152.5H118 M633,152.5H638 M113,115.5H118 M633,115.5H638 M113,77.5H118 M633,77.5H638 M113,39.5H118 M633,39.5H638" stroke="#000" stroke-width="1" fill="none" shape-rendering="crispEdges"/>
<text x="375.3" y="19.8" font-size="13" text-anchor="middle" fill="#000050" textLength="254" lengthAdjust="spacingAndGlyphs">Significant Wave Height with Wave Direction</text>
<text x="375.5" y="31.6" font-size="12" font-style="italic" text-anchor="middle" fill="#000050" textLength="181" lengthAdjust="spacingAndGlyphs">Valid For Oct-20-2013 06:00 GMT</text>
<text x="120.1" y="587.6" font-size="11" font-style="italic" fill="#000" textLength="27.5" lengthAdjust="spacingAndGlyphs">100 E</text>
<text x="204.5" y="587.6" font-size="11" font-style="italic" fill="#000" textLength="27.5" lengthAdjust="spacingAndGlyphs">105 E</text>
<text x="288.9" y="587.6" font-size="11" font-style="italic" fill="#000" textLength="27.5" lengthAdjust="spacingAndGlyphs">110 E</text>
<text x="373.3" y="587.6" font-size="11" font-style="italic" fill="#000" textLength="27.5" lengthAdjust="spacingAndGlyphs">115 E</text>
<text x="457.7" y="587.6" font-size="11" font-style="italic" fill="#000" textLength="27.5" lengthAdjust="spacingAndGlyphs">120 E</text>
<text x="542.1" y="587.6" font-size="11" font-style="italic" fill="#000" textLength="27.5" lengthAdjust="spacingAndGlyphs">125 E</text>
<text x="626.5" y="587.6" font-size="11" font-style="italic" fill="#000" textLength="27.5" lengthAdjust="spacingAndGlyphs">130 E</text>
<text x="646" y="573.2" font-size="11" font-style="italic" fill="#000">0</text>
<text x="646" y="488.7" font-size="11" font-style="italic" fill="#000">5 N</text>
<text x="646" y="403.5" font-size="11" font-style="italic" fill="#000">10 N</text>
<text x="646" y="317.1" font-size="11" font-style="italic" fill="#000">15 N</text>
<text x="646" y="228.5" font-size="11" font-style="italic" fill="#000">20 N</text>
<text x="646" y="137.1" font-size="11" font-style="italic" fill="#000">25 N</text>
<text x="646" y="41.9" font-size="11" font-style="italic" fill="#000">30 N</text>
<text x="112.5" y="602.3" font-size="12.3" fill="#000060" fill-opacity="0.9" textLength="127.5" lengthAdjust="spacingAndGlyphs">oceanweather inc.</text>
<text x="637.5" y="599.3" font-size="8" font-style="italic" text-anchor="end" fill="#000060" textLength="114" lengthAdjust="spacingAndGlyphs">Plotted at Oct19, 2013 22:18 GMT</text>
<text x="306" y="614" font-size="9" fill="#000060" textLength="138.5" lengthAdjust="spacingAndGlyphs">Significant Wave Height (Meters)</text>
<text x="311" y="661.6" font-size="9" fill="#000060" textLength="129.5" lengthAdjust="spacingAndGlyphs">Significant Wave Height (Feet)</text>
<rect x="254" y="629" width="3" height="13" fill="#000"/>
<rect x="256" y="629" width="240" height="13" fill="url(#cb)"/>
<text x="256" y="625.6" font-size="9" text-anchor="middle" fill="#000060">0</text>
<text x="276" y="625.6" font-size="9" text-anchor="middle" fill="#000060">1</text>
<text x="296" y="625.6" font-size="9" text-anchor="middle" fill="#000060">2</text>
<text x="316" y="625.6" font-size="9" text-anchor="middle" fill="#000060">3</text>
<text x="336" y="625.6" font-size="9" text-anchor="middle" fill="#000060">4</text>
<text x="356" y="625.6" font-size="9" text-anchor="middle" fill="#000060">5</text>
<text x="376" y="625.6" font-size="9" text-anchor="middle" fill="#000060">6</text>
<text x="396" y="625.6" font-size="9" text-anchor="middle" fill="#000060">7</text>
<text x="416" y="625.6" font-size="9" text-anchor="middle" fill="#000060">8</text>
<text x="436" y="625.6" font-size="9" text-anchor="middle" fill="#000060">9</text>
<text x="456" y="625.6" font-size="9" text-anchor="middle" fill="#000060">10</text>
<text x="476" y="625.6" font-size="9" text-anchor="middle" fill="#000060">11</text>
<text x="496" y="625.6" font-size="9" text-anchor="middle" fill="#000060">12</text>
<text x="256.0" y="649.6" font-size="9" text-anchor="middle" fill="#000060">0</text>
<text x="286.5" y="649.6" font-size="9" text-anchor="middle" fill="#000060">5</text>
<text x="317.0" y="649.6" font-size="9" text-anchor="middle" fill="#000060">10</text>
<text x="347.4" y="649.6" font-size="9" text-anchor="middle" fill="#000060">15</text>
<text x="377.9" y="649.6" font-size="9" text-anchor="middle" fill="#000060">20</text>
<text x="408.4" y="649.6" font-size="9" text-anchor="middle" fill="#000060">25</text>
<text x="438.9" y="649.6" font-size="9" text-anchor="middle" fill="#000060">30</text>
<text x="469.4" y="649.6" font-size="9" text-anchor="middle" fill="#000060">35</text>
<text x="499.8" y="649.6" font-size="9" text-anchor="middle" fill="#000060">40</text>
</svg></body></html>
